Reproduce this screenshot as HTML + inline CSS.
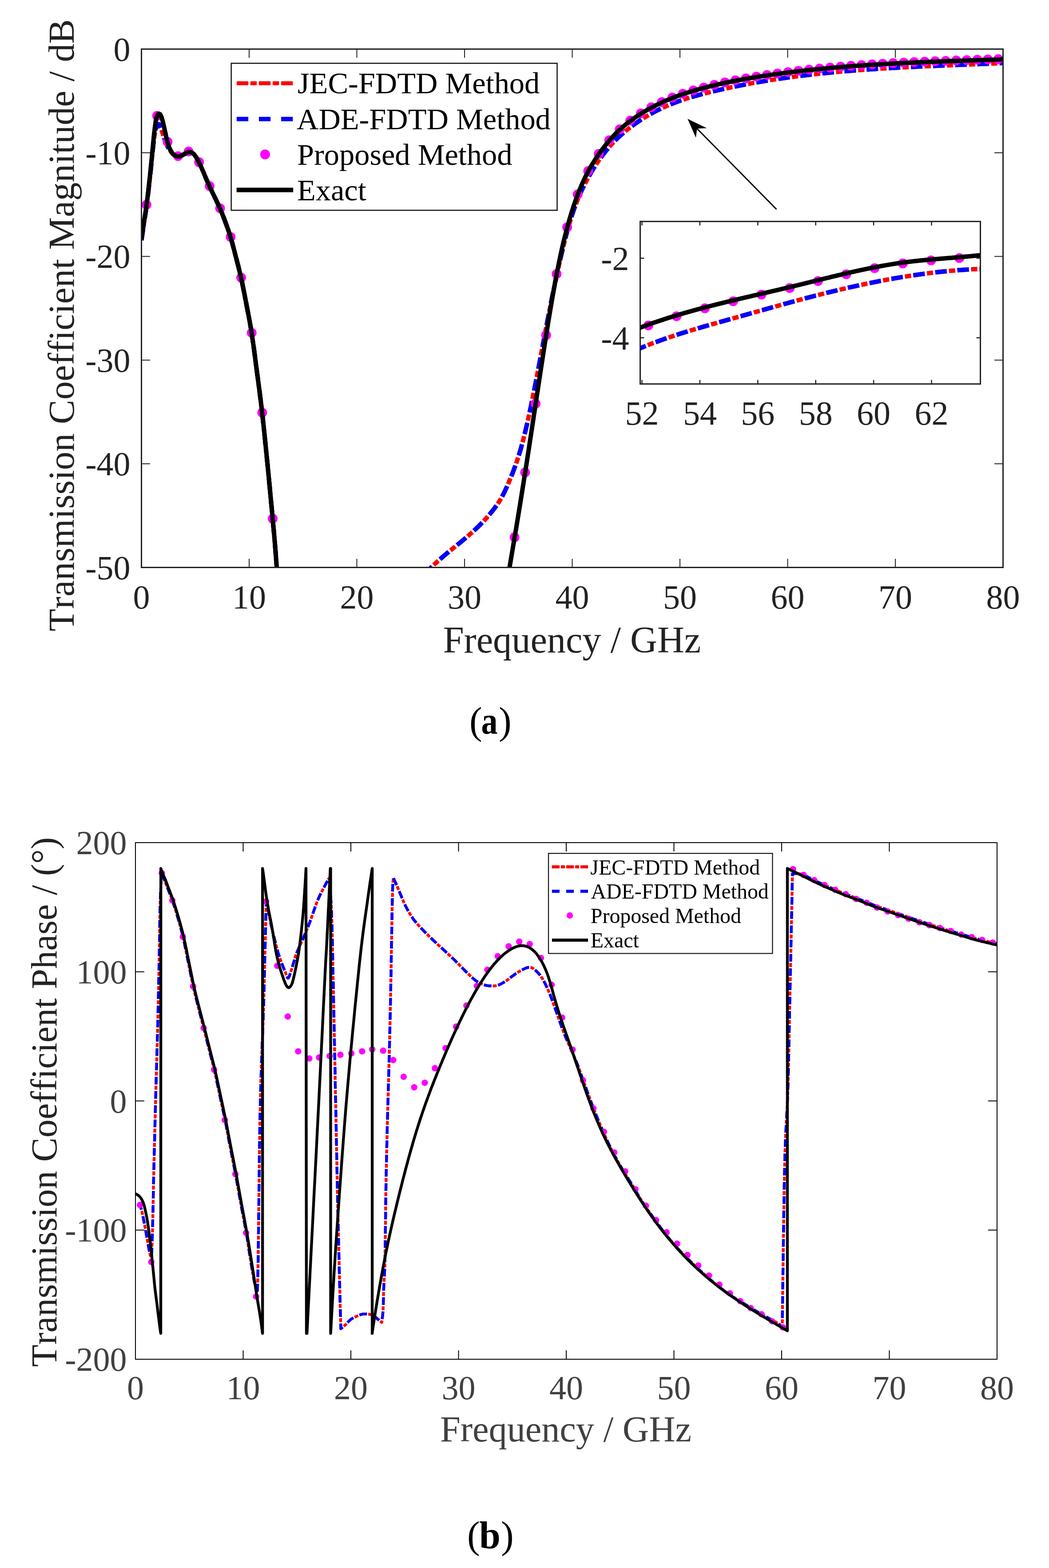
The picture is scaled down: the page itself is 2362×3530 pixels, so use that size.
<!DOCTYPE html>
<html><head><meta charset="utf-8"><title>Transmission coefficient figure</title>
<style>
html,body{margin:0;padding:0;background:#fff;}
svg{display:block;}
text{font-family:"Liberation Serif", "Times New Roman", serif;font-variant-ligatures:none;font-kerning:none;}
</style></head><body>
<svg xmlns="http://www.w3.org/2000/svg" width="2362" height="3530" viewBox="0 0 2362 3530">
<rect x="0" y="0" width="2362" height="3530" fill="#fff"/>
<defs>
<clipPath id="ca"><rect x="318.5" y="110.5" width="1940.0" height="1167.0"/></clipPath>
<clipPath id="ci"><rect x="1441.5" y="498.6" width="766.0" height="365.79999999999995"/></clipPath>
</defs>
<g clip-path="url(#ca)" fill="none" stroke-linejoin="round">
<path d="M318.5,541.0 L318.7,539.7 L318.9,538.2 L319.2,536.4 L319.5,534.4 L319.8,532.2 L320.2,529.9 L320.5,527.4 L320.9,524.9 L321.3,522.2 L321.7,519.6 L322.1,516.9 L322.5,514.2 L322.9,511.5 L323.3,508.9 L323.6,506.4 L324.0,504.0 L324.4,501.7 L324.7,499.3 L325.1,497.0 L325.4,494.7 L325.8,492.4 L326.1,490.0 L326.5,487.7 L326.9,485.4 L327.2,483.0 L327.6,480.7 L327.9,478.3 L328.3,475.9 L328.7,473.4 L329.0,471.0 L329.4,468.5 L329.7,466.0 L330.0,463.5 L330.4,460.9 L330.7,458.4 L331.0,455.8 L331.4,453.2 L331.7,450.6 L332.0,448.0 L332.4,445.3 L332.7,442.6 L333.0,439.9 L333.3,437.2 L333.7,434.4 L334.0,431.6 L334.3,428.8 L334.7,425.9 L335.0,423.0 L335.3,420.0 L335.7,417.0 L336.0,413.9 L336.4,410.8 L336.7,407.6 L337.1,404.4 L337.4,401.1 L337.8,397.9 L338.1,394.6 L338.5,391.3 L338.8,388.1 L339.2,384.8 L339.5,381.6 L339.8,378.3 L340.2,375.1 L340.5,372.0 L340.8,368.8 L341.2,365.6 L341.5,362.3 L341.8,359.0 L342.1,355.7 L342.5,352.4 L342.8,349.1 L343.1,345.9 L343.4,342.7 L343.8,339.5 L344.1,336.5 L344.4,333.5 L344.7,330.7 L345.0,328.0 L345.2,325.4 L345.5,323.0 L345.8,320.8 L346.0,318.6 L346.3,316.6 L346.5,314.8 L346.7,313.0 L346.9,311.3 L347.2,309.7 L347.4,308.2 L347.6,306.7 L347.8,305.4 L348.0,304.0 L348.2,302.8 L348.4,301.5 L348.6,300.3 L348.8,299.2 L349.0,298.0 L349.2,296.9 L349.4,295.8 L349.6,294.9 L349.8,293.9 L350.0,293.1 L350.1,292.3 L350.3,291.5 L350.5,290.8 L350.7,290.1 L350.9,289.5 L351.0,288.9 L351.2,288.3 L351.4,287.7 L351.6,287.1 L351.8,286.6 L352.0,286.0 L352.2,285.4 L352.4,284.9 L352.6,284.4 L352.9,283.9 L353.1,283.5 L353.3,283.0 L353.5,282.6 L353.8,282.2 L354.0,281.9 L354.2,281.5 L354.4,281.2 L354.6,280.9 L354.9,280.6 L355.1,280.4 L355.3,280.2 L355.5,280.0 L355.7,279.8 L355.9,279.7 L356.1,279.6 L356.3,279.5 L356.5,279.4 L356.6,279.4 L356.8,279.4 L357.0,279.4 L357.2,279.4 L357.4,279.5 L357.5,279.6 L357.7,279.7 L357.9,279.9 L358.1,280.1 L358.3,280.3 L358.5,280.5 L358.7,280.8 L358.9,281.1 L359.1,281.4 L359.3,281.8 L359.5,282.1 L359.7,282.6 L359.9,283.0 L360.2,283.5 L360.4,284.0 L360.6,284.5 L360.8,285.0 L361.0,285.6 L361.3,286.2 L361.5,286.8 L361.8,287.4 L362.0,288.0 L362.3,288.7 L362.5,289.3 L362.8,290.1 L363.0,290.8 L363.3,291.6 L363.6,292.4 L363.9,293.2 L364.2,294.0 L364.4,294.9 L364.7,295.7 L365.0,296.6 L365.3,297.5 L365.6,298.4 L365.9,299.2 L366.2,300.1 L366.5,301.0 L366.8,301.9 L367.1,302.8 L367.4,303.7 L367.7,304.7 L368.0,305.6 L368.3,306.6 L368.7,307.6 L369.0,308.6 L369.3,309.5 L369.6,310.5 L369.9,311.5 L370.2,312.4 L370.6,313.3 L370.9,314.3 L371.2,315.1 L371.5,316.0 L371.8,316.8 L372.1,317.7 L372.4,318.5 L372.7,319.3 L373.0,320.1 L373.4,320.9 L373.7,321.6 L374.0,322.4 L374.3,323.1 L374.6,323.9 L374.9,324.6 L375.2,325.3 L375.5,326.0 L375.9,326.7 L376.2,327.3 L376.5,328.0 L376.8,328.6 L377.1,329.3 L377.5,329.9 L377.8,330.4 L378.1,331.0 L378.4,331.5 L378.7,332.1 L379.1,332.6 L379.4,333.1 L379.7,333.6 L380.1,334.2 L380.4,334.7 L380.8,335.3 L381.2,335.8 L381.6,336.4 L382.0,337.0 L382.4,337.6 L382.9,338.3 L383.3,339.0 L383.8,339.6 L384.2,340.4 L384.7,341.1 L385.2,341.8 L385.7,342.5 L386.2,343.2 L386.7,343.9 L387.2,344.6 L387.7,345.2 L388.3,345.9 L388.8,346.4 L389.4,347.0 L390.0,347.5 L390.6,348.0 L391.2,348.4 L391.8,348.9 L392.5,349.3 L393.2,349.8 L393.8,350.2 L394.5,350.6 L395.2,350.9 L395.9,351.2 L396.6,351.5 L397.3,351.8 L398.0,352.0 L398.7,352.2 L399.4,352.3 L400.1,352.4 L400.8,352.5 L401.5,352.5 L402.2,352.4 L402.9,352.3 L403.5,352.2 L404.2,352.0 L404.9,351.8 L405.6,351.5 L406.3,351.2 L407.0,350.9 L407.7,350.6 L408.4,350.2 L409.1,349.9 L409.8,349.5 L410.5,349.2 L411.3,348.8 L412.0,348.5 L412.8,348.1 L413.5,347.7 L414.3,347.3 L415.1,346.8 L415.9,346.3 L416.7,345.8 L417.5,345.3 L418.4,344.8 L419.2,344.3 L420.0,343.9 L420.8,343.4 L421.6,343.0 L422.3,342.7 L423.1,342.4 L423.8,342.1 L424.5,342.0 L425.2,341.9 L425.8,341.9 L426.5,341.9 L427.1,342.0 L427.8,342.1 L428.4,342.2 L429.0,342.4 L429.6,342.6 L430.2,342.8 L430.8,343.1 L431.3,343.4 L431.9,343.7 L432.4,344.0 L433.0,344.3 L433.5,344.7 L434.0,345.0 L434.5,345.4 L435.0,345.7 L435.5,346.1 L435.9,346.5 L436.4,347.0 L436.8,347.4 L437.2,347.9 L437.7,348.4 L438.1,348.9 L438.5,349.5 L438.9,350.0 L439.3,350.6 L439.7,351.2 L440.1,351.8 L440.6,352.4 L441.0,353.0 L441.4,353.7 L441.9,354.3 L442.3,355.0 L442.8,355.8 L443.2,356.5 L443.6,357.2 L444.1,358.0 L444.5,358.8 L444.9,359.6 L445.4,360.4 L445.8,361.3 L446.2,362.1 L446.7,362.9 L447.1,363.8 L447.6,364.6 L448.0,365.5 L448.4,366.4 L448.9,367.2 L449.3,368.1 L449.7,369.0 L450.2,369.9 L450.6,370.8 L451.0,371.7 L451.4,372.6 L451.9,373.5 L452.3,374.5 L452.7,375.4 L453.2,376.4 L453.6,377.4 L454.1,378.4 L454.5,379.4 L455.0,380.5 L455.5,381.6 L455.9,382.7 L456.4,383.8 L456.9,384.9 L457.4,386.1 L457.9,387.2 L458.4,388.4 L458.9,389.6 L459.4,390.8 L459.9,392.1 L460.4,393.3 L460.9,394.5 L461.4,395.8 L461.9,397.0 L462.5,398.3 L463.0,399.5 L463.5,400.8 L464.1,402.0 L464.6,403.3 L465.2,404.6 L465.7,405.9 L466.3,407.2 L466.9,408.5 L467.4,409.8 L468.0,411.1 L468.6,412.4 L469.2,413.8 L469.8,415.1 L470.4,416.4 L471.0,417.8 L471.6,419.1 L472.2,420.5 L472.8,421.9 L473.5,423.2 L474.1,424.6 L474.8,425.9 L475.4,427.3 L476.1,428.7 L476.7,430.1 L477.4,431.4 L478.1,432.8 L478.8,434.2 L479.5,435.7 L480.2,437.1 L480.9,438.5 L481.6,440.0 L482.3,441.5 L483.0,443.0 L483.7,444.5 L484.5,446.1 L485.2,447.6 L486.0,449.2 L486.8,450.8 L487.5,452.4 L488.3,454.1 L489.1,455.7 L489.9,457.4 L490.7,459.0 L491.4,460.7 L492.2,462.3 L493.0,464.0 L493.7,465.7 L494.5,467.3 L495.2,469.0 L495.9,470.6 L496.6,472.3 L497.3,473.9 L498.0,475.5 L498.6,477.0 L499.3,478.6 L499.9,480.2 L500.6,481.8 L501.2,483.5 L501.9,485.1 L502.5,486.8 L503.2,488.5 L503.9,490.3 L504.6,492.2 L505.3,494.0 L506.0,496.0 L506.7,498.0 L507.5,500.1 L508.3,502.2 L509.1,504.3 L509.9,506.5 L510.7,508.7 L511.5,510.9 L512.3,513.2 L513.1,515.5 L514.0,517.9 L514.8,520.3 L515.6,522.7 L516.4,525.1 L517.2,527.6 L518.0,530.2 L518.8,532.7 L519.6,535.3 L520.4,537.9 L521.1,540.6 L521.9,543.3 L522.7,546.1 L523.4,548.9 L524.2,551.8 L524.9,554.6 L525.7,557.5 L526.5,560.4 L527.2,563.3 L528.0,566.2 L528.7,569.2 L529.5,572.1 L530.2,575.1 L531.0,578.0 L531.8,580.9 L532.5,583.8 L533.3,586.7 L534.0,589.6 L534.8,592.6 L535.6,595.5 L536.3,598.4 L537.1,601.4 L537.8,604.3 L538.6,607.4 L539.3,610.4 L540.1,613.5 L540.8,616.7 L541.6,619.9 L542.3,623.2 L543.1,626.5 L543.8,629.9 L544.6,633.4 L545.3,636.9 L546.1,640.5 L546.8,644.1 L547.6,647.8 L548.3,651.5 L549.1,655.3 L549.8,659.0 L550.6,662.9 L551.3,666.7 L552.0,670.5 L552.8,674.4 L553.5,678.3 L554.3,682.1 L555.0,686.0 L555.7,689.9 L556.5,693.7 L557.2,697.5 L557.9,701.3 L558.7,705.1 L559.4,709.0 L560.2,712.8 L560.9,716.7 L561.6,720.6 L562.4,724.6 L563.1,728.7 L563.8,732.8 L564.5,737.0 L565.3,741.3 L566.0,745.8 L566.7,750.3 L567.4,754.9 L568.1,759.7 L568.8,764.6 L569.5,769.5 L570.3,774.5 L571.0,779.6 L571.7,784.8 L572.4,790.0 L573.1,795.3 L573.8,800.6 L574.5,806.0 L575.2,811.4 L575.9,816.8 L576.6,822.2 L577.3,827.6 L578.0,833.0 L578.7,838.4 L579.4,843.8 L580.2,849.1 L580.9,854.5 L581.6,859.9 L582.3,865.3 L583.0,870.7 L583.8,876.2 L584.5,881.8 L585.2,887.4 L585.9,893.1 L586.7,898.9 L587.4,904.8 L588.1,910.8 L588.9,917.0 L589.6,923.3 L590.3,929.7 L591.1,936.3 L591.8,942.9 L592.5,949.7 L593.3,956.6 L594.0,963.5 L594.8,970.5 L595.5,977.7 L596.2,984.9 L597.0,992.1 L597.7,999.5 L598.5,1006.9 L599.2,1014.3 L600.0,1021.8 L600.7,1029.4 L601.5,1037.0 L602.3,1044.8 L603.1,1052.9 L603.9,1061.3 L604.7,1069.9 L605.6,1078.7 L606.4,1087.5 L607.3,1096.4 L608.1,1105.2 L608.9,1113.9 L609.7,1122.5 L610.5,1130.9 L611.3,1138.9 L612.0,1146.6 L612.7,1153.9 L613.3,1160.8 L613.9,1167.1 L614.4,1172.9 L614.9,1178.2 L615.4,1183.1 L615.8,1187.6 L616.2,1191.8 L616.5,1195.7 L616.9,1199.4 L617.2,1202.9 L617.5,1206.3 L617.8,1209.6 L618.1,1212.8 L618.3,1216.1 L618.6,1219.3 L618.9,1222.7 L619.2,1226.3 L619.5,1230.0 L619.8,1233.9 L620.1,1237.9 L620.5,1242.0 L620.8,1246.1 L621.1,1250.3 L621.4,1254.5 L621.7,1258.6 L622.0,1262.7 L622.3,1266.7 L622.6,1270.6 L622.9,1274.3 L623.1,1277.9 L623.4,1281.3 L623.6,1284.4 L623.8,1287.4 L624.0,1290.0 L624.2,1292.4 L624.3,1294.6 L624.5,1296.5 L624.6,1298.3 L624.7,1299.9 L624.8,1301.3 L624.9,1302.6 L625.0,1303.8 L625.1,1304.8 L625.2,1305.7 L625.2,1306.6 L625.3,1307.3 L625.4,1308.1 L625.4,1308.7 L625.5,1309.4 L625.5,1310.0" stroke="#ff0000" stroke-width="10" stroke-dasharray="26 5 14 5"/>
<path d="M955.0,1294.1 L956.5,1292.4 L958.0,1290.8 L959.5,1289.1 L961.0,1287.5 L962.5,1286.0 L964.0,1284.4 L965.5,1282.8 L967.0,1281.3 L968.5,1279.8 L970.0,1278.3 L971.5,1276.8 L973.0,1275.3 L974.5,1273.9 L976.0,1272.4 L977.5,1271.0 L979.0,1269.6 L980.5,1268.2 L982.1,1266.8 L983.6,1265.4 L985.1,1264.1 L986.6,1262.7 L988.1,1261.4 L989.6,1260.0 L991.1,1258.7 L992.6,1257.4 L994.1,1256.1 L995.6,1254.8 L997.1,1253.5 L998.6,1252.2 L1000.1,1250.9 L1001.6,1249.7 L1003.1,1248.4 L1004.6,1247.1 L1006.1,1245.9 L1007.6,1244.6 L1009.1,1243.4 L1010.6,1242.2 L1012.1,1240.9 L1013.6,1239.7 L1015.1,1238.5 L1016.6,1237.3 L1018.1,1236.0 L1019.6,1234.8 L1021.1,1233.6 L1022.6,1232.4 L1024.1,1231.2 L1025.6,1229.9 L1027.1,1228.7 L1028.6,1227.5 L1030.1,1226.3 L1031.6,1225.1 L1033.1,1223.9 L1034.7,1222.6 L1036.2,1221.4 L1037.7,1220.2 L1039.2,1218.9 L1040.7,1217.7 L1042.2,1216.4 L1043.7,1215.2 L1045.2,1213.9 L1046.7,1212.7 L1048.2,1211.4 L1049.7,1210.1 L1051.2,1208.9 L1052.7,1207.6 L1054.2,1206.3 L1055.7,1205.0 L1057.2,1203.7 L1058.7,1202.3 L1060.2,1201.0 L1061.7,1199.7 L1063.2,1198.3 L1064.7,1197.0 L1066.2,1195.6 L1067.7,1194.2 L1069.2,1192.8 L1070.7,1191.4 L1072.2,1190.0 L1073.7,1188.5 L1075.2,1187.1 L1076.7,1185.6 L1078.2,1184.1 L1079.7,1182.6 L1081.2,1181.1 L1082.7,1179.6 L1084.2,1178.1 L1085.7,1176.5 L1087.3,1174.9 L1088.8,1173.3 L1090.3,1171.7 L1091.8,1170.1 L1093.3,1168.4 L1094.8,1166.8 L1096.3,1165.1 L1097.8,1163.4 L1099.3,1161.6 L1100.8,1159.9 L1102.3,1158.1 L1103.8,1156.3 L1105.3,1154.5 L1106.8,1152.6 L1108.3,1150.8 L1109.8,1148.9 L1111.3,1147.0 L1112.8,1145.0 L1114.3,1143.1 L1115.8,1141.1 L1117.3,1139.0 L1118.8,1136.9 L1120.3,1134.7 L1121.8,1132.5 L1123.3,1130.2 L1124.8,1127.8 L1126.3,1125.4 L1127.8,1122.9 L1129.3,1120.2 L1130.8,1117.5 L1132.3,1114.7 L1133.8,1111.8 L1135.3,1108.8 L1136.8,1105.6 L1138.3,1102.4 L1139.9,1099.0 L1141.4,1095.6 L1142.9,1092.2 L1144.4,1088.6 L1145.9,1085.1 L1147.4,1081.5 L1148.9,1077.9 L1150.4,1074.3 L1151.9,1070.6 L1153.4,1066.8 L1154.9,1063.0 L1156.4,1059.1 L1157.9,1055.1 L1159.4,1051.1 L1160.9,1046.9 L1162.4,1042.7 L1163.9,1038.3 L1165.4,1033.8 L1166.9,1029.2 L1168.4,1024.5 L1169.9,1019.6 L1171.4,1014.6 L1172.9,1009.4 L1174.4,1004.0 L1175.9,998.5 L1177.4,992.9 L1178.9,987.1 L1180.4,981.1 L1181.9,975.0 L1183.4,968.7 L1184.9,962.4 L1186.4,955.9 L1187.9,949.2 L1189.4,942.5 L1190.9,935.7 L1192.5,928.7 L1194.0,921.6 L1195.5,914.5 L1197.0,907.3 L1198.5,899.9 L1200.0,892.5 L1201.5,885.1 L1203.0,877.5 L1204.5,869.9 L1206.0,862.3 L1207.5,854.6 L1209.0,846.8 L1210.5,839.0 L1212.0,831.2 L1213.5,823.3 L1215.0,815.4 L1216.5,807.5 L1218.0,799.6 L1219.5,791.7 L1221.0,783.7 L1222.5,775.8 L1224.0,767.9 L1225.5,760.0 L1227.0,752.1 L1228.5,744.2 L1230.0,736.4 L1231.5,728.5 L1233.0,720.8 L1234.5,713.0 L1236.0,705.4 L1237.5,697.7 L1239.0,690.1 L1240.5,682.6 L1242.0,675.1 L1243.5,667.6 L1245.1,660.3 L1246.6,653.0 L1248.1,645.7 L1249.6,638.5 L1251.1,631.4 L1252.6,624.3 L1254.1,617.4 L1255.6,610.4 L1257.1,603.6 L1258.6,596.9 L1260.1,590.2 L1261.6,583.6 L1263.1,577.1 L1264.6,570.7 L1266.1,564.4 L1267.6,558.2 L1269.1,552.1 L1270.6,546.0 L1272.1,540.1 L1273.6,534.3 L1275.1,528.6 L1276.6,523.0 L1278.1,517.5 L1279.6,512.1 L1281.1,506.9 L1282.6,501.7 L1284.1,496.7 L1285.6,491.8 L1287.1,487.0 L1288.6,482.4 L1290.1,477.9 L1291.6,473.5 L1293.1,469.2 L1294.6,465.0 L1296.1,461.0 L1297.7,457.1 L1299.2,453.2 L1300.7,449.5 L1302.2,445.8 L1303.7,442.3 L1305.2,438.8 L1306.7,435.4 L1308.2,432.1 L1309.7,428.8 L1311.2,425.6 L1312.7,422.5 L1314.2,419.5 L1315.7,416.5 L1317.2,413.5 L1318.7,410.6 L1320.2,407.7 L1321.7,404.9 L1323.2,402.1 L1324.7,399.3 L1326.2,396.6 L1327.7,394.0 L1329.2,391.4 L1330.7,388.8 L1332.2,386.2 L1333.7,383.7 L1335.2,381.2 L1336.7,378.8 L1338.2,376.4 L1339.7,374.0 L1341.2,371.7 L1342.7,369.4 L1344.2,367.1 L1345.7,364.9 L1347.2,362.7 L1348.7,360.5 L1350.3,358.4 L1351.8,356.3 L1353.3,354.2 L1354.8,352.1 L1356.3,350.1 L1357.8,348.1 L1359.3,346.2 L1360.8,344.2 L1362.3,342.3 L1363.8,340.4 L1365.3,338.6 L1366.8,336.8 L1368.3,335.0 L1369.8,333.2 L1371.3,331.4 L1372.8,329.7 L1374.3,328.0 L1375.8,326.3 L1377.3,324.7 L1378.8,323.1 L1380.3,321.5 L1381.8,319.9 L1383.3,318.3 L1384.8,316.8 L1386.3,315.3 L1387.8,313.8 L1389.3,312.3 L1390.8,310.8 L1392.3,309.4 L1393.8,308.0 L1395.3,306.6 L1396.8,305.2 L1398.3,303.9 L1399.8,302.5 L1401.3,301.2 L1402.9,299.9 L1404.4,298.6 L1405.9,297.3 L1407.4,296.1 L1408.9,294.8 L1410.4,293.6 L1411.9,292.4 L1413.4,291.2 L1414.9,290.0 L1416.4,288.8 L1417.9,287.6 L1419.4,286.5 L1420.9,285.3 L1422.4,284.2 L1423.9,283.1 L1425.4,282.0 L1426.9,280.9 L1428.4,279.8 L1429.9,278.7 L1431.4,277.7 L1432.9,276.6 L1434.4,275.6 L1435.9,274.5 L1437.4,273.5 L1438.9,272.5 L1440.4,271.5 L1441.9,270.5 L1443.4,269.5 L1444.9,268.6 L1446.4,267.6 L1447.9,266.6 L1449.4,265.7 L1450.9,264.8 L1452.4,263.9 L1453.9,262.9 L1455.5,262.0 L1457.0,261.1 L1458.5,260.3 L1460.0,259.4 L1461.5,258.5 L1463.0,257.6 L1464.5,256.8 L1466.0,256.0 L1467.5,255.1 L1469.0,254.3 L1470.5,253.5 L1472.0,252.7 L1473.5,251.9 L1475.0,251.1 L1476.5,250.3 L1478.0,249.5 L1479.5,248.8 L1481.0,248.0 L1482.5,247.3 L1484.0,246.5 L1485.5,245.8 L1487.0,245.1 L1488.5,244.3 L1490.0,243.6 L1491.5,242.9 L1493.0,242.2 L1494.5,241.5 L1496.0,240.9 L1497.5,240.2 L1499.0,239.5 L1500.5,238.9 L1502.0,238.2 L1503.5,237.6 L1505.0,236.9 L1506.5,236.3 L1508.1,235.7 L1509.6,235.1 L1511.1,234.4 L1512.6,233.8 L1514.1,233.2 L1515.6,232.6 L1517.1,232.1 L1518.6,231.5 L1520.1,230.9 L1521.6,230.3 L1523.1,229.8 L1524.6,229.2 L1526.1,228.7 L1527.6,228.1 L1529.1,227.6 L1530.6,227.0 L1532.1,226.5 L1533.6,226.0 L1535.1,225.5 L1536.6,224.9 L1538.1,224.4 L1539.6,223.9 L1541.1,223.4 L1542.6,222.9 L1544.1,222.5 L1545.6,222.0 L1547.1,221.5 L1548.6,221.0 L1550.1,220.5 L1551.6,220.1 L1553.1,219.6 L1554.6,219.2 L1556.1,218.7 L1557.6,218.3 L1559.1,217.8 L1560.7,217.4 L1562.2,216.9 L1563.7,216.5 L1565.2,216.1 L1566.7,215.7 L1568.2,215.2 L1569.7,214.8 L1571.2,214.4 L1572.7,214.0 L1574.2,213.6 L1575.7,213.2 L1577.2,212.8 L1578.7,212.4 L1580.2,212.0 L1581.7,211.6 L1583.2,211.2 L1584.7,210.8 L1586.2,210.4 L1587.7,210.0 L1589.2,209.7 L1590.7,209.3 L1592.2,208.9 L1593.7,208.5 L1595.2,208.2 L1596.7,207.8 L1598.2,207.4 L1599.7,207.1 L1601.2,206.7 L1602.7,206.3 L1604.2,206.0 L1605.7,205.6 L1607.2,205.3 L1608.7,204.9 L1610.2,204.6 L1611.7,204.2 L1613.3,203.9 L1614.8,203.5 L1616.3,203.2 L1617.8,202.8 L1619.3,202.5 L1620.8,202.1 L1622.3,201.8 L1623.8,201.5 L1625.3,201.1 L1626.8,200.8 L1628.3,200.4 L1629.8,200.1 L1631.3,199.8 L1632.8,199.5 L1634.3,199.1 L1635.8,198.8 L1637.3,198.5 L1638.8,198.1 L1640.3,197.8 L1641.8,197.5 L1643.3,197.2 L1644.8,196.9 L1646.3,196.5 L1647.8,196.2 L1649.3,195.9 L1650.8,195.6 L1652.3,195.3 L1653.8,195.0 L1655.3,194.7 L1656.8,194.4 L1658.3,194.1 L1659.8,193.8 L1661.3,193.5 L1662.8,193.2 L1664.3,192.9 L1665.9,192.6 L1667.4,192.3 L1668.9,192.0 L1670.4,191.7 L1671.9,191.4 L1673.4,191.1 L1674.9,190.8 L1676.4,190.5 L1677.9,190.2 L1679.4,189.9 L1680.9,189.7 L1682.4,189.4 L1683.9,189.1 L1685.4,188.8 L1686.9,188.5 L1688.4,188.3 L1689.9,188.0 L1691.4,187.7 L1692.9,187.4 L1694.4,187.2 L1695.9,186.9 L1697.4,186.6 L1698.9,186.4 L1700.4,186.1 L1701.9,185.8 L1703.4,185.6 L1704.9,185.3 L1706.4,185.0 L1707.9,184.8 L1709.4,184.5 L1710.9,184.3 L1712.4,184.0 L1713.9,183.7 L1715.4,183.5 L1716.9,183.2 L1718.5,183.0 L1720.0,182.7 L1721.5,182.5 L1723.0,182.2 L1724.5,182.0 L1726.0,181.7 L1727.5,181.5 L1729.0,181.3 L1730.5,181.0 L1732.0,180.8 L1733.5,180.5 L1735.0,180.3 L1736.5,180.1 L1738.0,179.8 L1739.5,179.6 L1741.0,179.4 L1742.5,179.1 L1744.0,178.9 L1745.5,178.7 L1747.0,178.4 L1748.5,178.2 L1750.0,178.0 L1751.5,177.8 L1753.0,177.5 L1754.5,177.3 L1756.0,177.1 L1757.5,176.9 L1759.0,176.7 L1760.5,176.4 L1762.0,176.2 L1763.5,176.0 L1765.0,175.8 L1766.5,175.6 L1768.0,175.4 L1769.5,175.2 L1771.1,174.9 L1772.6,174.7 L1774.1,174.5 L1775.6,174.3 L1777.1,174.1 L1778.6,173.9 L1780.1,173.7 L1781.6,173.5 L1783.1,173.3 L1784.6,173.1 L1786.1,172.9 L1787.6,172.7 L1789.1,172.5 L1790.6,172.3 L1792.1,172.1 L1793.6,171.9 L1795.1,171.7 L1796.6,171.5 L1798.1,171.3 L1799.6,171.2 L1801.1,171.0 L1802.6,170.8 L1804.1,170.6 L1805.6,170.4 L1807.1,170.2 L1808.6,170.0 L1810.1,169.9 L1811.6,169.7 L1813.1,169.5 L1814.6,169.3 L1816.1,169.1 L1817.6,169.0 L1819.1,168.8 L1820.6,168.6 L1822.1,168.4 L1823.7,168.3 L1825.2,168.1 L1826.7,167.9 L1828.2,167.7 L1829.7,167.6 L1831.2,167.4 L1832.7,167.2 L1834.2,167.1 L1835.7,166.9 L1837.2,166.7 L1838.7,166.6 L1840.2,166.4 L1841.7,166.3 L1843.2,166.1 L1844.7,165.9 L1846.2,165.8 L1847.7,165.6 L1849.2,165.5 L1850.7,165.3 L1852.2,165.1 L1853.7,165.0 L1855.2,164.8 L1856.7,164.7 L1858.2,164.5 L1859.7,164.4 L1861.2,164.2 L1862.7,164.1 L1864.2,163.9 L1865.7,163.8 L1867.2,163.6 L1868.7,163.5 L1870.2,163.3 L1871.7,163.2 L1873.2,163.1 L1874.7,162.9 L1876.3,162.8 L1877.8,162.6 L1879.3,162.5 L1880.8,162.3 L1882.3,162.2 L1883.8,162.1 L1885.3,161.9 L1886.8,161.8 L1888.3,161.7 L1889.8,161.5 L1891.3,161.4 L1892.8,161.3 L1894.3,161.1 L1895.8,161.0 L1897.3,160.9 L1898.8,160.7 L1900.3,160.6 L1901.8,160.5 L1903.3,160.3 L1904.8,160.2 L1906.3,160.1 L1907.8,160.0 L1909.3,159.8 L1910.8,159.7 L1912.3,159.6 L1913.8,159.5 L1915.3,159.3 L1916.8,159.2 L1918.3,159.1 L1919.8,159.0 L1921.3,158.9 L1922.8,158.7 L1924.3,158.6 L1925.8,158.5 L1927.3,158.4 L1928.9,158.3 L1930.4,158.2 L1931.9,158.0 L1933.4,157.9 L1934.9,157.8 L1936.4,157.7 L1937.9,157.6 L1939.4,157.5 L1940.9,157.4 L1942.4,157.3 L1943.9,157.2 L1945.4,157.0 L1946.9,156.9 L1948.4,156.8 L1949.9,156.7 L1951.4,156.6 L1952.9,156.5 L1954.4,156.4 L1955.9,156.3 L1957.4,156.2 L1958.9,156.1 L1960.4,156.0 L1961.9,155.9 L1963.4,155.8 L1964.9,155.7 L1966.4,155.6 L1967.9,155.5 L1969.4,155.4 L1970.9,155.3 L1972.4,155.2 L1973.9,155.1 L1975.4,155.0 L1976.9,154.9 L1978.4,154.8 L1979.9,154.7 L1981.5,154.6 L1983.0,154.5 L1984.5,154.4 L1986.0,154.3 L1987.5,154.2 L1989.0,154.1 L1990.5,154.1 L1992.0,154.0 L1993.5,153.9 L1995.0,153.8 L1996.5,153.7 L1998.0,153.6 L1999.5,153.5 L2001.0,153.4 L2002.5,153.3 L2004.0,153.3 L2005.5,153.2 L2007.0,153.1 L2008.5,153.0 L2010.0,152.9 L2011.5,152.8 L2013.0,152.7 L2014.5,152.7 L2016.0,152.6 L2017.5,152.5 L2019.0,152.4 L2020.5,152.3 L2022.0,152.2 L2023.5,152.2 L2025.0,152.1 L2026.5,152.0 L2028.0,151.9 L2029.5,151.8 L2031.0,151.8 L2032.5,151.7 L2034.1,151.6 L2035.6,151.5 L2037.1,151.5 L2038.6,151.4 L2040.1,151.3 L2041.6,151.2 L2043.1,151.1 L2044.6,151.1 L2046.1,151.0 L2047.6,150.9 L2049.1,150.8 L2050.6,150.8 L2052.1,150.7 L2053.6,150.6 L2055.1,150.5 L2056.6,150.5 L2058.1,150.4 L2059.6,150.3 L2061.1,150.3 L2062.6,150.2 L2064.1,150.1 L2065.6,150.0 L2067.1,150.0 L2068.6,149.9 L2070.1,149.8 L2071.6,149.8 L2073.1,149.7 L2074.6,149.6 L2076.1,149.6 L2077.6,149.5 L2079.1,149.4 L2080.6,149.3 L2082.1,149.3 L2083.6,149.2 L2085.1,149.1 L2086.7,149.1 L2088.2,149.0 L2089.7,148.9 L2091.2,148.9 L2092.7,148.8 L2094.2,148.7 L2095.7,148.7 L2097.2,148.6 L2098.7,148.5 L2100.2,148.5 L2101.7,148.4 L2103.2,148.4 L2104.7,148.3 L2106.2,148.2 L2107.7,148.2 L2109.2,148.1 L2110.7,148.0 L2112.2,148.0 L2113.7,147.9 L2115.2,147.8 L2116.7,147.8 L2118.2,147.7 L2119.7,147.7 L2121.2,147.6 L2122.7,147.5 L2124.2,147.5 L2125.7,147.4 L2127.2,147.3 L2128.7,147.3 L2130.2,147.2 L2131.7,147.2 L2133.2,147.1 L2134.7,147.0 L2136.2,147.0 L2137.7,146.9 L2139.3,146.9 L2140.8,146.8 L2142.3,146.7 L2143.8,146.7 L2145.3,146.6 L2146.8,146.5 L2148.3,146.5 L2149.8,146.4 L2151.3,146.4 L2152.8,146.3 L2154.3,146.2 L2155.8,146.2 L2157.3,146.1 L2158.8,146.1 L2160.3,146.0 L2161.8,145.9 L2163.3,145.9 L2164.8,145.8 L2166.3,145.8 L2167.8,145.7 L2169.3,145.6 L2170.8,145.6 L2172.3,145.5 L2173.8,145.5 L2175.3,145.4 L2176.8,145.3 L2178.3,145.3 L2179.8,145.2 L2181.3,145.2 L2182.8,145.1 L2184.3,145.0 L2185.8,145.0 L2187.3,144.9 L2188.8,144.9 L2190.3,144.8 L2191.9,144.7 L2193.4,144.7 L2194.9,144.6 L2196.4,144.6 L2197.9,144.5 L2199.4,144.4 L2200.9,144.4 L2202.4,144.3 L2203.9,144.3 L2205.4,144.2 L2206.9,144.1 L2208.4,144.1 L2209.9,144.0 L2211.4,144.0 L2212.9,143.9 L2214.4,143.8 L2215.9,143.8 L2217.4,143.7 L2218.9,143.7 L2220.4,143.6 L2221.9,143.5 L2223.4,143.5 L2224.9,143.4 L2226.4,143.3 L2227.9,143.3 L2229.4,143.2 L2230.9,143.2 L2232.4,143.1 L2233.9,143.0 L2235.4,143.0 L2236.9,142.9 L2238.4,142.8 L2239.9,142.8 L2241.4,142.7 L2242.9,142.7 L2244.5,142.6 L2246.0,142.5 L2247.5,142.5 L2249.0,142.4 L2250.5,142.3 L2252.0,142.3 L2253.5,142.2 L2255.0,142.1 L2256.5,142.1 L2258.0,142.0 L2259.5,141.9 L2261.0,141.9 L2262.5,141.8 L2264.0,141.7 L2265.5,141.7 L2267.0,141.6 L2268.5,141.5 L2270.0,141.5" stroke="#ff0000" stroke-width="10" stroke-dasharray="26 5 14 5"/>
<path d="M318.5,541.0 L318.7,539.7 L318.9,538.2 L319.2,536.4 L319.5,534.4 L319.8,532.2 L320.2,529.9 L320.5,527.4 L320.9,524.9 L321.3,522.2 L321.7,519.6 L322.1,516.9 L322.5,514.2 L322.9,511.5 L323.3,508.9 L323.6,506.4 L324.0,504.0 L324.4,501.7 L324.7,499.3 L325.1,497.0 L325.4,494.7 L325.8,492.4 L326.1,490.0 L326.5,487.7 L326.9,485.4 L327.2,483.0 L327.6,480.7 L327.9,478.3 L328.3,475.9 L328.7,473.4 L329.0,471.0 L329.4,468.5 L329.7,466.0 L330.0,463.5 L330.4,460.9 L330.7,458.4 L331.0,455.8 L331.4,453.2 L331.7,450.6 L332.0,448.0 L332.4,445.3 L332.7,442.6 L333.0,439.9 L333.3,437.2 L333.7,434.4 L334.0,431.6 L334.3,428.8 L334.7,425.9 L335.0,423.0 L335.3,420.0 L335.7,417.0 L336.0,413.9 L336.4,410.8 L336.7,407.6 L337.1,404.4 L337.4,401.1 L337.8,397.9 L338.1,394.6 L338.5,391.3 L338.8,388.1 L339.2,384.8 L339.5,381.6 L339.8,378.3 L340.2,375.1 L340.5,372.0 L340.8,368.8 L341.2,365.6 L341.5,362.3 L341.8,359.0 L342.1,355.7 L342.5,352.4 L342.8,349.1 L343.1,345.9 L343.4,342.7 L343.8,339.5 L344.1,336.5 L344.4,333.5 L344.7,330.7 L345.0,328.0 L345.2,325.4 L345.5,323.0 L345.8,320.8 L346.0,318.6 L346.3,316.6 L346.5,314.8 L346.7,313.0 L346.9,311.3 L347.2,309.7 L347.4,308.2 L347.6,306.7 L347.8,305.4 L348.0,304.0 L348.2,302.8 L348.4,301.5 L348.6,300.3 L348.8,299.2 L349.0,298.0 L349.2,296.9 L349.4,295.8 L349.6,294.9 L349.8,293.9 L350.0,293.1 L350.1,292.3 L350.3,291.5 L350.5,290.8 L350.7,290.1 L350.9,289.5 L351.0,288.9 L351.2,288.3 L351.4,287.7 L351.6,287.1 L351.8,286.6 L352.0,286.0 L352.2,285.4 L352.4,284.9 L352.6,284.4 L352.9,283.9 L353.1,283.5 L353.3,283.0 L353.5,282.6 L353.8,282.2 L354.0,281.9 L354.2,281.5 L354.4,281.2 L354.6,280.9 L354.9,280.6 L355.1,280.4 L355.3,280.2 L355.5,280.0 L355.7,279.8 L355.9,279.7 L356.1,279.6 L356.3,279.5 L356.5,279.4 L356.6,279.4 L356.8,279.4 L357.0,279.4 L357.2,279.4 L357.4,279.5 L357.5,279.6 L357.7,279.7 L357.9,279.9 L358.1,280.1 L358.3,280.3 L358.5,280.5 L358.7,280.8 L358.9,281.1 L359.1,281.4 L359.3,281.8 L359.5,282.1 L359.7,282.6 L359.9,283.0 L360.2,283.5 L360.4,284.0 L360.6,284.5 L360.8,285.0 L361.0,285.6 L361.3,286.2 L361.5,286.8 L361.8,287.4 L362.0,288.0 L362.3,288.7 L362.5,289.3 L362.8,290.1 L363.0,290.8 L363.3,291.6 L363.6,292.4 L363.9,293.2 L364.2,294.0 L364.4,294.9 L364.7,295.7 L365.0,296.6 L365.3,297.5 L365.6,298.4 L365.9,299.2 L366.2,300.1 L366.5,301.0 L366.8,301.9 L367.1,302.8 L367.4,303.7 L367.7,304.7 L368.0,305.6 L368.3,306.6 L368.7,307.6 L369.0,308.6 L369.3,309.5 L369.6,310.5 L369.9,311.5 L370.2,312.4 L370.6,313.3 L370.9,314.3 L371.2,315.1 L371.5,316.0 L371.8,316.8 L372.1,317.7 L372.4,318.5 L372.7,319.3 L373.0,320.1 L373.4,320.9 L373.7,321.6 L374.0,322.4 L374.3,323.1 L374.6,323.9 L374.9,324.6 L375.2,325.3 L375.5,326.0 L375.9,326.7 L376.2,327.3 L376.5,328.0 L376.8,328.6 L377.1,329.3 L377.5,329.9 L377.8,330.4 L378.1,331.0 L378.4,331.5 L378.7,332.1 L379.1,332.6 L379.4,333.1 L379.7,333.6 L380.1,334.2 L380.4,334.7 L380.8,335.3 L381.2,335.8 L381.6,336.4 L382.0,337.0 L382.4,337.6 L382.9,338.3 L383.3,339.0 L383.8,339.6 L384.2,340.4 L384.7,341.1 L385.2,341.8 L385.7,342.5 L386.2,343.2 L386.7,343.9 L387.2,344.6 L387.7,345.2 L388.3,345.9 L388.8,346.4 L389.4,347.0 L390.0,347.5 L390.6,348.0 L391.2,348.4 L391.8,348.9 L392.5,349.3 L393.2,349.8 L393.8,350.2 L394.5,350.6 L395.2,350.9 L395.9,351.2 L396.6,351.5 L397.3,351.8 L398.0,352.0 L398.7,352.2 L399.4,352.3 L400.1,352.4 L400.8,352.5 L401.5,352.5 L402.2,352.4 L402.9,352.3 L403.5,352.2 L404.2,352.0 L404.9,351.8 L405.6,351.5 L406.3,351.2 L407.0,350.9 L407.7,350.6 L408.4,350.2 L409.1,349.9 L409.8,349.5 L410.5,349.2 L411.3,348.8 L412.0,348.5 L412.8,348.1 L413.5,347.7 L414.3,347.3 L415.1,346.8 L415.9,346.3 L416.7,345.8 L417.5,345.3 L418.4,344.8 L419.2,344.3 L420.0,343.9 L420.8,343.4 L421.6,343.0 L422.3,342.7 L423.1,342.4 L423.8,342.1 L424.5,342.0 L425.2,341.9 L425.8,341.9 L426.5,341.9 L427.1,342.0 L427.8,342.1 L428.4,342.2 L429.0,342.4 L429.6,342.6 L430.2,342.8 L430.8,343.1 L431.3,343.4 L431.9,343.7 L432.4,344.0 L433.0,344.3 L433.5,344.7 L434.0,345.0 L434.5,345.4 L435.0,345.7 L435.5,346.1 L435.9,346.5 L436.4,347.0 L436.8,347.4 L437.2,347.9 L437.7,348.4 L438.1,348.9 L438.5,349.5 L438.9,350.0 L439.3,350.6 L439.7,351.2 L440.1,351.8 L440.6,352.4 L441.0,353.0 L441.4,353.7 L441.9,354.3 L442.3,355.0 L442.8,355.8 L443.2,356.5 L443.6,357.2 L444.1,358.0 L444.5,358.8 L444.9,359.6 L445.4,360.4 L445.8,361.3 L446.2,362.1 L446.7,362.9 L447.1,363.8 L447.6,364.6 L448.0,365.5 L448.4,366.4 L448.9,367.2 L449.3,368.1 L449.7,369.0 L450.2,369.9 L450.6,370.8 L451.0,371.7 L451.4,372.6 L451.9,373.5 L452.3,374.5 L452.7,375.4 L453.2,376.4 L453.6,377.4 L454.1,378.4 L454.5,379.4 L455.0,380.5 L455.5,381.6 L455.9,382.7 L456.4,383.8 L456.9,384.9 L457.4,386.1 L457.9,387.2 L458.4,388.4 L458.9,389.6 L459.4,390.8 L459.9,392.1 L460.4,393.3 L460.9,394.5 L461.4,395.8 L461.9,397.0 L462.5,398.3 L463.0,399.5 L463.5,400.8 L464.1,402.0 L464.6,403.3 L465.2,404.6 L465.7,405.9 L466.3,407.2 L466.9,408.5 L467.4,409.8 L468.0,411.1 L468.6,412.4 L469.2,413.8 L469.8,415.1 L470.4,416.4 L471.0,417.8 L471.6,419.1 L472.2,420.5 L472.8,421.9 L473.5,423.2 L474.1,424.6 L474.8,425.9 L475.4,427.3 L476.1,428.7 L476.7,430.1 L477.4,431.4 L478.1,432.8 L478.8,434.2 L479.5,435.7 L480.2,437.1 L480.9,438.5 L481.6,440.0 L482.3,441.5 L483.0,443.0 L483.7,444.5 L484.5,446.1 L485.2,447.6 L486.0,449.2 L486.8,450.8 L487.5,452.4 L488.3,454.1 L489.1,455.7 L489.9,457.4 L490.7,459.0 L491.4,460.7 L492.2,462.3 L493.0,464.0 L493.7,465.7 L494.5,467.3 L495.2,469.0 L495.9,470.6 L496.6,472.3 L497.3,473.9 L498.0,475.5 L498.6,477.0 L499.3,478.6 L499.9,480.2 L500.6,481.8 L501.2,483.5 L501.9,485.1 L502.5,486.8 L503.2,488.5 L503.9,490.3 L504.6,492.2 L505.3,494.0 L506.0,496.0 L506.7,498.0 L507.5,500.1 L508.3,502.2 L509.1,504.3 L509.9,506.5 L510.7,508.7 L511.5,510.9 L512.3,513.2 L513.1,515.5 L514.0,517.9 L514.8,520.3 L515.6,522.7 L516.4,525.1 L517.2,527.6 L518.0,530.2 L518.8,532.7 L519.6,535.3 L520.4,537.9 L521.1,540.6 L521.9,543.3 L522.7,546.1 L523.4,548.9 L524.2,551.8 L524.9,554.6 L525.7,557.5 L526.5,560.4 L527.2,563.3 L528.0,566.2 L528.7,569.2 L529.5,572.1 L530.2,575.1 L531.0,578.0 L531.8,580.9 L532.5,583.8 L533.3,586.7 L534.0,589.6 L534.8,592.6 L535.6,595.5 L536.3,598.4 L537.1,601.4 L537.8,604.3 L538.6,607.4 L539.3,610.4 L540.1,613.5 L540.8,616.7 L541.6,619.9 L542.3,623.2 L543.1,626.5 L543.8,629.9 L544.6,633.4 L545.3,636.9 L546.1,640.5 L546.8,644.1 L547.6,647.8 L548.3,651.5 L549.1,655.3 L549.8,659.0 L550.6,662.9 L551.3,666.7 L552.0,670.5 L552.8,674.4 L553.5,678.3 L554.3,682.1 L555.0,686.0 L555.7,689.9 L556.5,693.7 L557.2,697.5 L557.9,701.3 L558.7,705.1 L559.4,709.0 L560.2,712.8 L560.9,716.7 L561.6,720.6 L562.4,724.6 L563.1,728.7 L563.8,732.8 L564.5,737.0 L565.3,741.3 L566.0,745.8 L566.7,750.3 L567.4,754.9 L568.1,759.7 L568.8,764.6 L569.5,769.5 L570.3,774.5 L571.0,779.6 L571.7,784.8 L572.4,790.0 L573.1,795.3 L573.8,800.6 L574.5,806.0 L575.2,811.4 L575.9,816.8 L576.6,822.2 L577.3,827.6 L578.0,833.0 L578.7,838.4 L579.4,843.8 L580.2,849.1 L580.9,854.5 L581.6,859.9 L582.3,865.3 L583.0,870.7 L583.8,876.2 L584.5,881.8 L585.2,887.4 L585.9,893.1 L586.7,898.9 L587.4,904.8 L588.1,910.8 L588.9,917.0 L589.6,923.3 L590.3,929.7 L591.1,936.3 L591.8,942.9 L592.5,949.7 L593.3,956.6 L594.0,963.5 L594.8,970.5 L595.5,977.7 L596.2,984.9 L597.0,992.1 L597.7,999.5 L598.5,1006.9 L599.2,1014.3 L600.0,1021.8 L600.7,1029.4 L601.5,1037.0 L602.3,1044.8 L603.1,1052.9 L603.9,1061.3 L604.7,1069.9 L605.6,1078.7 L606.4,1087.5 L607.3,1096.4 L608.1,1105.2 L608.9,1113.9 L609.7,1122.5 L610.5,1130.9 L611.3,1138.9 L612.0,1146.6 L612.7,1153.9 L613.3,1160.8 L613.9,1167.1 L614.4,1172.9 L614.9,1178.2 L615.4,1183.1 L615.8,1187.6 L616.2,1191.8 L616.5,1195.7 L616.9,1199.4 L617.2,1202.9 L617.5,1206.3 L617.8,1209.6 L618.1,1212.8 L618.3,1216.1 L618.6,1219.3 L618.9,1222.7 L619.2,1226.3 L619.5,1230.0 L619.8,1233.9 L620.1,1237.9 L620.5,1242.0 L620.8,1246.1 L621.1,1250.3 L621.4,1254.5 L621.7,1258.6 L622.0,1262.7 L622.3,1266.7 L622.6,1270.6 L622.9,1274.3 L623.1,1277.9 L623.4,1281.3 L623.6,1284.4 L623.8,1287.4 L624.0,1290.0 L624.2,1292.4 L624.3,1294.6 L624.5,1296.5 L624.6,1298.3 L624.7,1299.9 L624.8,1301.3 L624.9,1302.6 L625.0,1303.8 L625.1,1304.8 L625.2,1305.7 L625.2,1306.6 L625.3,1307.3 L625.4,1308.1 L625.4,1308.7 L625.5,1309.4 L625.5,1310.0" stroke="#0000ff" stroke-width="10" stroke-dasharray="26 24"/>
<path d="M955.0,1294.1 L956.5,1292.4 L958.0,1290.8 L959.5,1289.1 L961.0,1287.5 L962.5,1286.0 L964.0,1284.4 L965.5,1282.8 L967.0,1281.3 L968.5,1279.8 L970.0,1278.3 L971.5,1276.8 L973.0,1275.3 L974.5,1273.9 L976.0,1272.4 L977.5,1271.0 L979.0,1269.6 L980.5,1268.2 L982.1,1266.8 L983.6,1265.4 L985.1,1264.1 L986.6,1262.7 L988.1,1261.4 L989.6,1260.0 L991.1,1258.7 L992.6,1257.4 L994.1,1256.1 L995.6,1254.8 L997.1,1253.5 L998.6,1252.2 L1000.1,1250.9 L1001.6,1249.7 L1003.1,1248.4 L1004.6,1247.1 L1006.1,1245.9 L1007.6,1244.6 L1009.1,1243.4 L1010.6,1242.2 L1012.1,1240.9 L1013.6,1239.7 L1015.1,1238.5 L1016.6,1237.3 L1018.1,1236.0 L1019.6,1234.8 L1021.1,1233.6 L1022.6,1232.4 L1024.1,1231.2 L1025.6,1229.9 L1027.1,1228.7 L1028.6,1227.5 L1030.1,1226.3 L1031.6,1225.1 L1033.1,1223.9 L1034.7,1222.6 L1036.2,1221.4 L1037.7,1220.2 L1039.2,1218.9 L1040.7,1217.7 L1042.2,1216.4 L1043.7,1215.2 L1045.2,1213.9 L1046.7,1212.7 L1048.2,1211.4 L1049.7,1210.1 L1051.2,1208.9 L1052.7,1207.6 L1054.2,1206.3 L1055.7,1205.0 L1057.2,1203.7 L1058.7,1202.3 L1060.2,1201.0 L1061.7,1199.7 L1063.2,1198.3 L1064.7,1197.0 L1066.2,1195.6 L1067.7,1194.2 L1069.2,1192.8 L1070.7,1191.4 L1072.2,1190.0 L1073.7,1188.5 L1075.2,1187.1 L1076.7,1185.6 L1078.2,1184.1 L1079.7,1182.6 L1081.2,1181.1 L1082.7,1179.6 L1084.2,1178.1 L1085.7,1176.5 L1087.3,1174.9 L1088.8,1173.3 L1090.3,1171.7 L1091.8,1170.1 L1093.3,1168.4 L1094.8,1166.8 L1096.3,1165.1 L1097.8,1163.4 L1099.3,1161.6 L1100.8,1159.9 L1102.3,1158.1 L1103.8,1156.3 L1105.3,1154.5 L1106.8,1152.6 L1108.3,1150.8 L1109.8,1148.9 L1111.3,1147.0 L1112.8,1145.0 L1114.3,1143.1 L1115.8,1141.1 L1117.3,1139.0 L1118.8,1136.9 L1120.3,1134.7 L1121.8,1132.5 L1123.3,1130.2 L1124.8,1127.8 L1126.3,1125.4 L1127.8,1122.9 L1129.3,1120.2 L1130.8,1117.5 L1132.3,1114.7 L1133.8,1111.8 L1135.3,1108.8 L1136.8,1105.6 L1138.3,1102.4 L1139.9,1099.0 L1141.4,1095.6 L1142.9,1092.2 L1144.4,1088.6 L1145.9,1085.1 L1147.4,1081.5 L1148.9,1077.9 L1150.4,1074.3 L1151.9,1070.6 L1153.4,1066.8 L1154.9,1063.0 L1156.4,1059.1 L1157.9,1055.1 L1159.4,1051.1 L1160.9,1046.9 L1162.4,1042.7 L1163.9,1038.3 L1165.4,1033.8 L1166.9,1029.2 L1168.4,1024.5 L1169.9,1019.6 L1171.4,1014.6 L1172.9,1009.4 L1174.4,1004.0 L1175.9,998.5 L1177.4,992.9 L1178.9,987.1 L1180.4,981.1 L1181.9,975.0 L1183.4,968.7 L1184.9,962.4 L1186.4,955.9 L1187.9,949.2 L1189.4,942.5 L1190.9,935.7 L1192.5,928.7 L1194.0,921.6 L1195.5,914.5 L1197.0,907.3 L1198.5,899.9 L1200.0,892.5 L1201.5,885.1 L1203.0,877.5 L1204.5,869.9 L1206.0,862.3 L1207.5,854.6 L1209.0,846.8 L1210.5,839.0 L1212.0,831.2 L1213.5,823.3 L1215.0,815.4 L1216.5,807.5 L1218.0,799.6 L1219.5,791.7 L1221.0,783.7 L1222.5,775.8 L1224.0,767.9 L1225.5,760.0 L1227.0,752.1 L1228.5,744.2 L1230.0,736.4 L1231.5,728.5 L1233.0,720.8 L1234.5,713.0 L1236.0,705.4 L1237.5,697.7 L1239.0,690.1 L1240.5,682.6 L1242.0,675.1 L1243.5,667.6 L1245.1,660.3 L1246.6,653.0 L1248.1,645.7 L1249.6,638.5 L1251.1,631.4 L1252.6,624.3 L1254.1,617.4 L1255.6,610.4 L1257.1,603.6 L1258.6,596.9 L1260.1,590.2 L1261.6,583.6 L1263.1,577.1 L1264.6,570.7 L1266.1,564.4 L1267.6,558.2 L1269.1,552.1 L1270.6,546.0 L1272.1,540.1 L1273.6,534.3 L1275.1,528.6 L1276.6,523.0 L1278.1,517.5 L1279.6,512.1 L1281.1,506.9 L1282.6,501.7 L1284.1,496.7 L1285.6,491.8 L1287.1,487.0 L1288.6,482.4 L1290.1,477.9 L1291.6,473.5 L1293.1,469.2 L1294.6,465.0 L1296.1,461.0 L1297.7,457.1 L1299.2,453.2 L1300.7,449.5 L1302.2,445.8 L1303.7,442.3 L1305.2,438.8 L1306.7,435.4 L1308.2,432.1 L1309.7,428.8 L1311.2,425.6 L1312.7,422.5 L1314.2,419.5 L1315.7,416.5 L1317.2,413.5 L1318.7,410.6 L1320.2,407.7 L1321.7,404.9 L1323.2,402.1 L1324.7,399.3 L1326.2,396.6 L1327.7,394.0 L1329.2,391.4 L1330.7,388.8 L1332.2,386.2 L1333.7,383.7 L1335.2,381.2 L1336.7,378.8 L1338.2,376.4 L1339.7,374.0 L1341.2,371.7 L1342.7,369.4 L1344.2,367.1 L1345.7,364.9 L1347.2,362.7 L1348.7,360.5 L1350.3,358.4 L1351.8,356.3 L1353.3,354.2 L1354.8,352.1 L1356.3,350.1 L1357.8,348.1 L1359.3,346.2 L1360.8,344.2 L1362.3,342.3 L1363.8,340.4 L1365.3,338.6 L1366.8,336.8 L1368.3,335.0 L1369.8,333.2 L1371.3,331.4 L1372.8,329.7 L1374.3,328.0 L1375.8,326.3 L1377.3,324.7 L1378.8,323.1 L1380.3,321.5 L1381.8,319.9 L1383.3,318.3 L1384.8,316.8 L1386.3,315.3 L1387.8,313.8 L1389.3,312.3 L1390.8,310.8 L1392.3,309.4 L1393.8,308.0 L1395.3,306.6 L1396.8,305.2 L1398.3,303.9 L1399.8,302.5 L1401.3,301.2 L1402.9,299.9 L1404.4,298.6 L1405.9,297.3 L1407.4,296.1 L1408.9,294.8 L1410.4,293.6 L1411.9,292.4 L1413.4,291.2 L1414.9,290.0 L1416.4,288.8 L1417.9,287.6 L1419.4,286.5 L1420.9,285.3 L1422.4,284.2 L1423.9,283.1 L1425.4,282.0 L1426.9,280.9 L1428.4,279.8 L1429.9,278.7 L1431.4,277.7 L1432.9,276.6 L1434.4,275.6 L1435.9,274.5 L1437.4,273.5 L1438.9,272.5 L1440.4,271.5 L1441.9,270.5 L1443.4,269.5 L1444.9,268.6 L1446.4,267.6 L1447.9,266.6 L1449.4,265.7 L1450.9,264.8 L1452.4,263.9 L1453.9,262.9 L1455.5,262.0 L1457.0,261.1 L1458.5,260.3 L1460.0,259.4 L1461.5,258.5 L1463.0,257.6 L1464.5,256.8 L1466.0,256.0 L1467.5,255.1 L1469.0,254.3 L1470.5,253.5 L1472.0,252.7 L1473.5,251.9 L1475.0,251.1 L1476.5,250.3 L1478.0,249.5 L1479.5,248.8 L1481.0,248.0 L1482.5,247.3 L1484.0,246.5 L1485.5,245.8 L1487.0,245.1 L1488.5,244.3 L1490.0,243.6 L1491.5,242.9 L1493.0,242.2 L1494.5,241.5 L1496.0,240.9 L1497.5,240.2 L1499.0,239.5 L1500.5,238.9 L1502.0,238.2 L1503.5,237.6 L1505.0,236.9 L1506.5,236.3 L1508.1,235.7 L1509.6,235.1 L1511.1,234.4 L1512.6,233.8 L1514.1,233.2 L1515.6,232.6 L1517.1,232.1 L1518.6,231.5 L1520.1,230.9 L1521.6,230.3 L1523.1,229.8 L1524.6,229.2 L1526.1,228.7 L1527.6,228.1 L1529.1,227.6 L1530.6,227.0 L1532.1,226.5 L1533.6,226.0 L1535.1,225.5 L1536.6,224.9 L1538.1,224.4 L1539.6,223.9 L1541.1,223.4 L1542.6,222.9 L1544.1,222.5 L1545.6,222.0 L1547.1,221.5 L1548.6,221.0 L1550.1,220.5 L1551.6,220.1 L1553.1,219.6 L1554.6,219.2 L1556.1,218.7 L1557.6,218.3 L1559.1,217.8 L1560.7,217.4 L1562.2,216.9 L1563.7,216.5 L1565.2,216.1 L1566.7,215.7 L1568.2,215.2 L1569.7,214.8 L1571.2,214.4 L1572.7,214.0 L1574.2,213.6 L1575.7,213.2 L1577.2,212.8 L1578.7,212.4 L1580.2,212.0 L1581.7,211.6 L1583.2,211.2 L1584.7,210.8 L1586.2,210.4 L1587.7,210.0 L1589.2,209.7 L1590.7,209.3 L1592.2,208.9 L1593.7,208.5 L1595.2,208.2 L1596.7,207.8 L1598.2,207.4 L1599.7,207.1 L1601.2,206.7 L1602.7,206.3 L1604.2,206.0 L1605.7,205.6 L1607.2,205.3 L1608.7,204.9 L1610.2,204.6 L1611.7,204.2 L1613.3,203.9 L1614.8,203.5 L1616.3,203.2 L1617.8,202.8 L1619.3,202.5 L1620.8,202.1 L1622.3,201.8 L1623.8,201.5 L1625.3,201.1 L1626.8,200.8 L1628.3,200.4 L1629.8,200.1 L1631.3,199.8 L1632.8,199.5 L1634.3,199.1 L1635.8,198.8 L1637.3,198.5 L1638.8,198.1 L1640.3,197.8 L1641.8,197.5 L1643.3,197.2 L1644.8,196.9 L1646.3,196.5 L1647.8,196.2 L1649.3,195.9 L1650.8,195.6 L1652.3,195.3 L1653.8,195.0 L1655.3,194.7 L1656.8,194.4 L1658.3,194.1 L1659.8,193.8 L1661.3,193.5 L1662.8,193.2 L1664.3,192.9 L1665.9,192.6 L1667.4,192.3 L1668.9,192.0 L1670.4,191.7 L1671.9,191.4 L1673.4,191.1 L1674.9,190.8 L1676.4,190.5 L1677.9,190.2 L1679.4,189.9 L1680.9,189.7 L1682.4,189.4 L1683.9,189.1 L1685.4,188.8 L1686.9,188.5 L1688.4,188.3 L1689.9,188.0 L1691.4,187.7 L1692.9,187.4 L1694.4,187.2 L1695.9,186.9 L1697.4,186.6 L1698.9,186.4 L1700.4,186.1 L1701.9,185.8 L1703.4,185.6 L1704.9,185.3 L1706.4,185.0 L1707.9,184.8 L1709.4,184.5 L1710.9,184.3 L1712.4,184.0 L1713.9,183.7 L1715.4,183.5 L1716.9,183.2 L1718.5,183.0 L1720.0,182.7 L1721.5,182.5 L1723.0,182.2 L1724.5,182.0 L1726.0,181.7 L1727.5,181.5 L1729.0,181.3 L1730.5,181.0 L1732.0,180.8 L1733.5,180.5 L1735.0,180.3 L1736.5,180.1 L1738.0,179.8 L1739.5,179.6 L1741.0,179.4 L1742.5,179.1 L1744.0,178.9 L1745.5,178.7 L1747.0,178.4 L1748.5,178.2 L1750.0,178.0 L1751.5,177.8 L1753.0,177.5 L1754.5,177.3 L1756.0,177.1 L1757.5,176.9 L1759.0,176.7 L1760.5,176.4 L1762.0,176.2 L1763.5,176.0 L1765.0,175.8 L1766.5,175.6 L1768.0,175.4 L1769.5,175.2 L1771.1,174.9 L1772.6,174.7 L1774.1,174.5 L1775.6,174.3 L1777.1,174.1 L1778.6,173.9 L1780.1,173.7 L1781.6,173.5 L1783.1,173.3 L1784.6,173.1 L1786.1,172.9 L1787.6,172.7 L1789.1,172.5 L1790.6,172.3 L1792.1,172.1 L1793.6,171.9 L1795.1,171.7 L1796.6,171.5 L1798.1,171.3 L1799.6,171.2 L1801.1,171.0 L1802.6,170.8 L1804.1,170.6 L1805.6,170.4 L1807.1,170.2 L1808.6,170.0 L1810.1,169.9 L1811.6,169.7 L1813.1,169.5 L1814.6,169.3 L1816.1,169.1 L1817.6,169.0 L1819.1,168.8 L1820.6,168.6 L1822.1,168.4 L1823.7,168.3 L1825.2,168.1 L1826.7,167.9 L1828.2,167.7 L1829.7,167.6 L1831.2,167.4 L1832.7,167.2 L1834.2,167.1 L1835.7,166.9 L1837.2,166.7 L1838.7,166.6 L1840.2,166.4 L1841.7,166.3 L1843.2,166.1 L1844.7,165.9 L1846.2,165.8 L1847.7,165.6 L1849.2,165.5 L1850.7,165.3 L1852.2,165.1 L1853.7,165.0 L1855.2,164.8 L1856.7,164.7 L1858.2,164.5 L1859.7,164.4 L1861.2,164.2 L1862.7,164.1 L1864.2,163.9 L1865.7,163.8 L1867.2,163.6 L1868.7,163.5 L1870.2,163.3 L1871.7,163.2 L1873.2,163.1 L1874.7,162.9 L1876.3,162.8 L1877.8,162.6 L1879.3,162.5 L1880.8,162.3 L1882.3,162.2 L1883.8,162.1 L1885.3,161.9 L1886.8,161.8 L1888.3,161.7 L1889.8,161.5 L1891.3,161.4 L1892.8,161.3 L1894.3,161.1 L1895.8,161.0 L1897.3,160.9 L1898.8,160.7 L1900.3,160.6 L1901.8,160.5 L1903.3,160.3 L1904.8,160.2 L1906.3,160.1 L1907.8,160.0 L1909.3,159.8 L1910.8,159.7 L1912.3,159.6 L1913.8,159.5 L1915.3,159.3 L1916.8,159.2 L1918.3,159.1 L1919.8,159.0 L1921.3,158.9 L1922.8,158.7 L1924.3,158.6 L1925.8,158.5 L1927.3,158.4 L1928.9,158.3 L1930.4,158.2 L1931.9,158.0 L1933.4,157.9 L1934.9,157.8 L1936.4,157.7 L1937.9,157.6 L1939.4,157.5 L1940.9,157.4 L1942.4,157.3 L1943.9,157.2 L1945.4,157.0 L1946.9,156.9 L1948.4,156.8 L1949.9,156.7 L1951.4,156.6 L1952.9,156.5 L1954.4,156.4 L1955.9,156.3 L1957.4,156.2 L1958.9,156.1 L1960.4,156.0 L1961.9,155.9 L1963.4,155.8 L1964.9,155.7 L1966.4,155.6 L1967.9,155.5 L1969.4,155.4 L1970.9,155.3 L1972.4,155.2 L1973.9,155.1 L1975.4,155.0 L1976.9,154.9 L1978.4,154.8 L1979.9,154.7 L1981.5,154.6 L1983.0,154.5 L1984.5,154.4 L1986.0,154.3 L1987.5,154.2 L1989.0,154.1 L1990.5,154.1 L1992.0,154.0 L1993.5,153.9 L1995.0,153.8 L1996.5,153.7 L1998.0,153.6 L1999.5,153.5 L2001.0,153.4 L2002.5,153.3 L2004.0,153.3 L2005.5,153.2 L2007.0,153.1 L2008.5,153.0 L2010.0,152.9 L2011.5,152.8 L2013.0,152.7 L2014.5,152.7 L2016.0,152.6 L2017.5,152.5 L2019.0,152.4 L2020.5,152.3 L2022.0,152.2 L2023.5,152.2 L2025.0,152.1 L2026.5,152.0 L2028.0,151.9 L2029.5,151.8 L2031.0,151.8 L2032.5,151.7 L2034.1,151.6 L2035.6,151.5 L2037.1,151.5 L2038.6,151.4 L2040.1,151.3 L2041.6,151.2 L2043.1,151.1 L2044.6,151.1 L2046.1,151.0 L2047.6,150.9 L2049.1,150.8 L2050.6,150.8 L2052.1,150.7 L2053.6,150.6 L2055.1,150.5 L2056.6,150.5 L2058.1,150.4 L2059.6,150.3 L2061.1,150.3 L2062.6,150.2 L2064.1,150.1 L2065.6,150.0 L2067.1,150.0 L2068.6,149.9 L2070.1,149.8 L2071.6,149.8 L2073.1,149.7 L2074.6,149.6 L2076.1,149.6 L2077.6,149.5 L2079.1,149.4 L2080.6,149.3 L2082.1,149.3 L2083.6,149.2 L2085.1,149.1 L2086.7,149.1 L2088.2,149.0 L2089.7,148.9 L2091.2,148.9 L2092.7,148.8 L2094.2,148.7 L2095.7,148.7 L2097.2,148.6 L2098.7,148.5 L2100.2,148.5 L2101.7,148.4 L2103.2,148.4 L2104.7,148.3 L2106.2,148.2 L2107.7,148.2 L2109.2,148.1 L2110.7,148.0 L2112.2,148.0 L2113.7,147.9 L2115.2,147.8 L2116.7,147.8 L2118.2,147.7 L2119.7,147.7 L2121.2,147.6 L2122.7,147.5 L2124.2,147.5 L2125.7,147.4 L2127.2,147.3 L2128.7,147.3 L2130.2,147.2 L2131.7,147.2 L2133.2,147.1 L2134.7,147.0 L2136.2,147.0 L2137.7,146.9 L2139.3,146.9 L2140.8,146.8 L2142.3,146.7 L2143.8,146.7 L2145.3,146.6 L2146.8,146.5 L2148.3,146.5 L2149.8,146.4 L2151.3,146.4 L2152.8,146.3 L2154.3,146.2 L2155.8,146.2 L2157.3,146.1 L2158.8,146.1 L2160.3,146.0 L2161.8,145.9 L2163.3,145.9 L2164.8,145.8 L2166.3,145.8 L2167.8,145.7 L2169.3,145.6 L2170.8,145.6 L2172.3,145.5 L2173.8,145.5 L2175.3,145.4 L2176.8,145.3 L2178.3,145.3 L2179.8,145.2 L2181.3,145.2 L2182.8,145.1 L2184.3,145.0 L2185.8,145.0 L2187.3,144.9 L2188.8,144.9 L2190.3,144.8 L2191.9,144.7 L2193.4,144.7 L2194.9,144.6 L2196.4,144.6 L2197.9,144.5 L2199.4,144.4 L2200.9,144.4 L2202.4,144.3 L2203.9,144.3 L2205.4,144.2 L2206.9,144.1 L2208.4,144.1 L2209.9,144.0 L2211.4,144.0 L2212.9,143.9 L2214.4,143.8 L2215.9,143.8 L2217.4,143.7 L2218.9,143.7 L2220.4,143.6 L2221.9,143.5 L2223.4,143.5 L2224.9,143.4 L2226.4,143.3 L2227.9,143.3 L2229.4,143.2 L2230.9,143.2 L2232.4,143.1 L2233.9,143.0 L2235.4,143.0 L2236.9,142.9 L2238.4,142.8 L2239.9,142.8 L2241.4,142.7 L2242.9,142.7 L2244.5,142.6 L2246.0,142.5 L2247.5,142.5 L2249.0,142.4 L2250.5,142.3 L2252.0,142.3 L2253.5,142.2 L2255.0,142.1 L2256.5,142.1 L2258.0,142.0 L2259.5,141.9 L2261.0,141.9 L2262.5,141.8 L2264.0,141.7 L2265.5,141.7 L2267.0,141.6 L2268.5,141.5 L2270.0,141.5" stroke="#0000ff" stroke-width="10" stroke-dasharray="26 24"/>
<circle cx="329.9" cy="461.0" r="11" fill="#ff00ff"/>
<circle cx="353.6" cy="260.7" r="11" fill="#ff00ff"/>
<circle cx="377.3" cy="319.3" r="11" fill="#ff00ff"/>
<circle cx="400.9" cy="351.5" r="11" fill="#ff00ff"/>
<circle cx="424.6" cy="341.0" r="11" fill="#ff00ff"/>
<circle cx="448.3" cy="365.1" r="11" fill="#ff00ff"/>
<circle cx="472.0" cy="419.0" r="11" fill="#ff00ff"/>
<circle cx="495.6" cy="469.0" r="11" fill="#ff00ff"/>
<circle cx="519.3" cy="533.4" r="11" fill="#ff00ff"/>
<circle cx="543.0" cy="625.1" r="11" fill="#ff00ff"/>
<circle cx="566.7" cy="749.2" r="11" fill="#ff00ff"/>
<circle cx="590.4" cy="928.9" r="11" fill="#ff00ff"/>
<circle cx="614.0" cy="1167.6" r="11" fill="#ff00ff"/>
<circle cx="1158.6" cy="1209.6" r="11" fill="#ff00ff"/>
<circle cx="1182.3" cy="1063.5" r="11" fill="#ff00ff"/>
<circle cx="1206.0" cy="908.6" r="11" fill="#ff00ff"/>
<circle cx="1229.7" cy="754.4" r="11" fill="#ff00ff"/>
<circle cx="1253.3" cy="616.7" r="11" fill="#ff00ff"/>
<circle cx="1277.0" cy="511.6" r="11" fill="#ff00ff"/>
<circle cx="1300.7" cy="437.6" r="11" fill="#ff00ff"/>
<circle cx="1324.4" cy="385.0" r="11" fill="#ff00ff"/>
<circle cx="1348.1" cy="346.5" r="11" fill="#ff00ff"/>
<circle cx="1371.7" cy="315.8" r="11" fill="#ff00ff"/>
<circle cx="1395.4" cy="291.1" r="11" fill="#ff00ff"/>
<circle cx="1419.1" cy="271.3" r="11" fill="#ff00ff"/>
<circle cx="1442.8" cy="255.2" r="11" fill="#ff00ff"/>
<circle cx="1466.5" cy="241.5" r="11" fill="#ff00ff"/>
<circle cx="1490.1" cy="229.8" r="11" fill="#ff00ff"/>
<circle cx="1513.8" cy="219.7" r="11" fill="#ff00ff"/>
<circle cx="1537.5" cy="211.0" r="11" fill="#ff00ff"/>
<circle cx="1561.2" cy="203.5" r="11" fill="#ff00ff"/>
<circle cx="1584.8" cy="196.9" r="11" fill="#ff00ff"/>
<circle cx="1608.5" cy="190.9" r="11" fill="#ff00ff"/>
<circle cx="1632.2" cy="185.6" r="11" fill="#ff00ff"/>
<circle cx="1655.9" cy="180.8" r="11" fill="#ff00ff"/>
<circle cx="1679.6" cy="176.4" r="11" fill="#ff00ff"/>
<circle cx="1703.2" cy="172.4" r="11" fill="#ff00ff"/>
<circle cx="1726.9" cy="168.8" r="11" fill="#ff00ff"/>
<circle cx="1750.6" cy="165.4" r="11" fill="#ff00ff"/>
<circle cx="1774.3" cy="162.3" r="11" fill="#ff00ff"/>
<circle cx="1797.9" cy="159.4" r="11" fill="#ff00ff"/>
<circle cx="1821.6" cy="156.8" r="11" fill="#ff00ff"/>
<circle cx="1845.3" cy="154.3" r="11" fill="#ff00ff"/>
<circle cx="1869.0" cy="152.1" r="11" fill="#ff00ff"/>
<circle cx="1892.7" cy="150.0" r="11" fill="#ff00ff"/>
<circle cx="1916.3" cy="148.1" r="11" fill="#ff00ff"/>
<circle cx="1940.0" cy="146.4" r="11" fill="#ff00ff"/>
<circle cx="1963.7" cy="144.8" r="11" fill="#ff00ff"/>
<circle cx="1987.4" cy="143.4" r="11" fill="#ff00ff"/>
<circle cx="2011.0" cy="142.1" r="11" fill="#ff00ff"/>
<circle cx="2034.7" cy="140.9" r="11" fill="#ff00ff"/>
<circle cx="2058.4" cy="139.8" r="11" fill="#ff00ff"/>
<circle cx="2082.1" cy="138.8" r="11" fill="#ff00ff"/>
<circle cx="2105.8" cy="137.8" r="11" fill="#ff00ff"/>
<circle cx="2129.4" cy="137.0" r="11" fill="#ff00ff"/>
<circle cx="2153.1" cy="136.1" r="11" fill="#ff00ff"/>
<circle cx="2176.8" cy="135.3" r="11" fill="#ff00ff"/>
<circle cx="2200.5" cy="134.5" r="11" fill="#ff00ff"/>
<circle cx="2224.2" cy="133.8" r="11" fill="#ff00ff"/>
<circle cx="2247.8" cy="133.0" r="11" fill="#ff00ff"/>
<path d="M318.5,539.0 L318.7,537.7 L318.9,536.1 L319.2,534.3 L319.5,532.3 L319.8,530.1 L320.2,527.7 L320.5,525.2 L320.9,522.6 L321.3,520.0 L321.7,517.2 L322.1,514.5 L322.5,511.8 L322.9,509.1 L323.3,506.5 L323.6,503.9 L324.0,501.5 L324.4,499.1 L324.7,496.8 L325.1,494.5 L325.4,492.2 L325.8,489.8 L326.1,487.5 L326.5,485.2 L326.9,482.9 L327.2,480.5 L327.6,478.2 L327.9,475.8 L328.3,473.4 L328.7,471.0 L329.0,468.5 L329.4,466.0 L329.7,463.5 L330.0,460.9 L330.4,458.4 L330.7,455.8 L331.0,453.2 L331.4,450.6 L331.7,448.0 L332.0,445.3 L332.4,442.6 L332.7,439.9 L333.0,437.2 L333.3,434.4 L333.7,431.6 L334.0,428.8 L334.3,425.9 L334.7,423.0 L335.0,420.0 L335.3,417.0 L335.7,413.9 L336.0,410.8 L336.4,407.6 L336.7,404.4 L337.1,401.1 L337.4,397.8 L337.8,394.5 L338.1,391.2 L338.5,387.9 L338.8,384.5 L339.2,381.2 L339.5,377.9 L339.8,374.6 L340.2,371.3 L340.5,368.0 L340.8,364.7 L341.2,361.4 L341.5,358.0 L341.8,354.5 L342.1,351.0 L342.5,347.6 L342.8,344.1 L343.1,340.7 L343.4,337.3 L343.8,334.0 L344.1,330.7 L344.4,327.5 L344.7,324.5 L345.0,321.5 L345.2,318.7 L345.5,316.0 L345.8,313.5 L346.0,311.0 L346.3,308.7 L346.5,306.4 L346.7,304.3 L347.0,302.2 L347.2,300.2 L347.4,298.3 L347.6,296.4 L347.8,294.6 L348.0,292.9 L348.2,291.2 L348.4,289.6 L348.6,288.0 L348.8,286.5 L349.0,285.0 L349.2,283.6 L349.4,282.2 L349.5,280.9 L349.7,279.7 L349.9,278.5 L350.0,277.4 L350.2,276.4 L350.3,275.4 L350.5,274.5 L350.6,273.5 L350.8,272.7 L350.9,271.8 L351.1,271.0 L351.3,270.1 L351.4,269.3 L351.6,268.5 L351.8,267.7 L352.0,266.9 L352.2,266.2 L352.4,265.5 L352.5,264.8 L352.7,264.1 L352.9,263.5 L353.2,262.9 L353.4,262.3 L353.6,261.8 L353.8,261.2 L354.0,260.7 L354.2,260.3 L354.4,259.8 L354.6,259.4 L354.8,259.0 L355.0,258.6 L355.2,258.3 L355.4,258.0 L355.6,257.7 L355.8,257.5 L356.1,257.2 L356.3,257.0 L356.5,256.9 L356.7,256.7 L356.9,256.6 L357.1,256.5 L357.3,256.4 L357.5,256.3 L357.8,256.3 L358.0,256.3 L358.2,256.3 L358.4,256.3 L358.6,256.4 L358.9,256.4 L359.1,256.5 L359.3,256.6 L359.5,256.7 L359.7,256.8 L360.0,257.0 L360.2,257.2 L360.4,257.4 L360.6,257.7 L360.9,258.0 L361.1,258.3 L361.3,258.7 L361.6,259.1 L361.8,259.5 L362.0,260.0 L362.3,260.5 L362.5,261.0 L362.7,261.6 L363.0,262.2 L363.2,262.8 L363.5,263.4 L363.7,264.1 L364.0,264.9 L364.2,265.6 L364.5,266.4 L364.7,267.3 L365.0,268.1 L365.2,269.1 L365.5,270.0 L365.8,271.0 L366.1,272.0 L366.4,273.1 L366.7,274.3 L367.0,275.5 L367.3,276.7 L367.6,278.0 L367.9,279.3 L368.2,280.6 L368.5,282.0 L368.8,283.4 L369.2,284.8 L369.5,286.2 L369.8,287.6 L370.1,289.1 L370.5,290.5 L370.8,292.0 L371.1,293.5 L371.5,295.0 L371.8,296.6 L372.2,298.3 L372.5,299.9 L372.9,301.6 L373.3,303.3 L373.6,305.0 L374.0,306.7 L374.3,308.4 L374.7,310.0 L375.1,311.7 L375.4,313.2 L375.8,314.7 L376.1,316.1 L376.5,317.5 L376.8,318.8 L377.2,320.0 L377.5,321.2 L377.8,322.3 L378.1,323.4 L378.5,324.5 L378.8,325.5 L379.1,326.5 L379.4,327.5 L379.8,328.5 L380.1,329.4 L380.5,330.3 L380.8,331.3 L381.2,332.2 L381.6,333.1 L382.0,334.0 L382.4,334.9 L382.9,335.8 L383.3,336.8 L383.8,337.7 L384.2,338.6 L384.7,339.5 L385.2,340.3 L385.7,341.2 L386.2,342.0 L386.7,342.8 L387.2,343.6 L387.7,344.4 L388.3,345.1 L388.8,345.8 L389.4,346.4 L390.0,347.0 L390.6,347.6 L391.2,348.1 L391.8,348.6 L392.5,349.1 L393.2,349.6 L393.8,350.0 L394.5,350.4 L395.2,350.8 L395.9,351.2 L396.6,351.5 L397.3,351.7 L398.0,352.0 L398.7,352.2 L399.4,352.3 L400.1,352.4 L400.8,352.5 L401.5,352.5 L402.2,352.5 L402.9,352.4 L403.5,352.2 L404.2,352.0 L404.9,351.8 L405.6,351.5 L406.3,351.2 L407.0,350.9 L407.7,350.6 L408.4,350.3 L409.1,349.9 L409.8,349.5 L410.5,349.2 L411.3,348.8 L412.0,348.5 L412.8,348.1 L413.5,347.7 L414.3,347.3 L415.1,346.8 L415.9,346.3 L416.7,345.8 L417.5,345.3 L418.4,344.8 L419.2,344.3 L420.0,343.9 L420.8,343.4 L421.6,343.0 L422.3,342.7 L423.1,342.4 L423.8,342.1 L424.5,342.0 L425.2,341.9 L425.8,341.9 L426.5,341.9 L427.1,342.0 L427.8,342.1 L428.4,342.2 L429.0,342.4 L429.6,342.6 L430.2,342.8 L430.8,343.1 L431.3,343.4 L431.9,343.7 L432.4,344.0 L433.0,344.3 L433.5,344.7 L434.0,345.0 L434.5,345.4 L435.0,345.7 L435.5,346.1 L435.9,346.5 L436.4,347.0 L436.8,347.4 L437.2,347.9 L437.7,348.4 L438.1,348.9 L438.5,349.5 L438.9,350.0 L439.3,350.6 L439.7,351.2 L440.1,351.8 L440.6,352.4 L441.0,353.0 L441.4,353.7 L441.9,354.3 L442.3,355.0 L442.8,355.8 L443.2,356.5 L443.6,357.2 L444.1,358.0 L444.5,358.8 L444.9,359.6 L445.4,360.4 L445.8,361.3 L446.2,362.1 L446.7,362.9 L447.1,363.8 L447.6,364.6 L448.0,365.5 L448.4,366.4 L448.9,367.2 L449.3,368.1 L449.7,369.0 L450.2,369.9 L450.6,370.8 L451.0,371.7 L451.4,372.6 L451.9,373.5 L452.3,374.5 L452.7,375.4 L453.2,376.4 L453.6,377.4 L454.1,378.4 L454.5,379.4 L455.0,380.5 L455.5,381.6 L455.9,382.7 L456.4,383.8 L456.9,384.9 L457.4,386.1 L457.9,387.2 L458.4,388.4 L458.9,389.6 L459.4,390.8 L459.9,392.1 L460.4,393.3 L460.9,394.5 L461.4,395.8 L461.9,397.0 L462.5,398.3 L463.0,399.5 L463.5,400.8 L464.1,402.0 L464.6,403.3 L465.2,404.6 L465.7,405.9 L466.3,407.2 L466.9,408.5 L467.4,409.8 L468.0,411.1 L468.6,412.4 L469.2,413.8 L469.8,415.1 L470.4,416.4 L471.0,417.8 L471.6,419.1 L472.2,420.5 L472.8,421.9 L473.5,423.2 L474.1,424.6 L474.8,425.9 L475.4,427.3 L476.1,428.7 L476.7,430.1 L477.4,431.4 L478.1,432.8 L478.8,434.2 L479.5,435.7 L480.2,437.1 L480.9,438.5 L481.6,440.0 L482.3,441.5 L483.0,443.0 L483.7,444.5 L484.5,446.1 L485.2,447.6 L486.0,449.2 L486.8,450.8 L487.5,452.4 L488.3,454.1 L489.1,455.7 L489.9,457.4 L490.7,459.0 L491.4,460.7 L492.2,462.3 L493.0,464.0 L493.7,465.7 L494.5,467.3 L495.2,469.0 L495.9,470.6 L496.6,472.3 L497.3,473.9 L498.0,475.5 L498.6,477.0 L499.3,478.6 L499.9,480.2 L500.6,481.8 L501.2,483.5 L501.9,485.1 L502.5,486.8 L503.2,488.5 L503.9,490.3 L504.6,492.2 L505.3,494.0 L506.0,496.0 L506.7,498.0 L507.5,500.1 L508.3,502.2 L509.1,504.3 L509.9,506.5 L510.7,508.7 L511.5,510.9 L512.3,513.2 L513.1,515.5 L514.0,517.9 L514.8,520.3 L515.6,522.7 L516.4,525.1 L517.2,527.6 L518.0,530.2 L518.8,532.7 L519.6,535.3 L520.4,537.9 L521.1,540.6 L521.9,543.3 L522.7,546.1 L523.4,548.9 L524.2,551.8 L524.9,554.6 L525.7,557.5 L526.5,560.4 L527.2,563.3 L528.0,566.2 L528.7,569.2 L529.5,572.1 L530.2,575.1 L531.0,578.0 L531.8,580.9 L532.5,583.8 L533.3,586.7 L534.0,589.6 L534.8,592.6 L535.6,595.5 L536.3,598.4 L537.1,601.4 L537.8,604.3 L538.6,607.4 L539.3,610.4 L540.1,613.5 L540.8,616.7 L541.6,619.9 L542.3,623.2 L543.1,626.5 L543.8,629.9 L544.6,633.4 L545.3,636.9 L546.1,640.5 L546.8,644.1 L547.6,647.8 L548.3,651.5 L549.1,655.3 L549.8,659.0 L550.6,662.9 L551.3,666.7 L552.0,670.5 L552.8,674.4 L553.5,678.3 L554.3,682.1 L555.0,686.0 L555.7,689.9 L556.5,693.7 L557.2,697.5 L557.9,701.3 L558.7,705.1 L559.4,709.0 L560.2,712.8 L560.9,716.7 L561.6,720.6 L562.4,724.6 L563.1,728.7 L563.8,732.8 L564.5,737.0 L565.3,741.3 L566.0,745.8 L566.7,750.3 L567.4,754.9 L568.1,759.7 L568.8,764.6 L569.5,769.5 L570.3,774.5 L571.0,779.6 L571.7,784.8 L572.4,790.0 L573.1,795.3 L573.8,800.6 L574.5,806.0 L575.2,811.4 L575.9,816.8 L576.6,822.2 L577.3,827.6 L578.0,833.0 L578.7,838.4 L579.4,843.8 L580.2,849.1 L580.9,854.5 L581.6,859.9 L582.3,865.3 L583.0,870.7 L583.8,876.2 L584.5,881.8 L585.2,887.4 L585.9,893.1 L586.7,898.9 L587.4,904.8 L588.1,910.8 L588.9,917.0 L589.6,923.3 L590.3,929.7 L591.1,936.3 L591.8,942.9 L592.5,949.7 L593.3,956.6 L594.0,963.5 L594.8,970.5 L595.5,977.7 L596.2,984.9 L597.0,992.1 L597.7,999.5 L598.5,1006.9 L599.2,1014.3 L600.0,1021.8 L600.7,1029.4 L601.5,1037.0 L602.3,1044.8 L603.1,1052.9 L603.9,1061.3 L604.7,1069.9 L605.6,1078.7 L606.4,1087.5 L607.3,1096.4 L608.1,1105.2 L608.9,1113.9 L609.7,1122.5 L610.5,1130.9 L611.3,1138.9 L612.0,1146.6 L612.7,1153.9 L613.3,1160.8 L613.9,1167.1 L614.4,1172.9 L614.9,1178.2 L615.4,1183.1 L615.8,1187.6 L616.2,1191.8 L616.5,1195.7 L616.9,1199.4 L617.2,1202.9 L617.5,1206.3 L617.8,1209.6 L618.1,1212.8 L618.3,1216.1 L618.6,1219.3 L618.9,1222.7 L619.2,1226.3 L619.5,1230.0 L619.8,1233.9 L620.1,1237.9 L620.5,1242.0 L620.8,1246.1 L621.1,1250.3 L621.4,1254.5 L621.7,1258.6 L622.0,1262.7 L622.3,1266.7 L622.6,1270.6 L622.9,1274.3 L623.1,1277.9 L623.4,1281.3 L623.6,1284.4 L623.8,1287.4 L624.0,1290.0 L624.2,1292.4 L624.3,1294.6 L624.5,1296.5 L624.6,1298.3 L624.7,1299.9 L624.8,1301.3 L624.9,1302.6 L625.0,1303.8 L625.1,1304.8 L625.2,1305.7 L625.2,1306.6 L625.3,1307.3 L625.4,1308.1 L625.4,1308.7 L625.5,1309.4 L625.5,1310.0" stroke="#000" stroke-width="10"/>
<path d="M1143.5,1300.0 L1145.0,1291.1 L1146.5,1282.3 L1148.0,1273.4 L1149.5,1264.6 L1151.0,1255.7 L1152.5,1246.9 L1154.0,1238.0 L1155.5,1229.1 L1157.0,1220.2 L1158.5,1211.3 L1160.0,1202.3 L1161.5,1193.4 L1163.0,1184.4 L1164.5,1175.3 L1166.0,1166.2 L1167.5,1157.1 L1169.0,1147.9 L1170.5,1138.7 L1172.0,1129.4 L1173.5,1120.0 L1175.0,1110.6 L1176.5,1101.2 L1178.0,1091.7 L1179.5,1082.2 L1181.0,1072.6 L1182.6,1063.0 L1184.1,1053.4 L1185.6,1043.7 L1187.1,1034.0 L1188.6,1024.2 L1190.1,1014.4 L1191.6,1004.6 L1193.1,994.8 L1194.6,985.0 L1196.1,975.1 L1197.6,965.2 L1199.1,955.3 L1200.6,945.4 L1202.1,935.5 L1203.6,925.6 L1205.1,915.6 L1206.6,905.7 L1208.1,895.7 L1209.6,885.8 L1211.1,875.9 L1212.6,865.9 L1214.1,856.0 L1215.6,846.2 L1217.1,836.3 L1218.6,826.5 L1220.1,816.7 L1221.6,806.9 L1223.1,797.2 L1224.6,787.6 L1226.1,777.9 L1227.6,768.4 L1229.1,758.9 L1230.6,749.5 L1232.1,740.1 L1233.6,730.8 L1235.1,721.6 L1236.6,712.5 L1238.1,703.4 L1239.6,694.5 L1241.1,685.6 L1242.6,676.9 L1244.1,668.2 L1245.6,659.7 L1247.1,651.2 L1248.6,642.9 L1250.1,634.7 L1251.6,626.7 L1253.1,618.7 L1254.6,610.9 L1256.2,603.3 L1257.7,595.8 L1259.2,588.4 L1260.7,581.2 L1262.2,574.1 L1263.7,567.2 L1265.2,560.5 L1266.7,553.9 L1268.2,547.5 L1269.7,541.3 L1271.2,535.2 L1272.7,529.2 L1274.2,523.4 L1275.7,517.7 L1277.2,512.1 L1278.7,506.6 L1280.2,501.3 L1281.7,496.0 L1283.2,490.9 L1284.7,485.9 L1286.2,481.0 L1287.7,476.1 L1289.2,471.4 L1290.7,466.8 L1292.2,462.3 L1293.7,457.9 L1295.2,453.6 L1296.7,449.4 L1298.2,445.2 L1299.7,441.2 L1301.2,437.3 L1302.7,433.4 L1304.2,429.6 L1305.7,425.9 L1307.2,422.3 L1308.7,418.7 L1310.2,415.3 L1311.7,411.9 L1313.2,408.6 L1314.7,405.3 L1316.2,402.1 L1317.7,399.0 L1319.2,396.0 L1320.7,393.0 L1322.2,390.1 L1323.7,387.2 L1325.2,384.4 L1326.7,381.7 L1328.2,379.0 L1329.7,376.3 L1331.2,373.7 L1332.8,371.2 L1334.3,368.7 L1335.8,366.2 L1337.3,363.8 L1338.8,361.4 L1340.3,359.1 L1341.8,356.8 L1343.3,354.6 L1344.8,352.3 L1346.3,350.1 L1347.8,348.0 L1349.3,345.8 L1350.8,343.7 L1352.3,341.6 L1353.8,339.5 L1355.3,337.5 L1356.8,335.5 L1358.3,333.5 L1359.8,331.6 L1361.3,329.6 L1362.8,327.7 L1364.3,325.8 L1365.8,324.0 L1367.3,322.1 L1368.8,320.3 L1370.3,318.5 L1371.8,316.8 L1373.3,315.0 L1374.8,313.3 L1376.3,311.6 L1377.8,310.0 L1379.3,308.3 L1380.8,306.7 L1382.3,305.1 L1383.8,303.5 L1385.3,302.0 L1386.8,300.4 L1388.3,298.9 L1389.8,297.4 L1391.3,296.0 L1392.8,294.5 L1394.3,293.1 L1395.8,291.7 L1397.3,290.3 L1398.8,288.9 L1400.3,287.6 L1401.8,286.3 L1403.3,285.0 L1404.8,283.7 L1406.3,282.4 L1407.9,281.1 L1409.4,279.9 L1410.9,278.7 L1412.4,277.5 L1413.9,276.3 L1415.4,275.1 L1416.9,274.0 L1418.4,272.9 L1419.9,271.7 L1421.4,270.6 L1422.9,269.5 L1424.4,268.5 L1425.9,267.4 L1427.4,266.4 L1428.9,265.3 L1430.4,264.3 L1431.9,263.3 L1433.4,262.3 L1434.9,261.3 L1436.4,260.3 L1437.9,259.3 L1439.4,258.4 L1440.9,257.4 L1442.4,256.5 L1443.9,255.5 L1445.4,254.6 L1446.9,253.7 L1448.4,252.8 L1449.9,251.9 L1451.4,251.0 L1452.9,250.1 L1454.4,249.2 L1455.9,248.4 L1457.4,247.5 L1458.9,246.7 L1460.4,245.8 L1461.9,245.0 L1463.4,244.2 L1464.9,243.4 L1466.4,242.6 L1467.9,241.8 L1469.4,241.0 L1470.9,240.2 L1472.4,239.4 L1473.9,238.6 L1475.4,237.9 L1476.9,237.1 L1478.4,236.4 L1479.9,235.6 L1481.5,234.9 L1483.0,234.2 L1484.5,233.4 L1486.0,232.7 L1487.5,232.0 L1489.0,231.3 L1490.5,230.6 L1492.0,229.9 L1493.5,229.3 L1495.0,228.6 L1496.5,227.9 L1498.0,227.3 L1499.5,226.6 L1501.0,226.0 L1502.5,225.3 L1504.0,224.7 L1505.5,224.1 L1507.0,223.4 L1508.5,222.8 L1510.0,222.2 L1511.5,221.6 L1513.0,221.0 L1514.5,220.4 L1516.0,219.8 L1517.5,219.2 L1519.0,218.7 L1520.5,218.1 L1522.0,217.5 L1523.5,217.0 L1525.0,216.4 L1526.5,215.9 L1528.0,215.3 L1529.5,214.8 L1531.0,214.2 L1532.5,213.7 L1534.0,213.2 L1535.5,212.7 L1537.0,212.2 L1538.5,211.6 L1540.0,211.1 L1541.5,210.6 L1543.0,210.1 L1544.5,209.7 L1546.0,209.2 L1547.5,208.7 L1549.0,208.2 L1550.5,207.7 L1552.0,207.3 L1553.5,206.8 L1555.0,206.3 L1556.5,205.9 L1558.1,205.4 L1559.6,205.0 L1561.1,204.5 L1562.6,204.1 L1564.1,203.6 L1565.6,203.2 L1567.1,202.8 L1568.6,202.3 L1570.1,201.9 L1571.6,201.5 L1573.1,201.1 L1574.6,200.6 L1576.1,200.2 L1577.6,199.8 L1579.1,199.4 L1580.6,199.0 L1582.1,198.6 L1583.6,198.2 L1585.1,197.8 L1586.6,197.4 L1588.1,197.0 L1589.6,196.6 L1591.1,196.2 L1592.6,195.9 L1594.1,195.5 L1595.6,195.1 L1597.1,194.7 L1598.6,194.3 L1600.1,194.0 L1601.6,193.6 L1603.1,193.2 L1604.6,192.9 L1606.1,192.5 L1607.6,192.2 L1609.1,191.8 L1610.6,191.4 L1612.1,191.1 L1613.6,190.7 L1615.1,190.4 L1616.6,190.1 L1618.1,189.7 L1619.6,189.4 L1621.1,189.0 L1622.6,188.7 L1624.1,188.4 L1625.6,188.0 L1627.1,187.7 L1628.6,187.4 L1630.1,187.0 L1631.7,186.7 L1633.2,186.4 L1634.7,186.1 L1636.2,185.8 L1637.7,185.4 L1639.2,185.1 L1640.7,184.8 L1642.2,184.5 L1643.7,184.2 L1645.2,183.9 L1646.7,183.6 L1648.2,183.3 L1649.7,183.0 L1651.2,182.7 L1652.7,182.4 L1654.2,182.1 L1655.7,181.8 L1657.2,181.5 L1658.7,181.2 L1660.2,181.0 L1661.7,180.7 L1663.2,180.4 L1664.7,180.1 L1666.2,179.8 L1667.7,179.6 L1669.2,179.3 L1670.7,179.0 L1672.2,178.7 L1673.7,178.5 L1675.2,178.2 L1676.7,177.9 L1678.2,177.7 L1679.7,177.4 L1681.2,177.1 L1682.7,176.9 L1684.2,176.6 L1685.7,176.3 L1687.2,176.1 L1688.7,175.8 L1690.2,175.6 L1691.7,175.3 L1693.2,175.1 L1694.7,174.8 L1696.2,174.6 L1697.7,174.3 L1699.2,174.1 L1700.7,173.9 L1702.2,173.6 L1703.7,173.4 L1705.2,173.1 L1706.8,172.9 L1708.3,172.7 L1709.8,172.4 L1711.3,172.2 L1712.8,171.9 L1714.3,171.7 L1715.8,171.5 L1717.3,171.3 L1718.8,171.0 L1720.3,170.8 L1721.8,170.6 L1723.3,170.3 L1724.8,170.1 L1726.3,169.9 L1727.8,169.7 L1729.3,169.5 L1730.8,169.2 L1732.3,169.0 L1733.8,168.8 L1735.3,168.6 L1736.8,168.4 L1738.3,168.2 L1739.8,167.9 L1741.3,167.7 L1742.8,167.5 L1744.3,167.3 L1745.8,167.1 L1747.3,166.9 L1748.8,166.7 L1750.3,166.5 L1751.8,166.3 L1753.3,166.1 L1754.8,165.9 L1756.3,165.7 L1757.8,165.5 L1759.3,165.3 L1760.8,165.1 L1762.3,164.9 L1763.8,164.7 L1765.3,164.5 L1766.8,164.3 L1768.3,164.1 L1769.8,163.9 L1771.3,163.7 L1772.8,163.5 L1774.3,163.3 L1775.8,163.1 L1777.3,162.9 L1778.8,162.7 L1780.3,162.6 L1781.8,162.4 L1783.4,162.2 L1784.9,162.0 L1786.4,161.8 L1787.9,161.6 L1789.4,161.5 L1790.9,161.3 L1792.4,161.1 L1793.9,160.9 L1795.4,160.7 L1796.9,160.6 L1798.4,160.4 L1799.9,160.2 L1801.4,160.0 L1802.9,159.9 L1804.4,159.7 L1805.9,159.5 L1807.4,159.4 L1808.9,159.2 L1810.4,159.0 L1811.9,158.8 L1813.4,158.7 L1814.9,158.5 L1816.4,158.3 L1817.9,158.2 L1819.4,158.0 L1820.9,157.9 L1822.4,157.7 L1823.9,157.5 L1825.4,157.4 L1826.9,157.2 L1828.4,157.1 L1829.9,156.9 L1831.4,156.7 L1832.9,156.6 L1834.4,156.4 L1835.9,156.3 L1837.4,156.1 L1838.9,156.0 L1840.4,155.8 L1841.9,155.7 L1843.4,155.5 L1844.9,155.4 L1846.4,155.2 L1847.9,155.1 L1849.4,154.9 L1850.9,154.8 L1852.4,154.6 L1853.9,154.5 L1855.4,154.3 L1857.0,154.2 L1858.5,154.1 L1860.0,153.9 L1861.5,153.8 L1863.0,153.6 L1864.5,153.5 L1866.0,153.4 L1867.5,153.2 L1869.0,153.1 L1870.5,153.0 L1872.0,152.8 L1873.5,152.7 L1875.0,152.5 L1876.5,152.4 L1878.0,152.3 L1879.5,152.2 L1881.0,152.0 L1882.5,151.9 L1884.0,151.8 L1885.5,151.6 L1887.0,151.5 L1888.5,151.4 L1890.0,151.3 L1891.5,151.1 L1893.0,151.0 L1894.5,150.9 L1896.0,150.8 L1897.5,150.6 L1899.0,150.5 L1900.5,150.4 L1902.0,150.3 L1903.5,150.1 L1905.0,150.0 L1906.5,149.9 L1908.0,149.8 L1909.5,149.7 L1911.0,149.6 L1912.5,149.4 L1914.0,149.3 L1915.5,149.2 L1917.0,149.1 L1918.5,149.0 L1920.0,148.9 L1921.5,148.8 L1923.0,148.6 L1924.5,148.5 L1926.0,148.4 L1927.5,148.3 L1929.0,148.2 L1930.5,148.1 L1932.0,148.0 L1933.6,147.9 L1935.1,147.8 L1936.6,147.7 L1938.1,147.6 L1939.6,147.5 L1941.1,147.3 L1942.6,147.2 L1944.1,147.1 L1945.6,147.0 L1947.1,146.9 L1948.6,146.8 L1950.1,146.7 L1951.6,146.6 L1953.1,146.5 L1954.6,146.4 L1956.1,146.3 L1957.6,146.2 L1959.1,146.1 L1960.6,146.0 L1962.1,146.0 L1963.6,145.9 L1965.1,145.8 L1966.6,145.7 L1968.1,145.6 L1969.6,145.5 L1971.1,145.4 L1972.6,145.3 L1974.1,145.2 L1975.6,145.1 L1977.1,145.0 L1978.6,144.9 L1980.1,144.8 L1981.6,144.7 L1983.1,144.7 L1984.6,144.6 L1986.1,144.5 L1987.6,144.4 L1989.1,144.3 L1990.6,144.2 L1992.1,144.1 L1993.6,144.1 L1995.1,144.0 L1996.6,143.9 L1998.1,143.8 L1999.6,143.7 L2001.1,143.6 L2002.6,143.6 L2004.1,143.5 L2005.6,143.4 L2007.2,143.3 L2008.7,143.2 L2010.2,143.1 L2011.7,143.1 L2013.2,143.0 L2014.7,142.9 L2016.2,142.8 L2017.7,142.8 L2019.2,142.7 L2020.7,142.6 L2022.2,142.5 L2023.7,142.4 L2025.2,142.4 L2026.7,142.3 L2028.2,142.2 L2029.7,142.1 L2031.2,142.1 L2032.7,142.0 L2034.2,141.9 L2035.7,141.8 L2037.2,141.8 L2038.7,141.7 L2040.2,141.6 L2041.7,141.6 L2043.2,141.5 L2044.7,141.4 L2046.2,141.3 L2047.7,141.3 L2049.2,141.2 L2050.7,141.1 L2052.2,141.1 L2053.7,141.0 L2055.2,140.9 L2056.7,140.9 L2058.2,140.8 L2059.7,140.7 L2061.2,140.7 L2062.7,140.6 L2064.2,140.5 L2065.7,140.5 L2067.2,140.4 L2068.7,140.3 L2070.2,140.3 L2071.7,140.2 L2073.2,140.1 L2074.7,140.1 L2076.2,140.0 L2077.7,140.0 L2079.2,139.9 L2080.7,139.8 L2082.2,139.8 L2083.8,139.7 L2085.3,139.6 L2086.8,139.6 L2088.3,139.5 L2089.8,139.5 L2091.3,139.4 L2092.8,139.3 L2094.3,139.3 L2095.8,139.2 L2097.3,139.2 L2098.8,139.1 L2100.3,139.0 L2101.8,139.0 L2103.3,138.9 L2104.8,138.9 L2106.3,138.8 L2107.8,138.8 L2109.3,138.7 L2110.8,138.6 L2112.3,138.6 L2113.8,138.5 L2115.3,138.5 L2116.8,138.4 L2118.3,138.4 L2119.8,138.3 L2121.3,138.2 L2122.8,138.2 L2124.3,138.1 L2125.8,138.1 L2127.3,138.0 L2128.8,138.0 L2130.3,137.9 L2131.8,137.9 L2133.3,137.8 L2134.8,137.8 L2136.3,137.7 L2137.8,137.6 L2139.3,137.6 L2140.8,137.5 L2142.3,137.5 L2143.8,137.4 L2145.3,137.4 L2146.8,137.3 L2148.3,137.3 L2149.8,137.2 L2151.3,137.2 L2152.8,137.1 L2154.3,137.1 L2155.8,137.0 L2157.3,137.0 L2158.9,136.9 L2160.4,136.9 L2161.9,136.8 L2163.4,136.8 L2164.9,136.7 L2166.4,136.7 L2167.9,136.6 L2169.4,136.6 L2170.9,136.5 L2172.4,136.5 L2173.9,136.4 L2175.4,136.4 L2176.9,136.3 L2178.4,136.3 L2179.9,136.2 L2181.4,136.2 L2182.9,136.1 L2184.4,136.1 L2185.9,136.0 L2187.4,136.0 L2188.9,135.9 L2190.4,135.9 L2191.9,135.8 L2193.4,135.8 L2194.9,135.7 L2196.4,135.7 L2197.9,135.6 L2199.4,135.6 L2200.9,135.5 L2202.4,135.5 L2203.9,135.4 L2205.4,135.4 L2206.9,135.3 L2208.4,135.3 L2209.9,135.2 L2211.4,135.2 L2212.9,135.1 L2214.4,135.1 L2215.9,135.0 L2217.4,135.0 L2218.9,134.9 L2220.4,134.9 L2221.9,134.8 L2223.4,134.8 L2224.9,134.8 L2226.4,134.7 L2227.9,134.7 L2229.4,134.6 L2230.9,134.6 L2232.4,134.5 L2234.0,134.5 L2235.5,134.4 L2237.0,134.4 L2238.5,134.3 L2240.0,134.3 L2241.5,134.2 L2243.0,134.2 L2244.5,134.1 L2246.0,134.1 L2247.5,134.0 L2249.0,134.0 L2250.5,133.9 L2252.0,133.9 L2253.5,133.8 L2255.0,133.8 L2256.5,133.7 L2258.0,133.7 L2259.5,133.6 L2261.0,133.6 L2262.5,133.5 L2264.0,133.5 L2265.5,133.4 L2267.0,133.4 L2268.5,133.3 L2270.0,133.3" stroke="#000" stroke-width="10"/>
</g>
<rect x="318.5" y="110.5" width="1940.0" height="1167.0" fill="none" stroke="#222" stroke-width="3"/>
<g stroke="#222" stroke-width="2"><line x1="318.5" y1="1277.5" x2="318.5" y2="1258.1"/><line x1="318.5" y1="110.5" x2="318.5" y2="129.9"/><line x1="561.0" y1="1277.5" x2="561.0" y2="1258.1"/><line x1="561.0" y1="110.5" x2="561.0" y2="129.9"/><line x1="803.5" y1="1277.5" x2="803.5" y2="1258.1"/><line x1="803.5" y1="110.5" x2="803.5" y2="129.9"/><line x1="1046.0" y1="1277.5" x2="1046.0" y2="1258.1"/><line x1="1046.0" y1="110.5" x2="1046.0" y2="129.9"/><line x1="1288.5" y1="1277.5" x2="1288.5" y2="1258.1"/><line x1="1288.5" y1="110.5" x2="1288.5" y2="129.9"/><line x1="1531.0" y1="1277.5" x2="1531.0" y2="1258.1"/><line x1="1531.0" y1="110.5" x2="1531.0" y2="129.9"/><line x1="1773.5" y1="1277.5" x2="1773.5" y2="1258.1"/><line x1="1773.5" y1="110.5" x2="1773.5" y2="129.9"/><line x1="2016.0" y1="1277.5" x2="2016.0" y2="1258.1"/><line x1="2016.0" y1="110.5" x2="2016.0" y2="129.9"/><line x1="2258.5" y1="1277.5" x2="2258.5" y2="1258.1"/><line x1="2258.5" y1="110.5" x2="2258.5" y2="129.9"/><line x1="318.5" y1="110.5" x2="337.9" y2="110.5"/><line x1="2258.5" y1="110.5" x2="2239.1" y2="110.5"/><line x1="318.5" y1="343.9" x2="337.9" y2="343.9"/><line x1="2258.5" y1="343.9" x2="2239.1" y2="343.9"/><line x1="318.5" y1="577.3" x2="337.9" y2="577.3"/><line x1="2258.5" y1="577.3" x2="2239.1" y2="577.3"/><line x1="318.5" y1="810.7" x2="337.9" y2="810.7"/><line x1="2258.5" y1="810.7" x2="2239.1" y2="810.7"/><line x1="318.5" y1="1044.1" x2="337.9" y2="1044.1"/><line x1="2258.5" y1="1044.1" x2="2239.1" y2="1044.1"/><line x1="318.5" y1="1277.5" x2="337.9" y2="1277.5"/><line x1="2258.5" y1="1277.5" x2="2239.1" y2="1277.5"/></g>
<g fill="#222" font-size="76"><text x="318.5" y="1370" text-anchor="middle">0</text><text x="561.0" y="1370" text-anchor="middle">10</text><text x="803.5" y="1370" text-anchor="middle">20</text><text x="1046.0" y="1370" text-anchor="middle">30</text><text x="1288.5" y="1370" text-anchor="middle">40</text><text x="1531.0" y="1370" text-anchor="middle">50</text><text x="1773.5" y="1370" text-anchor="middle">60</text><text x="2016.0" y="1370" text-anchor="middle">70</text><text x="2258.5" y="1370" text-anchor="middle">80</text><text x="293.5" y="136.5" text-anchor="end">0</text><text x="293.5" y="369.9" text-anchor="end">-10</text><text x="293.5" y="603.3" text-anchor="end">-20</text><text x="293.5" y="836.7" text-anchor="end">-30</text><text x="293.5" y="1070.1" text-anchor="end">-40</text><text x="293.5" y="1303.5" text-anchor="end">-50</text></g>
<text x="1288" y="1469" font-size="84.3" fill="#222" text-anchor="middle">Frequency / GHz</text>
<text transform="translate(166,732.2) rotate(-90)" x="0" y="0" font-size="82.7" fill="#222" text-anchor="middle">Transmission Coefficient Magnitude / dB</text>
<rect x="520.7" y="142.5" width="733.8" height="330.9" fill="#fff" stroke="#222" stroke-width="2.7"/>
<line x1="532.9" y1="187.5" x2="660" y2="187.5" stroke="#ff0000" stroke-width="9" stroke-dasharray="26.2 4.8 14.1 5"/>
<line x1="532.9" y1="268" x2="660" y2="268" stroke="#0000ff" stroke-width="10" stroke-dasharray="26.2 23.9"/>
<circle cx="596.9" cy="347.7" r="11.1" fill="#ff00ff"/>
<line x1="532.7" y1="427.7" x2="660.2" y2="427.7" stroke="#000" stroke-width="10.2"/>
<g font-size="68.4" fill="#000"><text x="670" y="209.8">JEC-FDTD Method</text><text x="668" y="290.7">ADE-FDTD Method</text><text x="669" y="370.8">Proposed Method</text><text x="669" y="450.7">Exact</text></g>
<rect x="1441.5" y="498.6" width="766.0" height="365.79999999999995" fill="#fff" stroke="none"/>
<g clip-path="url(#ci)" fill="none" stroke-linejoin="round">
<path d="M1430.0,788.9 L1431.5,788.3 L1433.0,787.6 L1434.5,787.0 L1436.0,786.3 L1437.5,785.7 L1439.0,785.1 L1440.5,784.4 L1442.0,783.8 L1443.5,783.2 L1445.0,782.5 L1446.6,781.9 L1448.1,781.3 L1449.6,780.7 L1451.1,780.1 L1452.6,779.5 L1454.1,778.9 L1455.6,778.3 L1457.1,777.7 L1458.6,777.1 L1460.1,776.5 L1461.6,775.9 L1463.1,775.3 L1464.6,774.7 L1466.1,774.1 L1467.6,773.6 L1469.1,773.0 L1470.6,772.4 L1472.1,771.9 L1473.6,771.3 L1475.1,770.7 L1476.6,770.2 L1478.2,769.6 L1479.7,769.0 L1481.2,768.5 L1482.7,767.9 L1484.2,767.4 L1485.7,766.9 L1487.2,766.3 L1488.7,765.8 L1490.2,765.2 L1491.7,764.7 L1493.2,764.2 L1494.7,763.6 L1496.2,763.1 L1497.7,762.6 L1499.2,762.1 L1500.7,761.5 L1502.2,761.0 L1503.7,760.5 L1505.2,760.0 L1506.7,759.5 L1508.2,759.0 L1509.8,758.5 L1511.3,758.0 L1512.8,757.5 L1514.3,757.0 L1515.8,756.5 L1517.3,756.0 L1518.8,755.5 L1520.3,755.0 L1521.8,754.5 L1523.3,754.0 L1524.8,753.5 L1526.3,753.0 L1527.8,752.5 L1529.3,752.0 L1530.8,751.6 L1532.3,751.1 L1533.8,750.6 L1535.3,750.1 L1536.8,749.7 L1538.3,749.2 L1539.8,748.7 L1541.4,748.2 L1542.9,747.8 L1544.4,747.3 L1545.9,746.8 L1547.4,746.4 L1548.9,745.9 L1550.4,745.5 L1551.9,745.0 L1553.4,744.5 L1554.9,744.1 L1556.4,743.6 L1557.9,743.2 L1559.4,742.7 L1560.9,742.3 L1562.4,741.8 L1563.9,741.4 L1565.4,740.9 L1566.9,740.5 L1568.4,740.0 L1569.9,739.6 L1571.4,739.1 L1573.0,738.7 L1574.5,738.2 L1576.0,737.8 L1577.5,737.4 L1579.0,736.9 L1580.5,736.5 L1582.0,736.1 L1583.5,735.6 L1585.0,735.2 L1586.5,734.8 L1588.0,734.3 L1589.5,733.9 L1591.0,733.5 L1592.5,733.0 L1594.0,732.6 L1595.5,732.2 L1597.0,731.7 L1598.5,731.3 L1600.0,730.9 L1601.5,730.5 L1603.0,730.0 L1604.6,729.6 L1606.1,729.2 L1607.6,728.7 L1609.1,728.3 L1610.6,727.9 L1612.1,727.5 L1613.6,727.1 L1615.1,726.6 L1616.6,726.2 L1618.1,725.8 L1619.6,725.4 L1621.1,724.9 L1622.6,724.5 L1624.1,724.1 L1625.6,723.7 L1627.1,723.3 L1628.6,722.8 L1630.1,722.4 L1631.6,722.0 L1633.1,721.6 L1634.6,721.2 L1636.2,720.7 L1637.7,720.3 L1639.2,719.9 L1640.7,719.5 L1642.2,719.1 L1643.7,718.6 L1645.2,718.2 L1646.7,717.8 L1648.2,717.4 L1649.7,717.0 L1651.2,716.5 L1652.7,716.1 L1654.2,715.7 L1655.7,715.3 L1657.2,714.9 L1658.7,714.4 L1660.2,714.0 L1661.7,713.6 L1663.2,713.2 L1664.7,712.7 L1666.2,712.3 L1667.8,711.9 L1669.3,711.5 L1670.8,711.1 L1672.3,710.6 L1673.8,710.2 L1675.3,709.8 L1676.8,709.4 L1678.3,708.9 L1679.8,708.5 L1681.3,708.1 L1682.8,707.7 L1684.3,707.2 L1685.8,706.8 L1687.3,706.4 L1688.8,706.0 L1690.3,705.5 L1691.8,705.1 L1693.3,704.7 L1694.8,704.3 L1696.3,703.9 L1697.8,703.4 L1699.4,703.0 L1700.9,702.6 L1702.4,702.2 L1703.9,701.7 L1705.4,701.3 L1706.9,700.9 L1708.4,700.5 L1709.9,700.0 L1711.4,699.6 L1712.9,699.2 L1714.4,698.8 L1715.9,698.4 L1717.4,697.9 L1718.9,697.5 L1720.4,697.1 L1721.9,696.7 L1723.4,696.2 L1724.9,695.8 L1726.4,695.4 L1727.9,695.0 L1729.4,694.6 L1731.0,694.1 L1732.5,693.7 L1734.0,693.3 L1735.5,692.9 L1737.0,692.5 L1738.5,692.0 L1740.0,691.6 L1741.5,691.2 L1743.0,690.8 L1744.5,690.4 L1746.0,689.9 L1747.5,689.5 L1749.0,689.1 L1750.5,688.7 L1752.0,688.3 L1753.5,687.9 L1755.0,687.4 L1756.5,687.0 L1758.0,686.6 L1759.5,686.2 L1761.0,685.8 L1762.6,685.4 L1764.1,684.9 L1765.6,684.5 L1767.1,684.1 L1768.6,683.7 L1770.1,683.3 L1771.6,682.9 L1773.1,682.5 L1774.6,682.1 L1776.1,681.6 L1777.6,681.2 L1779.1,680.8 L1780.6,680.4 L1782.1,680.0 L1783.6,679.6 L1785.1,679.2 L1786.6,678.8 L1788.1,678.4 L1789.6,678.0 L1791.1,677.6 L1792.6,677.2 L1794.2,676.7 L1795.7,676.3 L1797.2,675.9 L1798.7,675.5 L1800.2,675.1 L1801.7,674.7 L1803.2,674.3 L1804.7,673.9 L1806.2,673.5 L1807.7,673.1 L1809.2,672.7 L1810.7,672.3 L1812.2,671.9 L1813.7,671.5 L1815.2,671.1 L1816.7,670.7 L1818.2,670.3 L1819.7,669.9 L1821.2,669.6 L1822.7,669.2 L1824.2,668.8 L1825.8,668.4 L1827.3,668.0 L1828.8,667.6 L1830.3,667.2 L1831.8,666.8 L1833.3,666.4 L1834.8,666.0 L1836.3,665.6 L1837.8,665.3 L1839.3,664.9 L1840.8,664.5 L1842.3,664.1 L1843.8,663.7 L1845.3,663.3 L1846.8,663.0 L1848.3,662.6 L1849.8,662.2 L1851.3,661.8 L1852.8,661.4 L1854.3,661.1 L1855.8,660.7 L1857.4,660.3 L1858.9,659.9 L1860.4,659.6 L1861.9,659.2 L1863.4,658.8 L1864.9,658.4 L1866.4,658.1 L1867.9,657.7 L1869.4,657.3 L1870.9,657.0 L1872.4,656.6 L1873.9,656.2 L1875.4,655.9 L1876.9,655.5 L1878.4,655.1 L1879.9,654.8 L1881.4,654.4 L1882.9,654.1 L1884.4,653.7 L1885.9,653.3 L1887.4,653.0 L1889.0,652.6 L1890.5,652.3 L1892.0,651.9 L1893.5,651.6 L1895.0,651.2 L1896.5,650.9 L1898.0,650.5 L1899.5,650.2 L1901.0,649.8 L1902.5,649.5 L1904.0,649.1 L1905.5,648.8 L1907.0,648.4 L1908.5,648.1 L1910.0,647.7 L1911.5,647.4 L1913.0,647.0 L1914.5,646.7 L1916.0,646.4 L1917.5,646.0 L1919.0,645.7 L1920.6,645.4 L1922.1,645.0 L1923.6,644.7 L1925.1,644.3 L1926.6,644.0 L1928.1,643.7 L1929.6,643.4 L1931.1,643.0 L1932.6,642.7 L1934.1,642.4 L1935.6,642.0 L1937.1,641.7 L1938.6,641.4 L1940.1,641.1 L1941.6,640.8 L1943.1,640.4 L1944.6,640.1 L1946.1,639.8 L1947.6,639.5 L1949.1,639.2 L1950.6,638.8 L1952.2,638.5 L1953.7,638.2 L1955.2,637.9 L1956.7,637.6 L1958.2,637.3 L1959.7,637.0 L1961.2,636.7 L1962.7,636.4 L1964.2,636.1 L1965.7,635.8 L1967.2,635.5 L1968.7,635.2 L1970.2,634.9 L1971.7,634.6 L1973.2,634.3 L1974.7,634.0 L1976.2,633.7 L1977.7,633.4 L1979.2,633.1 L1980.7,632.8 L1982.2,632.5 L1983.8,632.2 L1985.3,631.9 L1986.8,631.6 L1988.3,631.4 L1989.8,631.1 L1991.3,630.8 L1992.8,630.5 L1994.3,630.2 L1995.8,629.9 L1997.3,629.7 L1998.8,629.4 L2000.3,629.1 L2001.8,628.8 L2003.3,628.6 L2004.8,628.3 L2006.3,628.0 L2007.8,627.8 L2009.3,627.5 L2010.8,627.2 L2012.3,627.0 L2013.8,626.7 L2015.4,626.4 L2016.9,626.2 L2018.4,625.9 L2019.9,625.7 L2021.4,625.4 L2022.9,625.1 L2024.4,624.9 L2025.9,624.6 L2027.4,624.4 L2028.9,624.1 L2030.4,623.9 L2031.9,623.6 L2033.4,623.4 L2034.9,623.2 L2036.4,622.9 L2037.9,622.7 L2039.4,622.4 L2040.9,622.2 L2042.4,622.0 L2043.9,621.7 L2045.4,621.5 L2047.0,621.2 L2048.5,621.0 L2050.0,620.8 L2051.5,620.6 L2053.0,620.3 L2054.5,620.1 L2056.0,619.9 L2057.5,619.7 L2059.0,619.4 L2060.5,619.2 L2062.0,619.0 L2063.5,618.8 L2065.0,618.6 L2066.5,618.3 L2068.0,618.1 L2069.5,617.9 L2071.0,617.7 L2072.5,617.5 L2074.0,617.3 L2075.5,617.1 L2077.0,616.9 L2078.6,616.7 L2080.1,616.5 L2081.6,616.3 L2083.1,616.1 L2084.6,615.9 L2086.1,615.7 L2087.6,615.5 L2089.1,615.3 L2090.6,615.1 L2092.1,614.9 L2093.6,614.7 L2095.1,614.6 L2096.6,614.4 L2098.1,614.2 L2099.6,614.0 L2101.1,613.8 L2102.6,613.7 L2104.1,613.5 L2105.6,613.3 L2107.1,613.1 L2108.6,613.0 L2110.2,612.8 L2111.7,612.6 L2113.2,612.5 L2114.7,612.3 L2116.2,612.1 L2117.7,612.0 L2119.2,611.8 L2120.7,611.6 L2122.2,611.5 L2123.7,611.3 L2125.2,611.2 L2126.7,611.0 L2128.2,610.9 L2129.7,610.7 L2131.2,610.6 L2132.7,610.4 L2134.2,610.3 L2135.7,610.2 L2137.2,610.0 L2138.7,609.9 L2140.2,609.7 L2141.8,609.6 L2143.3,609.5 L2144.8,609.3 L2146.3,609.2 L2147.8,609.1 L2149.3,609.0 L2150.8,608.8 L2152.3,608.7 L2153.8,608.6 L2155.3,608.5 L2156.8,608.3 L2158.3,608.2 L2159.8,608.1 L2161.3,608.0 L2162.8,607.9 L2164.3,607.8 L2165.8,607.7 L2167.3,607.6 L2168.8,607.5 L2170.3,607.4 L2171.8,607.3 L2173.4,607.2 L2174.9,607.1 L2176.4,607.0 L2177.9,606.9 L2179.4,606.8 L2180.9,606.7 L2182.4,606.6 L2183.9,606.5 L2185.4,606.5 L2186.9,606.4 L2188.4,606.3 L2189.9,606.2 L2191.4,606.1 L2192.9,606.1 L2194.4,606.0 L2195.9,605.9 L2197.4,605.9 L2198.9,605.8 L2200.4,605.7 L2201.9,605.7 L2203.4,605.6 L2205.0,605.5 L2206.5,605.5 L2208.0,605.4 L2209.5,605.4 L2211.0,605.3 L2212.5,605.3 L2214.0,605.2 L2215.5,605.2 L2217.0,605.1 L2218.5,605.1 L2220.0,605.1" stroke="#ff0000" stroke-width="10" stroke-dasharray="26 5 14 5"/>
<path d="M1430.0,788.9 L1431.5,788.3 L1433.0,787.6 L1434.5,787.0 L1436.0,786.3 L1437.5,785.7 L1439.0,785.1 L1440.5,784.4 L1442.0,783.8 L1443.5,783.2 L1445.0,782.5 L1446.6,781.9 L1448.1,781.3 L1449.6,780.7 L1451.1,780.1 L1452.6,779.5 L1454.1,778.9 L1455.6,778.3 L1457.1,777.7 L1458.6,777.1 L1460.1,776.5 L1461.6,775.9 L1463.1,775.3 L1464.6,774.7 L1466.1,774.1 L1467.6,773.6 L1469.1,773.0 L1470.6,772.4 L1472.1,771.9 L1473.6,771.3 L1475.1,770.7 L1476.6,770.2 L1478.2,769.6 L1479.7,769.0 L1481.2,768.5 L1482.7,767.9 L1484.2,767.4 L1485.7,766.9 L1487.2,766.3 L1488.7,765.8 L1490.2,765.2 L1491.7,764.7 L1493.2,764.2 L1494.7,763.6 L1496.2,763.1 L1497.7,762.6 L1499.2,762.1 L1500.7,761.5 L1502.2,761.0 L1503.7,760.5 L1505.2,760.0 L1506.7,759.5 L1508.2,759.0 L1509.8,758.5 L1511.3,758.0 L1512.8,757.5 L1514.3,757.0 L1515.8,756.5 L1517.3,756.0 L1518.8,755.5 L1520.3,755.0 L1521.8,754.5 L1523.3,754.0 L1524.8,753.5 L1526.3,753.0 L1527.8,752.5 L1529.3,752.0 L1530.8,751.6 L1532.3,751.1 L1533.8,750.6 L1535.3,750.1 L1536.8,749.7 L1538.3,749.2 L1539.8,748.7 L1541.4,748.2 L1542.9,747.8 L1544.4,747.3 L1545.9,746.8 L1547.4,746.4 L1548.9,745.9 L1550.4,745.5 L1551.9,745.0 L1553.4,744.5 L1554.9,744.1 L1556.4,743.6 L1557.9,743.2 L1559.4,742.7 L1560.9,742.3 L1562.4,741.8 L1563.9,741.4 L1565.4,740.9 L1566.9,740.5 L1568.4,740.0 L1569.9,739.6 L1571.4,739.1 L1573.0,738.7 L1574.5,738.2 L1576.0,737.8 L1577.5,737.4 L1579.0,736.9 L1580.5,736.5 L1582.0,736.1 L1583.5,735.6 L1585.0,735.2 L1586.5,734.8 L1588.0,734.3 L1589.5,733.9 L1591.0,733.5 L1592.5,733.0 L1594.0,732.6 L1595.5,732.2 L1597.0,731.7 L1598.5,731.3 L1600.0,730.9 L1601.5,730.5 L1603.0,730.0 L1604.6,729.6 L1606.1,729.2 L1607.6,728.7 L1609.1,728.3 L1610.6,727.9 L1612.1,727.5 L1613.6,727.1 L1615.1,726.6 L1616.6,726.2 L1618.1,725.8 L1619.6,725.4 L1621.1,724.9 L1622.6,724.5 L1624.1,724.1 L1625.6,723.7 L1627.1,723.3 L1628.6,722.8 L1630.1,722.4 L1631.6,722.0 L1633.1,721.6 L1634.6,721.2 L1636.2,720.7 L1637.7,720.3 L1639.2,719.9 L1640.7,719.5 L1642.2,719.1 L1643.7,718.6 L1645.2,718.2 L1646.7,717.8 L1648.2,717.4 L1649.7,717.0 L1651.2,716.5 L1652.7,716.1 L1654.2,715.7 L1655.7,715.3 L1657.2,714.9 L1658.7,714.4 L1660.2,714.0 L1661.7,713.6 L1663.2,713.2 L1664.7,712.7 L1666.2,712.3 L1667.8,711.9 L1669.3,711.5 L1670.8,711.1 L1672.3,710.6 L1673.8,710.2 L1675.3,709.8 L1676.8,709.4 L1678.3,708.9 L1679.8,708.5 L1681.3,708.1 L1682.8,707.7 L1684.3,707.2 L1685.8,706.8 L1687.3,706.4 L1688.8,706.0 L1690.3,705.5 L1691.8,705.1 L1693.3,704.7 L1694.8,704.3 L1696.3,703.9 L1697.8,703.4 L1699.4,703.0 L1700.9,702.6 L1702.4,702.2 L1703.9,701.7 L1705.4,701.3 L1706.9,700.9 L1708.4,700.5 L1709.9,700.0 L1711.4,699.6 L1712.9,699.2 L1714.4,698.8 L1715.9,698.4 L1717.4,697.9 L1718.9,697.5 L1720.4,697.1 L1721.9,696.7 L1723.4,696.2 L1724.9,695.8 L1726.4,695.4 L1727.9,695.0 L1729.4,694.6 L1731.0,694.1 L1732.5,693.7 L1734.0,693.3 L1735.5,692.9 L1737.0,692.5 L1738.5,692.0 L1740.0,691.6 L1741.5,691.2 L1743.0,690.8 L1744.5,690.4 L1746.0,689.9 L1747.5,689.5 L1749.0,689.1 L1750.5,688.7 L1752.0,688.3 L1753.5,687.9 L1755.0,687.4 L1756.5,687.0 L1758.0,686.6 L1759.5,686.2 L1761.0,685.8 L1762.6,685.4 L1764.1,684.9 L1765.6,684.5 L1767.1,684.1 L1768.6,683.7 L1770.1,683.3 L1771.6,682.9 L1773.1,682.5 L1774.6,682.1 L1776.1,681.6 L1777.6,681.2 L1779.1,680.8 L1780.6,680.4 L1782.1,680.0 L1783.6,679.6 L1785.1,679.2 L1786.6,678.8 L1788.1,678.4 L1789.6,678.0 L1791.1,677.6 L1792.6,677.2 L1794.2,676.7 L1795.7,676.3 L1797.2,675.9 L1798.7,675.5 L1800.2,675.1 L1801.7,674.7 L1803.2,674.3 L1804.7,673.9 L1806.2,673.5 L1807.7,673.1 L1809.2,672.7 L1810.7,672.3 L1812.2,671.9 L1813.7,671.5 L1815.2,671.1 L1816.7,670.7 L1818.2,670.3 L1819.7,669.9 L1821.2,669.6 L1822.7,669.2 L1824.2,668.8 L1825.8,668.4 L1827.3,668.0 L1828.8,667.6 L1830.3,667.2 L1831.8,666.8 L1833.3,666.4 L1834.8,666.0 L1836.3,665.6 L1837.8,665.3 L1839.3,664.9 L1840.8,664.5 L1842.3,664.1 L1843.8,663.7 L1845.3,663.3 L1846.8,663.0 L1848.3,662.6 L1849.8,662.2 L1851.3,661.8 L1852.8,661.4 L1854.3,661.1 L1855.8,660.7 L1857.4,660.3 L1858.9,659.9 L1860.4,659.6 L1861.9,659.2 L1863.4,658.8 L1864.9,658.4 L1866.4,658.1 L1867.9,657.7 L1869.4,657.3 L1870.9,657.0 L1872.4,656.6 L1873.9,656.2 L1875.4,655.9 L1876.9,655.5 L1878.4,655.1 L1879.9,654.8 L1881.4,654.4 L1882.9,654.1 L1884.4,653.7 L1885.9,653.3 L1887.4,653.0 L1889.0,652.6 L1890.5,652.3 L1892.0,651.9 L1893.5,651.6 L1895.0,651.2 L1896.5,650.9 L1898.0,650.5 L1899.5,650.2 L1901.0,649.8 L1902.5,649.5 L1904.0,649.1 L1905.5,648.8 L1907.0,648.4 L1908.5,648.1 L1910.0,647.7 L1911.5,647.4 L1913.0,647.0 L1914.5,646.7 L1916.0,646.4 L1917.5,646.0 L1919.0,645.7 L1920.6,645.4 L1922.1,645.0 L1923.6,644.7 L1925.1,644.3 L1926.6,644.0 L1928.1,643.7 L1929.6,643.4 L1931.1,643.0 L1932.6,642.7 L1934.1,642.4 L1935.6,642.0 L1937.1,641.7 L1938.6,641.4 L1940.1,641.1 L1941.6,640.8 L1943.1,640.4 L1944.6,640.1 L1946.1,639.8 L1947.6,639.5 L1949.1,639.2 L1950.6,638.8 L1952.2,638.5 L1953.7,638.2 L1955.2,637.9 L1956.7,637.6 L1958.2,637.3 L1959.7,637.0 L1961.2,636.7 L1962.7,636.4 L1964.2,636.1 L1965.7,635.8 L1967.2,635.5 L1968.7,635.2 L1970.2,634.9 L1971.7,634.6 L1973.2,634.3 L1974.7,634.0 L1976.2,633.7 L1977.7,633.4 L1979.2,633.1 L1980.7,632.8 L1982.2,632.5 L1983.8,632.2 L1985.3,631.9 L1986.8,631.6 L1988.3,631.4 L1989.8,631.1 L1991.3,630.8 L1992.8,630.5 L1994.3,630.2 L1995.8,629.9 L1997.3,629.7 L1998.8,629.4 L2000.3,629.1 L2001.8,628.8 L2003.3,628.6 L2004.8,628.3 L2006.3,628.0 L2007.8,627.8 L2009.3,627.5 L2010.8,627.2 L2012.3,627.0 L2013.8,626.7 L2015.4,626.4 L2016.9,626.2 L2018.4,625.9 L2019.9,625.7 L2021.4,625.4 L2022.9,625.1 L2024.4,624.9 L2025.9,624.6 L2027.4,624.4 L2028.9,624.1 L2030.4,623.9 L2031.9,623.6 L2033.4,623.4 L2034.9,623.2 L2036.4,622.9 L2037.9,622.7 L2039.4,622.4 L2040.9,622.2 L2042.4,622.0 L2043.9,621.7 L2045.4,621.5 L2047.0,621.2 L2048.5,621.0 L2050.0,620.8 L2051.5,620.6 L2053.0,620.3 L2054.5,620.1 L2056.0,619.9 L2057.5,619.7 L2059.0,619.4 L2060.5,619.2 L2062.0,619.0 L2063.5,618.8 L2065.0,618.6 L2066.5,618.3 L2068.0,618.1 L2069.5,617.9 L2071.0,617.7 L2072.5,617.5 L2074.0,617.3 L2075.5,617.1 L2077.0,616.9 L2078.6,616.7 L2080.1,616.5 L2081.6,616.3 L2083.1,616.1 L2084.6,615.9 L2086.1,615.7 L2087.6,615.5 L2089.1,615.3 L2090.6,615.1 L2092.1,614.9 L2093.6,614.7 L2095.1,614.6 L2096.6,614.4 L2098.1,614.2 L2099.6,614.0 L2101.1,613.8 L2102.6,613.7 L2104.1,613.5 L2105.6,613.3 L2107.1,613.1 L2108.6,613.0 L2110.2,612.8 L2111.7,612.6 L2113.2,612.5 L2114.7,612.3 L2116.2,612.1 L2117.7,612.0 L2119.2,611.8 L2120.7,611.6 L2122.2,611.5 L2123.7,611.3 L2125.2,611.2 L2126.7,611.0 L2128.2,610.9 L2129.7,610.7 L2131.2,610.6 L2132.7,610.4 L2134.2,610.3 L2135.7,610.2 L2137.2,610.0 L2138.7,609.9 L2140.2,609.7 L2141.8,609.6 L2143.3,609.5 L2144.8,609.3 L2146.3,609.2 L2147.8,609.1 L2149.3,609.0 L2150.8,608.8 L2152.3,608.7 L2153.8,608.6 L2155.3,608.5 L2156.8,608.3 L2158.3,608.2 L2159.8,608.1 L2161.3,608.0 L2162.8,607.9 L2164.3,607.8 L2165.8,607.7 L2167.3,607.6 L2168.8,607.5 L2170.3,607.4 L2171.8,607.3 L2173.4,607.2 L2174.9,607.1 L2176.4,607.0 L2177.9,606.9 L2179.4,606.8 L2180.9,606.7 L2182.4,606.6 L2183.9,606.5 L2185.4,606.5 L2186.9,606.4 L2188.4,606.3 L2189.9,606.2 L2191.4,606.1 L2192.9,606.1 L2194.4,606.0 L2195.9,605.9 L2197.4,605.9 L2198.9,605.8 L2200.4,605.7 L2201.9,605.7 L2203.4,605.6 L2205.0,605.5 L2206.5,605.5 L2208.0,605.4 L2209.5,605.4 L2211.0,605.3 L2212.5,605.3 L2214.0,605.2 L2215.5,605.2 L2217.0,605.1 L2218.5,605.1 L2220.0,605.1" stroke="#0000ff" stroke-width="10" stroke-dasharray="26 24"/>
<circle cx="1459.9" cy="732.8" r="11" fill="#ff00ff"/>
<circle cx="1523.5" cy="712.0" r="11" fill="#ff00ff"/>
<circle cx="1587.2" cy="694.1" r="11" fill="#ff00ff"/>
<circle cx="1650.8" cy="678.2" r="11" fill="#ff00ff"/>
<circle cx="1714.5" cy="663.3" r="11" fill="#ff00ff"/>
<circle cx="1778.2" cy="648.4" r="11" fill="#ff00ff"/>
<circle cx="1841.8" cy="632.8" r="11" fill="#ff00ff"/>
<circle cx="1905.5" cy="617.4" r="11" fill="#ff00ff"/>
<circle cx="1969.2" cy="603.8" r="11" fill="#ff00ff"/>
<circle cx="2032.8" cy="593.1" r="11" fill="#ff00ff"/>
<circle cx="2096.5" cy="586.2" r="11" fill="#ff00ff"/>
<circle cx="2160.1" cy="581.0" r="11" fill="#ff00ff"/>
<path d="M1430.0,742.0 L1431.5,741.4 L1433.0,740.8 L1434.5,740.2 L1436.0,739.6 L1437.5,739.1 L1439.0,738.5 L1440.5,737.9 L1442.0,737.4 L1443.5,736.8 L1445.0,736.2 L1446.6,735.7 L1448.1,735.1 L1449.6,734.6 L1451.1,734.0 L1452.6,733.5 L1454.1,732.9 L1455.6,732.4 L1457.1,731.8 L1458.6,731.3 L1460.1,730.8 L1461.6,730.2 L1463.1,729.7 L1464.6,729.2 L1466.1,728.6 L1467.6,728.1 L1469.1,727.6 L1470.6,727.1 L1472.1,726.5 L1473.6,726.0 L1475.1,725.5 L1476.6,725.0 L1478.2,724.5 L1479.7,724.0 L1481.2,723.5 L1482.7,723.0 L1484.2,722.5 L1485.7,722.0 L1487.2,721.5 L1488.7,721.0 L1490.2,720.5 L1491.7,720.0 L1493.2,719.5 L1494.7,719.0 L1496.2,718.5 L1497.7,718.0 L1499.2,717.5 L1500.7,717.0 L1502.2,716.6 L1503.7,716.1 L1505.2,715.6 L1506.7,715.1 L1508.2,714.7 L1509.8,714.2 L1511.3,713.7 L1512.8,713.3 L1514.3,712.8 L1515.8,712.3 L1517.3,711.9 L1518.8,711.4 L1520.3,710.9 L1521.8,710.5 L1523.3,710.0 L1524.8,709.6 L1526.3,709.1 L1527.8,708.7 L1529.3,708.2 L1530.8,707.8 L1532.3,707.3 L1533.8,706.9 L1535.3,706.5 L1536.8,706.0 L1538.3,705.6 L1539.8,705.1 L1541.4,704.7 L1542.9,704.3 L1544.4,703.8 L1545.9,703.4 L1547.4,703.0 L1548.9,702.5 L1550.4,702.1 L1551.9,701.7 L1553.4,701.3 L1554.9,700.8 L1556.4,700.4 L1557.9,700.0 L1559.4,699.6 L1560.9,699.2 L1562.4,698.7 L1563.9,698.3 L1565.4,697.9 L1566.9,697.5 L1568.4,697.1 L1569.9,696.7 L1571.4,696.3 L1573.0,695.9 L1574.5,695.5 L1576.0,695.1 L1577.5,694.7 L1579.0,694.3 L1580.5,693.9 L1582.0,693.5 L1583.5,693.1 L1585.0,692.7 L1586.5,692.3 L1588.0,691.9 L1589.5,691.5 L1591.0,691.1 L1592.5,690.7 L1594.0,690.3 L1595.5,689.9 L1597.0,689.5 L1598.5,689.1 L1600.0,688.8 L1601.5,688.4 L1603.0,688.0 L1604.6,687.6 L1606.1,687.2 L1607.6,686.8 L1609.1,686.5 L1610.6,686.1 L1612.1,685.7 L1613.6,685.3 L1615.1,684.9 L1616.6,684.6 L1618.1,684.2 L1619.6,683.8 L1621.1,683.4 L1622.6,683.1 L1624.1,682.7 L1625.6,682.3 L1627.1,682.0 L1628.6,681.6 L1630.1,681.2 L1631.6,680.8 L1633.1,680.5 L1634.6,680.1 L1636.2,679.7 L1637.7,679.4 L1639.2,679.0 L1640.7,678.7 L1642.2,678.3 L1643.7,677.9 L1645.2,677.6 L1646.7,677.2 L1648.2,676.8 L1649.7,676.5 L1651.2,676.1 L1652.7,675.8 L1654.2,675.4 L1655.7,675.0 L1657.2,674.7 L1658.7,674.3 L1660.2,674.0 L1661.7,673.6 L1663.2,673.3 L1664.7,672.9 L1666.2,672.5 L1667.8,672.2 L1669.3,671.8 L1670.8,671.5 L1672.3,671.1 L1673.8,670.8 L1675.3,670.4 L1676.8,670.1 L1678.3,669.7 L1679.8,669.4 L1681.3,669.0 L1682.8,668.7 L1684.3,668.3 L1685.8,668.0 L1687.3,667.6 L1688.8,667.3 L1690.3,666.9 L1691.8,666.6 L1693.3,666.2 L1694.8,665.9 L1696.3,665.5 L1697.8,665.2 L1699.4,664.8 L1700.9,664.5 L1702.4,664.1 L1703.9,663.8 L1705.4,663.4 L1706.9,663.1 L1708.4,662.7 L1709.9,662.4 L1711.4,662.0 L1712.9,661.7 L1714.4,661.3 L1715.9,661.0 L1717.4,660.6 L1718.9,660.3 L1720.4,659.9 L1721.9,659.6 L1723.4,659.2 L1724.9,658.9 L1726.4,658.5 L1727.9,658.2 L1729.4,657.8 L1731.0,657.5 L1732.5,657.1 L1734.0,656.8 L1735.5,656.4 L1737.0,656.1 L1738.5,655.7 L1740.0,655.4 L1741.5,655.0 L1743.0,654.7 L1744.5,654.3 L1746.0,654.0 L1747.5,653.6 L1749.0,653.3 L1750.5,652.9 L1752.0,652.6 L1753.5,652.2 L1755.0,651.9 L1756.5,651.5 L1758.0,651.2 L1759.5,650.8 L1761.0,650.4 L1762.6,650.1 L1764.1,649.7 L1765.6,649.4 L1767.1,649.0 L1768.6,648.7 L1770.1,648.3 L1771.6,647.9 L1773.1,647.6 L1774.6,647.2 L1776.1,646.9 L1777.6,646.5 L1779.1,646.1 L1780.6,645.8 L1782.1,645.4 L1783.6,645.1 L1785.1,644.7 L1786.6,644.3 L1788.1,644.0 L1789.6,643.6 L1791.1,643.2 L1792.6,642.9 L1794.2,642.5 L1795.7,642.1 L1797.2,641.8 L1798.7,641.4 L1800.2,641.0 L1801.7,640.7 L1803.2,640.3 L1804.7,639.9 L1806.2,639.6 L1807.7,639.2 L1809.2,638.8 L1810.7,638.4 L1812.2,638.1 L1813.7,637.7 L1815.2,637.3 L1816.7,637.0 L1818.2,636.6 L1819.7,636.2 L1821.2,635.9 L1822.7,635.5 L1824.2,635.1 L1825.8,634.7 L1827.3,634.4 L1828.8,634.0 L1830.3,633.6 L1831.8,633.3 L1833.3,632.9 L1834.8,632.5 L1836.3,632.1 L1837.8,631.8 L1839.3,631.4 L1840.8,631.0 L1842.3,630.7 L1843.8,630.3 L1845.3,629.9 L1846.8,629.5 L1848.3,629.2 L1849.8,628.8 L1851.3,628.4 L1852.8,628.1 L1854.3,627.7 L1855.8,627.3 L1857.4,627.0 L1858.9,626.6 L1860.4,626.2 L1861.9,625.9 L1863.4,625.5 L1864.9,625.1 L1866.4,624.8 L1867.9,624.4 L1869.4,624.0 L1870.9,623.7 L1872.4,623.3 L1873.9,622.9 L1875.4,622.6 L1876.9,622.2 L1878.4,621.8 L1879.9,621.5 L1881.4,621.1 L1882.9,620.8 L1884.4,620.4 L1885.9,620.0 L1887.4,619.7 L1889.0,619.3 L1890.5,619.0 L1892.0,618.6 L1893.5,618.3 L1895.0,617.9 L1896.5,617.5 L1898.0,617.2 L1899.5,616.8 L1901.0,616.5 L1902.5,616.1 L1904.0,615.8 L1905.5,615.4 L1907.0,615.1 L1908.5,614.7 L1910.0,614.4 L1911.5,614.1 L1913.0,613.7 L1914.5,613.4 L1916.0,613.0 L1917.5,612.7 L1919.0,612.4 L1920.6,612.0 L1922.1,611.7 L1923.6,611.3 L1925.1,611.0 L1926.6,610.7 L1928.1,610.3 L1929.6,610.0 L1931.1,609.7 L1932.6,609.3 L1934.1,609.0 L1935.6,608.7 L1937.1,608.4 L1938.6,608.0 L1940.1,607.7 L1941.6,607.4 L1943.1,607.1 L1944.6,606.8 L1946.1,606.4 L1947.6,606.1 L1949.1,605.8 L1950.6,605.5 L1952.2,605.2 L1953.7,604.9 L1955.2,604.6 L1956.7,604.3 L1958.2,604.0 L1959.7,603.7 L1961.2,603.3 L1962.7,603.0 L1964.2,602.7 L1965.7,602.5 L1967.2,602.2 L1968.7,601.9 L1970.2,601.6 L1971.7,601.3 L1973.2,601.0 L1974.7,600.7 L1976.2,600.4 L1977.7,600.1 L1979.2,599.9 L1980.7,599.6 L1982.2,599.3 L1983.8,599.0 L1985.3,598.7 L1986.8,598.5 L1988.3,598.2 L1989.8,597.9 L1991.3,597.7 L1992.8,597.4 L1994.3,597.1 L1995.8,596.9 L1997.3,596.6 L1998.8,596.4 L2000.3,596.1 L2001.8,595.8 L2003.3,595.6 L2004.8,595.3 L2006.3,595.1 L2007.8,594.9 L2009.3,594.6 L2010.8,594.4 L2012.3,594.1 L2013.8,593.9 L2015.4,593.7 L2016.9,593.4 L2018.4,593.2 L2019.9,593.0 L2021.4,592.8 L2022.9,592.5 L2024.4,592.3 L2025.9,592.1 L2027.4,591.9 L2028.9,591.7 L2030.4,591.5 L2031.9,591.3 L2033.4,591.0 L2034.9,590.8 L2036.4,590.6 L2037.9,590.4 L2039.4,590.3 L2040.9,590.1 L2042.4,589.9 L2043.9,589.7 L2045.4,589.5 L2047.0,589.3 L2048.5,589.1 L2050.0,588.9 L2051.5,588.8 L2053.0,588.6 L2054.5,588.4 L2056.0,588.2 L2057.5,588.1 L2059.0,587.9 L2060.5,587.7 L2062.0,587.6 L2063.5,587.4 L2065.0,587.3 L2066.5,587.1 L2068.0,586.9 L2069.5,586.8 L2071.0,586.6 L2072.5,586.5 L2074.0,586.3 L2075.5,586.2 L2077.0,586.0 L2078.6,585.9 L2080.1,585.7 L2081.6,585.6 L2083.1,585.4 L2084.6,585.3 L2086.1,585.2 L2087.6,585.0 L2089.1,584.9 L2090.6,584.7 L2092.1,584.6 L2093.6,584.5 L2095.1,584.3 L2096.6,584.2 L2098.1,584.1 L2099.6,583.9 L2101.1,583.8 L2102.6,583.7 L2104.1,583.6 L2105.6,583.4 L2107.1,583.3 L2108.6,583.2 L2110.2,583.0 L2111.7,582.9 L2113.2,582.8 L2114.7,582.7 L2116.2,582.5 L2117.7,582.4 L2119.2,582.3 L2120.7,582.2 L2122.2,582.1 L2123.7,581.9 L2125.2,581.8 L2126.7,581.7 L2128.2,581.6 L2129.7,581.4 L2131.2,581.3 L2132.7,581.2 L2134.2,581.1 L2135.7,581.0 L2137.2,580.8 L2138.7,580.7 L2140.2,580.6 L2141.8,580.5 L2143.3,580.4 L2144.8,580.2 L2146.3,580.1 L2147.8,580.0 L2149.3,579.9 L2150.8,579.7 L2152.3,579.6 L2153.8,579.5 L2155.3,579.4 L2156.8,579.2 L2158.3,579.1 L2159.8,579.0 L2161.3,578.9 L2162.8,578.7 L2164.3,578.6 L2165.8,578.5 L2167.3,578.3 L2168.8,578.2 L2170.3,578.1 L2171.8,578.0 L2173.4,577.8 L2174.9,577.7 L2176.4,577.5 L2177.9,577.4 L2179.4,577.3 L2180.9,577.1 L2182.4,577.0 L2183.9,576.9 L2185.4,576.7 L2186.9,576.6 L2188.4,576.4 L2189.9,576.3 L2191.4,576.1 L2192.9,576.0 L2194.4,575.8 L2195.9,575.7 L2197.4,575.5 L2198.9,575.4 L2200.4,575.2 L2201.9,575.1 L2203.4,574.9 L2205.0,574.7 L2206.5,574.6 L2208.0,574.4 L2209.5,574.2 L2211.0,574.1 L2212.5,573.9 L2214.0,573.7 L2215.5,573.5 L2217.0,573.4 L2218.5,573.2 L2220.0,573.0" stroke="#000" stroke-width="10"/>
</g>
<rect x="1441.5" y="498.6" width="766.0" height="365.79999999999995" fill="none" stroke="#222" stroke-width="3"/>
<g stroke="#222" stroke-width="2.5"><line x1="1445.5" y1="864.4" x2="1445.5" y2="855.4"/><line x1="1445.5" y1="498.6" x2="1445.5" y2="507.6"/><line x1="1575.9" y1="864.4" x2="1575.9" y2="855.4"/><line x1="1575.9" y1="498.6" x2="1575.9" y2="507.6"/><line x1="1706.3" y1="864.4" x2="1706.3" y2="855.4"/><line x1="1706.3" y1="498.6" x2="1706.3" y2="507.6"/><line x1="1836.7" y1="864.4" x2="1836.7" y2="855.4"/><line x1="1836.7" y1="498.6" x2="1836.7" y2="507.6"/><line x1="1967.1" y1="864.4" x2="1967.1" y2="855.4"/><line x1="1967.1" y1="498.6" x2="1967.1" y2="507.6"/><line x1="2097.5" y1="864.4" x2="2097.5" y2="855.4"/><line x1="2097.5" y1="498.6" x2="2097.5" y2="507.6"/><line x1="1441.5" y1="581.3" x2="1450.5" y2="581.3"/><line x1="2207.5" y1="581.3" x2="2198.5" y2="581.3"/><line x1="1441.5" y1="760.4" x2="1450.5" y2="760.4"/><line x1="2207.5" y1="760.4" x2="2198.5" y2="760.4"/></g>
<g fill="#222" font-size="76"><text x="1445.5" y="956" text-anchor="middle">52</text><text x="1575.9" y="956" text-anchor="middle">54</text><text x="1706.3" y="956" text-anchor="middle">56</text><text x="1836.7" y="956" text-anchor="middle">58</text><text x="1967.1" y="956" text-anchor="middle">60</text><text x="2097.5" y="956" text-anchor="middle">62</text><text x="1416.5" y="607.7" text-anchor="end">-2</text><text x="1416.5" y="786.8" text-anchor="end">-4</text></g>
<line x1="1748.5" y1="471.3" x2="1568" y2="288" stroke="#000" stroke-width="3"/>
<polygon points="1548.2,267.4 1591.5,288.5 1569.5,289.5 1566.9,310" fill="#000"/>
<g font-size="86" fill="#000"><text x="1057" y="1651.5">(</text><text x="1083.5" y="1651.5" font-weight="bold" textLength="37" lengthAdjust="spacingAndGlyphs">a</text><text x="1123" y="1651.5">)</text></g>
<clipPath id="cb"><rect x="305" y="1897" width="1940" height="1163"/></clipPath>
<g clip-path="url(#cb)" fill="none" stroke-linejoin="round" stroke-width="6.3">
<path d="M313.0,2707.0 L313.1,2707.2 L313.2,2707.5 L313.3,2707.8 L313.4,2708.2 L313.6,2708.6 L313.8,2709.0 L313.9,2709.5 L314.1,2710.0 L314.3,2710.6 L314.5,2711.2 L314.8,2711.9 L315.0,2712.6 L315.3,2713.4 L315.5,2714.2 L315.8,2715.0 L316.1,2715.9 L316.4,2716.9 L316.8,2717.9 L317.1,2718.9 L317.5,2720.0 L317.8,2721.2 L318.2,2722.5 L318.5,2723.8 L318.9,2725.2 L319.3,2726.7 L319.6,2728.3 L320.0,2730.0 L320.4,2731.7 L320.8,2733.6 L321.2,2735.5 L321.7,2737.4 L322.1,2739.4 L322.5,2741.3 L322.9,2743.3 L323.3,2745.3 L323.7,2747.3 L324.1,2749.3 L324.5,2751.4 L324.9,2753.5 L325.3,2755.6 L325.7,2757.7 L326.1,2759.9 L326.5,2762.1 L326.9,2764.2 L327.3,2766.3 L327.7,2768.4 L328.0,2770.5 L328.4,2772.5 L328.8,2774.5 L329.1,2776.4 L329.4,2778.2 L329.8,2780.1 L330.1,2781.9 L330.4,2783.7 L330.7,2785.5 L331.0,2787.3 L331.3,2789.1 L331.7,2791.0 L332.0,2792.8 L332.3,2794.6 L332.6,2796.5 L333.0,2798.4 L333.3,2800.3 L333.7,2802.3 L334.0,2804.3 L334.4,2806.2 L334.7,2808.2 L335.0,2810.0 L335.4,2811.8 L335.7,2813.6 L336.0,2815.2 L336.3,2816.7 L336.6,2818.1 L336.9,2819.5 L337.2,2820.8 L337.5,2822.1 L337.8,2823.3 L338.1,2824.4 L338.4,2825.4 L338.6,2826.4 L338.9,2827.3 L339.1,2828.0 L339.3,2828.7 L339.4,2829.3 L339.4,2829.3 L339.5,2828.8 L339.7,2828.3 L339.8,2827.9 L340.0,2827.5 L340.2,2826.9 L340.5,2826.2 L340.7,2825.3 L340.9,2824.1 L341.2,2822.5 L341.4,2820.5 L341.6,2818.0 L341.8,2815.0 L342.0,2811.5 L342.2,2807.5 L342.3,2803.1 L342.5,2798.4 L342.7,2793.3 L342.9,2787.9 L343.0,2782.1 L343.2,2776.1 L343.4,2769.9 L343.6,2763.4 L343.7,2756.8 L343.9,2750.0 L344.1,2742.9 L344.2,2735.4 L344.4,2727.5 L344.6,2719.3 L344.8,2710.8 L344.9,2702.2 L345.1,2693.4 L345.3,2684.6 L345.4,2675.8 L345.6,2667.1 L345.8,2658.4 L346.0,2650.0 L346.2,2641.7 L346.4,2633.3 L346.6,2625.0 L346.8,2616.7 L347.0,2608.3 L347.2,2600.0 L347.4,2591.7 L347.6,2583.3 L347.9,2575.0 L348.1,2566.7 L348.3,2558.3 L348.5,2550.0 L348.7,2541.7 L348.9,2533.3 L349.1,2525.0 L349.3,2516.7 L349.6,2508.3 L349.8,2500.0 L350.0,2491.7 L350.2,2483.3 L350.4,2475.0 L350.6,2466.7 L350.9,2458.3 L351.1,2450.0 L351.3,2441.7 L351.6,2433.3 L351.8,2425.0 L352.1,2416.7 L352.3,2408.3 L352.6,2400.0 L352.8,2391.7 L353.1,2383.3 L353.3,2375.0 L353.5,2366.7 L353.8,2358.3 L354.0,2350.0 L354.2,2341.7 L354.4,2333.3 L354.7,2325.0 L354.9,2316.7 L355.1,2308.3 L355.3,2300.0 L355.5,2291.7 L355.7,2283.3 L355.9,2275.0 L356.1,2266.7 L356.3,2258.3 L356.5,2250.0 L356.7,2241.7 L356.9,2233.3 L357.1,2225.0 L357.2,2216.7 L357.4,2208.3 L357.6,2200.0 L357.8,2191.7 L357.9,2183.3 L358.1,2175.0 L358.3,2166.7 L358.4,2158.3 L358.6,2150.0 L358.8,2141.5 L358.9,2132.9 L359.0,2124.1 L359.2,2115.2 L359.3,2106.3 L359.5,2097.5 L359.6,2088.8 L359.7,2080.4 L359.9,2072.2 L360.0,2064.4 L360.1,2056.9 L360.3,2050.0 L360.5,2043.5 L360.6,2037.3 L360.8,2031.4 L361.0,2025.8 L361.1,2020.4 L361.3,2015.4 L361.5,2010.6 L361.7,2006.0 L361.8,2001.7 L362.0,1997.6 L362.1,1993.7 L362.3,1990.0 L362.4,1986.6 L362.6,1983.4 L362.7,1980.5 L362.9,1977.9 L363.0,1975.4 L363.2,1973.2 L363.3,1971.3 L363.4,1969.5 L363.5,1967.9 L363.6,1966.4 L363.7,1965.1 L363.8,1964.0 L363.8,1964.0 L363.9,1964.3 L364.0,1964.6 L364.1,1965.0 L364.3,1965.4 L364.4,1965.8 L364.6,1966.3 L364.8,1966.8 L365.0,1967.4 L365.2,1968.0 L365.5,1968.6 L365.7,1969.3 L366.0,1970.0 L366.3,1970.7 L366.6,1971.5 L366.9,1972.3 L367.3,1973.1 L367.6,1974.0 L368.0,1974.9 L368.4,1975.8 L368.8,1976.8 L369.2,1977.8 L369.6,1978.8 L370.1,1979.9 L370.5,1981.0 L370.9,1982.1 L371.3,1983.2 L371.8,1984.3 L372.2,1985.4 L372.6,1986.6 L373.0,1987.8 L373.5,1989.0 L374.0,1990.4 L374.5,1991.8 L375.1,1993.4 L375.8,1995.1 L376.5,1997.0 L377.3,1999.0 L378.2,2001.2 L379.1,2003.5 L380.1,2006.0 L381.1,2008.5 L382.1,2011.1 L383.2,2013.8 L384.3,2016.6 L385.4,2019.4 L386.4,2022.3 L387.5,2025.1 L388.5,2028.0 L389.5,2030.9 L390.5,2033.9 L391.5,2036.9 L392.5,2039.9 L393.5,2043.0 L394.5,2046.2 L395.5,2049.4 L396.5,2052.6 L397.5,2055.9 L398.5,2059.2 L399.5,2062.6 L400.5,2066.0 L401.5,2069.4 L402.5,2072.9 L403.5,2076.3 L404.4,2079.9 L405.4,2083.4 L406.4,2087.0 L407.4,2090.7 L408.3,2094.4 L409.3,2098.2 L410.3,2102.0 L411.2,2106.0 L412.2,2110.0 L413.2,2114.1 L414.1,2118.4 L415.0,2122.7 L416.0,2127.1 L416.9,2131.6 L417.8,2136.2 L418.8,2140.7 L419.7,2145.4 L420.6,2150.0 L421.6,2154.7 L422.5,2159.3 L423.5,2164.0 L424.5,2168.7 L425.4,2173.5 L426.4,2178.4 L427.4,2183.3 L428.4,2188.2 L429.4,2193.2 L430.4,2198.1 L431.4,2202.9 L432.3,2207.7 L433.3,2212.5 L434.3,2217.0 L435.3,2221.5 L436.3,2225.8 L437.3,2230.0 L438.2,2234.1 L439.2,2238.1 L440.2,2242.1 L441.1,2246.0 L442.1,2249.8 L443.1,2253.6 L444.1,2257.5 L445.0,2261.3 L446.0,2265.1 L447.0,2269.0 L448.0,2272.9 L449.0,2276.8 L450.0,2280.6 L451.0,2284.4 L452.0,2288.3 L453.0,2292.1 L454.0,2295.9 L455.0,2299.7 L456.0,2303.5 L457.0,2307.4 L458.0,2311.2 L459.0,2315.0 L460.0,2318.8 L460.9,2322.6 L461.9,2326.5 L462.8,2330.3 L463.8,2334.1 L464.7,2337.9 L465.7,2341.7 L466.6,2345.5 L467.6,2349.4 L468.6,2353.2 L469.5,2357.1 L470.5,2361.0 L471.5,2364.9 L472.5,2368.8 L473.5,2372.7 L474.5,2376.6 L475.5,2380.5 L476.5,2384.4 L477.5,2388.4 L478.6,2392.4 L479.6,2396.5 L480.6,2400.6 L481.6,2404.7 L482.6,2409.0 L483.6,2413.3 L484.6,2417.7 L485.6,2422.2 L486.6,2426.7 L487.6,2431.3 L488.5,2435.9 L489.5,2440.5 L490.5,2445.2 L491.5,2449.9 L492.5,2454.6 L493.5,2459.3 L494.5,2464.0 L495.5,2468.7 L496.5,2473.5 L497.6,2478.2 L498.6,2483.0 L499.6,2487.8 L500.7,2492.6 L501.7,2497.5 L502.7,2502.3 L503.8,2507.2 L504.8,2512.1 L505.8,2517.1 L506.8,2522.0 L507.8,2527.0 L508.8,2532.0 L509.8,2537.0 L510.7,2542.1 L511.7,2547.2 L512.7,2552.3 L513.6,2557.4 L514.6,2562.6 L515.6,2567.7 L516.5,2572.8 L517.5,2577.9 L518.5,2583.0 L519.5,2588.1 L520.5,2593.1 L521.5,2598.1 L522.4,2603.1 L523.4,2608.1 L524.4,2613.1 L525.4,2618.2 L526.4,2623.2 L527.4,2628.3 L528.4,2633.5 L529.4,2638.7 L530.4,2644.0 L531.4,2649.4 L532.4,2654.8 L533.4,2660.4 L534.4,2666.0 L535.4,2671.6 L536.4,2677.2 L537.4,2682.9 L538.5,2688.6 L539.5,2694.2 L540.5,2699.9 L541.5,2705.5 L542.5,2711.0 L543.5,2716.5 L544.5,2721.9 L545.6,2727.4 L546.6,2732.8 L547.6,2738.2 L548.7,2743.6 L549.7,2748.9 L550.7,2754.3 L551.7,2759.7 L552.7,2765.1 L553.7,2770.6 L554.6,2776.0 L555.5,2781.5 L556.5,2787.2 L557.4,2793.0 L558.3,2798.9 L559.2,2804.7 L560.1,2810.6 L561.0,2816.3 L561.8,2821.9 L562.7,2827.3 L563.5,2832.5 L564.3,2837.4 L565.0,2842.0 L565.7,2846.3 L566.4,2850.4 L567.1,2854.4 L567.7,2858.1 L568.3,2861.7 L568.9,2865.1 L569.5,2868.4 L570.0,2871.4 L570.5,2874.3 L571.0,2877.0 L571.5,2879.6 L572.0,2882.0 L572.4,2884.2 L572.8,2886.1 L573.2,2887.9 L573.6,2889.4 L573.9,2890.8 L574.2,2892.0 L574.5,2893.1 L574.8,2894.1 L575.1,2895.1 L575.4,2896.1 L575.7,2897.0 L576.0,2898.0 L576.3,2899.0 L576.7,2899.9 L577.0,2900.8 L577.3,2901.6 L577.7,2902.3 L578.0,2903.0 L578.3,2903.6 L578.6,2904.2 L578.9,2904.8 L579.1,2905.2 L579.3,2905.6 L579.5,2906.0 L579.5,2906.0 L579.6,2903.5 L579.7,2900.8 L579.8,2897.7 L579.9,2894.2 L580.0,2890.4 L580.1,2886.1 L580.3,2881.4 L580.4,2876.2 L580.6,2870.5 L580.7,2864.3 L580.9,2857.4 L581.0,2850.0 L581.1,2841.9 L581.3,2833.2 L581.4,2823.9 L581.5,2814.0 L581.7,2803.6 L581.8,2792.8 L581.9,2781.5 L582.1,2769.8 L582.2,2757.8 L582.4,2745.4 L582.5,2732.8 L582.7,2720.0 L582.9,2706.6 L583.0,2692.4 L583.2,2677.4 L583.4,2662.0 L583.6,2646.2 L583.8,2630.2 L583.9,2614.2 L584.1,2598.4 L584.3,2582.9 L584.6,2567.9 L584.8,2553.5 L585.0,2540.0 L585.2,2527.3 L585.5,2515.1 L585.7,2503.4 L586.0,2492.1 L586.2,2481.2 L586.5,2470.5 L586.8,2459.9 L587.0,2449.4 L587.3,2439.0 L587.6,2428.4 L588.0,2417.7 L588.3,2406.7 L588.7,2395.6 L589.1,2384.4 L589.5,2373.3 L589.9,2362.1 L590.3,2351.0 L590.8,2339.8 L591.2,2328.7 L591.7,2317.5 L592.1,2306.4 L592.5,2295.2 L592.9,2284.1 L593.3,2273.0 L593.6,2261.8 L594.0,2250.4 L594.3,2238.9 L594.6,2227.4 L594.9,2215.9 L595.1,2204.4 L595.4,2193.0 L595.7,2181.9 L595.9,2170.9 L596.2,2160.2 L596.4,2149.9 L596.7,2140.0 L597.0,2130.2 L597.2,2120.4 L597.5,2110.6 L597.7,2101.0 L598.0,2091.6 L598.2,2082.5 L598.4,2073.8 L598.6,2065.7 L598.8,2058.1 L599.0,2051.2 L599.2,2045.2 L599.3,2040.0 L599.4,2035.8 L599.5,2032.6 L599.5,2030.3 L599.6,2028.7 L599.6,2027.8 L599.6,2027.2 L599.6,2027.1 L599.5,2027.1 L599.5,2027.3 L599.5,2027.4 L599.5,2027.4 L599.5,2027.0 L599.5,2027.0 L599.6,2027.2 L599.6,2027.3 L599.7,2027.3 L599.8,2027.3 L599.9,2027.4 L600.0,2027.5 L600.1,2027.9 L600.3,2028.4 L600.5,2029.3 L600.8,2030.4 L601.1,2032.0 L601.5,2034.0 L602.0,2036.5 L602.5,2039.4 L603.1,2042.7 L603.7,2046.3 L604.3,2050.1 L605.0,2054.3 L605.8,2058.6 L606.6,2063.0 L607.4,2067.5 L608.3,2072.1 L609.2,2076.7 L610.2,2081.2 L611.3,2085.9 L612.4,2090.9 L613.7,2096.1 L615.0,2101.6 L616.3,2107.1 L617.7,2112.6 L619.1,2118.1 L620.5,2123.4 L621.8,2128.5 L623.1,2133.3 L624.2,2137.7 L625.3,2141.6 L626.3,2145.1 L627.2,2148.2 L628.1,2151.0 L628.9,2153.5 L629.6,2155.8 L630.4,2158.0 L631.1,2159.9 L631.8,2161.8 L632.5,2163.6 L633.1,2165.4 L633.8,2167.2 L634.5,2169.0 L635.2,2170.8 L635.9,2172.6 L636.5,2174.2 L637.2,2175.8 L637.8,2177.3 L638.4,2178.8 L639.0,2180.2 L639.6,2181.6 L640.2,2182.9 L640.8,2184.3 L641.4,2185.6 L642.0,2187.0 L642.6,2188.5 L643.1,2190.0 L643.7,2191.7 L644.2,2193.3 L644.8,2195.0 L645.3,2196.6 L645.8,2198.0 L646.4,2199.3 L646.9,2200.4 L647.4,2201.3 L648.0,2201.8 L648.5,2202.0 L649.0,2201.8 L649.6,2201.3 L650.1,2200.4 L650.7,2199.3 L651.3,2198.0 L651.8,2196.6 L652.4,2195.0 L652.9,2193.3 L653.4,2191.7 L654.0,2190.0 L654.5,2188.5 L655.0,2187.0 L655.5,2185.6 L656.0,2184.2 L656.5,2182.7 L656.9,2181.3 L657.4,2179.8 L657.9,2178.2 L658.3,2176.7 L658.8,2175.2 L659.2,2173.6 L659.7,2172.1 L660.1,2170.5 L660.6,2169.0 L661.1,2167.5 L661.5,2165.9 L661.9,2164.4 L662.4,2162.9 L662.8,2161.3 L663.2,2159.8 L663.7,2158.2 L664.1,2156.6 L664.6,2155.0 L665.1,2153.4 L665.7,2151.7 L666.3,2150.0 L666.9,2148.4 L667.5,2146.8 L668.1,2145.3 L668.7,2143.8 L669.4,2142.3 L670.0,2140.7 L670.8,2139.1 L671.6,2137.3 L672.4,2135.3 L673.4,2133.1 L674.4,2130.7 L675.6,2128.0 L676.9,2125.0 L678.3,2121.7 L679.9,2118.2 L681.5,2114.6 L683.2,2110.7 L685.0,2106.7 L686.8,2102.6 L688.6,2098.4 L690.4,2094.1 L692.2,2089.8 L694.0,2085.5 L695.7,2081.2 L697.4,2076.8 L699.0,2072.3 L700.7,2067.6 L702.4,2062.8 L704.1,2058.0 L705.7,2053.1 L707.4,2048.2 L709.1,2043.5 L710.8,2038.8 L712.4,2034.3 L714.1,2029.9 L715.8,2025.8 L717.5,2021.8 L719.3,2017.9 L721.2,2013.9 L723.1,2010.1 L725.0,2006.4 L726.8,2002.8 L728.6,1999.3 L730.4,1996.1 L732.0,1993.1 L733.5,1990.3 L734.8,1987.8 L736.0,1985.6 L737.0,1983.7 L737.8,1982.2 L738.5,1981.0 L739.1,1980.1 L739.5,1979.3 L739.9,1978.8 L740.2,1978.4 L740.5,1978.1 L740.7,1977.8 L740.9,1977.6 L741.1,1977.3 L741.3,1977.0 L741.3,1977.0 L741.6,1980.8 L741.9,1985.1 L742.3,1989.9 L742.8,1995.3 L743.3,2001.3 L743.8,2007.9 L744.3,2015.2 L744.8,2023.2 L745.4,2032.0 L745.9,2041.6 L746.4,2052.0 L746.8,2063.3 L747.2,2075.7 L747.6,2089.3 L748.0,2103.9 L748.4,2119.4 L748.7,2135.7 L749.1,2152.6 L749.5,2170.0 L749.8,2187.7 L750.2,2205.7 L750.6,2223.8 L750.9,2241.8 L751.3,2259.6 L751.7,2277.5 L752.1,2295.8 L752.4,2314.4 L752.8,2333.4 L753.2,2352.5 L753.6,2371.8 L754.0,2391.2 L754.4,2410.7 L754.7,2430.2 L755.1,2449.6 L755.5,2468.9 L755.9,2488.0 L756.3,2507.2 L756.7,2526.6 L757.1,2546.2 L757.4,2565.8 L757.8,2585.4 L758.2,2605.0 L758.6,2624.4 L759.0,2643.6 L759.4,2662.4 L759.7,2680.9 L760.1,2698.9 L760.5,2716.3 L760.9,2733.4 L761.3,2750.4 L761.7,2767.3 L762.1,2783.9 L762.5,2800.2 L762.9,2816.1 L763.3,2831.5 L763.7,2846.4 L764.0,2860.7 L764.4,2874.2 L764.7,2887.0 L765.0,2898.9 L765.3,2910.0 L765.5,2920.6 L765.8,2930.5 L766.0,2939.8 L766.3,2948.4 L766.5,2956.5 L766.7,2963.9 L766.9,2970.6 L767.0,2976.7 L767.2,2982.2 L767.3,2987.0 L767.4,2991.2 L767.4,2991.2 L767.9,2990.8 L768.6,2990.2 L769.3,2989.6 L770.2,2988.9 L771.1,2988.2 L772.1,2987.4 L773.1,2986.5 L774.1,2985.7 L775.2,2984.8 L776.2,2983.9 L777.2,2983.0 L778.2,2982.1 L779.1,2981.2 L780.1,2980.3 L781.0,2979.3 L781.9,2978.3 L782.9,2977.2 L783.8,2976.2 L784.7,2975.2 L785.7,2974.2 L786.7,2973.2 L787.7,2972.2 L788.7,2971.3 L789.8,2970.5 L790.9,2969.7 L792.0,2969.0 L793.2,2968.3 L794.4,2967.6 L795.6,2966.9 L796.8,2966.3 L798.0,2965.7 L799.2,2965.1 L800.4,2964.6 L801.6,2964.0 L802.8,2963.5 L803.9,2963.0 L805.0,2962.5 L806.1,2962.0 L807.1,2961.6 L808.2,2961.1 L809.2,2960.7 L810.2,2960.3 L811.2,2959.9 L812.2,2959.6 L813.2,2959.2 L814.2,2959.0 L815.3,2958.7 L816.3,2958.5 L817.3,2958.3 L818.4,2958.2 L819.4,2958.1 L820.5,2958.1 L821.6,2958.1 L822.6,2958.1 L823.7,2958.1 L824.7,2958.1 L825.8,2958.2 L826.8,2958.3 L827.8,2958.4 L828.8,2958.5 L829.8,2958.6 L830.8,2958.7 L831.7,2958.8 L832.7,2959.0 L833.6,2959.1 L834.6,2959.3 L835.5,2959.5 L836.4,2959.7 L837.3,2959.9 L838.2,2960.2 L839.1,2960.6 L840.0,2961.0 L840.8,2961.5 L841.7,2962.0 L842.5,2962.6 L843.3,2963.2 L844.1,2963.8 L844.8,2964.5 L845.6,2965.2 L846.4,2966.0 L847.1,2966.7 L847.9,2967.4 L848.7,2968.1 L849.5,2968.8 L850.3,2969.5 L851.3,2970.3 L852.2,2971.0 L853.2,2971.8 L854.1,2972.6 L855.1,2973.4 L856.0,2974.2 L856.9,2974.9 L857.7,2975.6 L858.4,2976.2 L859.0,2976.7 L859.5,2977.1 L859.5,2977.1 L859.6,2975.9 L859.8,2974.4 L860.1,2972.8 L860.3,2970.9 L860.6,2968.9 L860.9,2966.7 L861.2,2964.3 L861.5,2961.7 L861.8,2959.0 L862.1,2956.2 L862.3,2953.1 L862.5,2950.0 L862.7,2946.6 L862.8,2943.0 L863.0,2939.1 L863.1,2935.0 L863.2,2930.8 L863.3,2926.4 L863.4,2922.0 L863.5,2917.5 L863.6,2913.0 L863.7,2908.6 L863.8,2904.2 L864.0,2900.0 L864.2,2895.9 L864.4,2892.0 L864.6,2888.2 L864.8,2884.4 L865.0,2880.7 L865.3,2876.9 L865.5,2873.0 L865.7,2868.9 L865.9,2864.6 L866.1,2860.1 L866.3,2855.2 L866.5,2850.0 L866.7,2844.4 L866.8,2838.3 L866.9,2831.9 L867.0,2825.2 L867.2,2818.3 L867.3,2811.2 L867.4,2804.1 L867.4,2797.0 L867.5,2790.0 L867.6,2783.1 L867.7,2776.4 L867.8,2770.0 L867.9,2763.9 L867.9,2758.1 L868.0,2752.5 L868.1,2747.0 L868.1,2741.6 L868.2,2736.2 L868.2,2730.8 L868.3,2725.2 L868.3,2719.4 L868.4,2713.3 L868.5,2706.9 L868.6,2700.0 L868.7,2692.7 L868.8,2685.1 L869.0,2677.1 L869.1,2668.9 L869.3,2660.5 L869.4,2651.9 L869.6,2643.2 L869.8,2634.4 L870.0,2625.7 L870.1,2617.0 L870.3,2608.4 L870.5,2600.0 L870.7,2591.7 L870.9,2583.3 L871.1,2575.0 L871.3,2566.7 L871.5,2558.3 L871.7,2550.0 L871.9,2541.7 L872.1,2533.3 L872.3,2525.0 L872.6,2516.7 L872.8,2508.3 L873.0,2500.0 L873.2,2491.7 L873.5,2483.3 L873.7,2475.0 L873.9,2466.7 L874.2,2458.3 L874.4,2450.0 L874.6,2441.7 L874.9,2433.3 L875.1,2425.0 L875.3,2416.7 L875.6,2408.3 L875.8,2400.0 L876.0,2391.7 L876.2,2383.3 L876.5,2375.0 L876.7,2366.7 L876.9,2358.3 L877.1,2350.0 L877.3,2341.7 L877.5,2333.3 L877.7,2325.0 L877.9,2316.7 L878.1,2308.3 L878.3,2300.0 L878.5,2291.7 L878.7,2283.3 L878.8,2275.0 L879.0,2266.7 L879.2,2258.3 L879.3,2250.0 L879.5,2241.7 L879.7,2233.3 L879.8,2225.0 L880.0,2216.7 L880.1,2208.3 L880.3,2200.0 L880.5,2191.6 L880.6,2183.0 L880.8,2174.3 L880.9,2165.6 L881.0,2156.8 L881.2,2148.1 L881.3,2139.5 L881.5,2131.1 L881.6,2122.9 L881.7,2114.9 L881.9,2107.3 L882.0,2100.0 L882.1,2093.0 L882.2,2086.2 L882.4,2079.6 L882.5,2073.3 L882.6,2067.1 L882.7,2061.1 L882.8,2055.4 L882.9,2049.9 L883.0,2044.5 L883.1,2039.5 L883.2,2034.6 L883.3,2030.0 L883.4,2025.6 L883.5,2021.6 L883.6,2017.7 L883.7,2014.1 L883.8,2010.8 L883.8,2007.6 L883.9,2004.7 L884.0,2001.9 L884.1,1999.2 L884.2,1996.7 L884.3,1994.3 L884.4,1992.0 L884.5,1989.8 L884.6,1987.9 L884.8,1986.1 L884.9,1984.4 L885.0,1983.0 L885.2,1981.6 L885.3,1980.4 L885.4,1979.3 L885.5,1978.4 L885.6,1977.5 L885.7,1976.7 L885.8,1976.0 L885.8,1976.0 L886.0,1976.4 L886.1,1976.9 L886.3,1977.4 L886.6,1978.0 L886.9,1978.7 L887.1,1979.4 L887.4,1980.2 L887.7,1980.9 L888.0,1981.7 L888.4,1982.5 L888.7,1983.3 L889.0,1984.0 L889.3,1984.7 L889.6,1985.3 L889.9,1986.0 L890.2,1986.6 L890.5,1987.2 L890.8,1987.9 L891.2,1988.6 L891.5,1989.3 L891.9,1990.1 L892.3,1991.0 L892.8,1992.1 L893.3,1993.2 L893.8,1994.5 L894.4,1995.8 L895.0,1997.2 L895.6,1998.8 L896.3,2000.4 L897.0,2002.0 L897.7,2003.7 L898.4,2005.5 L899.2,2007.3 L900.0,2009.2 L900.8,2011.1 L901.6,2013.0 L902.4,2015.0 L903.3,2017.0 L904.2,2019.1 L905.0,2021.3 L905.9,2023.5 L906.9,2025.8 L907.8,2028.1 L908.8,2030.4 L909.9,2032.7 L910.9,2035.0 L912.0,2037.3 L913.2,2039.6 L914.4,2041.9 L915.6,2044.3 L916.9,2046.7 L918.2,2049.1 L919.6,2051.5 L921.0,2053.9 L922.4,2056.3 L923.8,2058.7 L925.3,2061.1 L926.8,2063.4 L928.3,2065.6 L929.8,2067.8 L931.3,2069.9 L932.9,2072.0 L934.5,2074.0 L936.1,2075.9 L937.7,2077.8 L939.3,2079.7 L941.0,2081.6 L942.7,2083.5 L944.4,2085.3 L946.2,2087.2 L947.9,2089.1 L949.7,2091.0 L951.5,2092.9 L953.4,2094.9 L955.3,2096.8 L957.2,2098.8 L959.1,2100.7 L961.1,2102.7 L963.1,2104.6 L965.0,2106.6 L967.0,2108.5 L969.0,2110.4 L971.0,2112.3 L972.9,2114.2 L974.8,2116.1 L976.7,2117.9 L978.7,2119.7 L980.6,2121.5 L982.5,2123.2 L984.4,2125.0 L986.3,2126.8 L988.2,2128.5 L990.2,2130.3 L992.1,2132.1 L994.1,2133.9 L996.1,2135.8 L998.1,2137.7 L1000.2,2139.6 L1002.2,2141.4 L1004.3,2143.4 L1006.4,2145.3 L1008.5,2147.2 L1010.5,2149.1 L1012.6,2151.1 L1014.7,2153.0 L1016.8,2155.0 L1018.9,2157.0 L1021.0,2159.0 L1023.1,2161.0 L1025.2,2163.1 L1027.2,2165.2 L1029.3,2167.3 L1031.4,2169.4 L1033.5,2171.5 L1035.6,2173.6 L1037.6,2175.7 L1039.7,2177.8 L1041.8,2179.9 L1043.8,2181.9 L1045.8,2183.9 L1047.8,2185.9 L1049.8,2187.9 L1051.8,2189.9 L1053.9,2191.9 L1055.9,2193.9 L1057.9,2195.9 L1059.8,2197.8 L1061.8,2199.6 L1063.7,2201.4 L1065.5,2203.0 L1067.3,2204.6 L1069.1,2206.0 L1070.8,2207.3 L1072.4,2208.5 L1074.0,2209.5 L1075.6,2210.5 L1077.1,2211.4 L1078.6,2212.3 L1080.1,2213.0 L1081.5,2213.8 L1083.0,2214.4 L1084.4,2215.0 L1085.9,2215.6 L1087.3,2216.2 L1088.7,2216.7 L1090.2,2217.2 L1091.6,2217.6 L1093.0,2218.0 L1094.3,2218.3 L1095.7,2218.6 L1097.1,2218.8 L1098.4,2219.0 L1099.8,2219.2 L1101.2,2219.3 L1102.5,2219.4 L1103.9,2219.5 L1105.3,2219.6 L1106.6,2219.6 L1108.0,2219.7 L1109.4,2219.7 L1110.7,2219.7 L1112.1,2219.6 L1113.5,2219.5 L1114.8,2219.4 L1116.2,2219.2 L1117.6,2218.9 L1119.1,2218.6 L1120.5,2218.2 L1121.9,2217.7 L1123.3,2217.2 L1124.7,2216.7 L1126.1,2216.0 L1127.5,2215.4 L1129.0,2214.6 L1130.4,2213.8 L1132.0,2213.0 L1133.5,2212.0 L1135.2,2211.0 L1136.9,2210.0 L1138.7,2208.8 L1140.6,2207.5 L1142.7,2206.1 L1144.8,2204.5 L1147.0,2202.8 L1149.2,2201.0 L1151.5,2199.2 L1153.8,2197.4 L1156.2,2195.7 L1158.5,2193.9 L1160.8,2192.3 L1163.0,2190.8 L1165.2,2189.4 L1167.4,2188.1 L1169.6,2186.8 L1171.8,2185.5 L1174.0,2184.3 L1176.3,2183.1 L1178.5,2182.0 L1180.6,2181.0 L1182.7,2180.0 L1184.8,2179.2 L1186.7,2178.6 L1188.6,2178.1 L1190.3,2177.8 L1191.9,2177.7 L1193.4,2177.7 L1194.8,2177.9 L1196.1,2178.2 L1197.3,2178.7 L1198.5,2179.2 L1199.6,2179.9 L1200.7,2180.6 L1201.9,2181.5 L1203.0,2182.4 L1204.2,2183.3 L1205.4,2184.3 L1206.7,2185.3 L1207.9,2186.5 L1209.2,2187.6 L1210.4,2188.9 L1211.7,2190.3 L1213.0,2191.7 L1214.2,2193.2 L1215.5,2194.8 L1216.7,2196.4 L1218.0,2198.2 L1219.2,2200.1 L1220.5,2202.0 L1221.8,2204.0 L1223.0,2206.2 L1224.3,2208.4 L1225.5,2210.7 L1226.8,2213.1 L1228.0,2215.6 L1229.3,2218.2 L1230.6,2220.9 L1231.8,2223.6 L1233.1,2226.3 L1234.3,2229.2 L1235.6,2232.1 L1236.8,2235.1 L1238.1,2238.1 L1239.3,2241.1 L1240.4,2244.2 L1241.6,2247.4 L1242.8,2250.7 L1244.1,2254.0 L1245.3,2257.5 L1246.6,2261.0 L1247.9,2264.7 L1249.3,2268.5 L1250.7,2272.4 L1252.2,2276.5 L1253.7,2280.7 L1255.3,2285.1 L1256.8,2289.6 L1258.5,2294.2 L1260.1,2298.9 L1261.8,2303.7 L1263.5,2308.5 L1265.3,2313.3 L1267.1,2318.1 L1268.9,2322.9 L1270.8,2327.7 L1272.8,2332.5 L1274.8,2337.5 L1277.0,2342.5 L1279.2,2347.6 L1281.4,2352.7 L1283.7,2357.8 L1286.0,2362.8 L1288.2,2367.8 L1290.3,2372.6 L1292.3,2377.3 L1294.2,2381.8 L1296.0,2386.0 L1297.6,2389.9 L1299.0,2393.6 L1300.4,2397.0 L1301.6,2400.2 L1302.8,2403.3 L1303.9,2406.4 L1305.0,2409.4 L1306.1,2412.5 L1307.2,2415.7 L1308.4,2419.0 L1309.7,2422.6 L1311.1,2426.4 L1312.6,2430.5 L1314.2,2434.8 L1315.8,2439.3 L1317.4,2443.9 L1319.1,2448.6 L1320.8,2453.4 L1322.6,2458.3 L1324.3,2463.1 L1326.1,2467.9 L1327.8,2472.6 L1329.5,2477.2 L1331.2,2481.7 L1332.9,2486.1 L1334.5,2490.3 L1336.1,2494.5 L1337.7,2498.6 L1339.3,2502.8 L1340.9,2506.8 L1342.6,2510.9 L1344.2,2515.0 L1345.9,2519.2 L1347.7,2523.4 L1349.4,2527.6 L1351.3,2532.0 L1353.2,2536.5 L1355.2,2541.1 L1357.2,2545.7 L1359.3,2550.5 L1361.4,2555.2 L1363.6,2560.0 L1365.7,2564.8 L1367.9,2569.5 L1370.1,2574.1 L1372.2,2578.7 L1374.4,2583.1 L1376.5,2587.4 L1378.6,2591.5 L1380.7,2595.6 L1382.8,2599.6 L1384.9,2603.4 L1387.0,2607.2 L1389.1,2611.0 L1391.1,2614.7 L1393.2,2618.4 L1395.3,2622.0 L1397.4,2625.6 L1399.5,2629.1 L1401.6,2632.7 L1403.7,2636.3 L1405.9,2639.9 L1408.2,2643.5 L1410.4,2647.1 L1412.7,2650.7 L1414.9,2654.2 L1417.1,2657.6 L1419.3,2661.0 L1421.3,2664.2 L1423.3,2667.3 L1425.1,2670.2 L1426.8,2672.9 L1428.3,2675.4 L1429.6,2677.6 L1430.8,2679.7 L1431.9,2681.5 L1432.8,2683.3 L1433.8,2685.0 L1434.7,2686.6 L1435.6,2688.3 L1436.5,2689.9 L1437.6,2691.7 L1438.7,2693.6 L1440.0,2695.7 L1441.4,2697.9 L1442.9,2700.2 L1444.4,2702.6 L1446.1,2705.1 L1447.7,2707.6 L1449.4,2710.1 L1451.1,2712.7 L1452.8,2715.2 L1454.5,2717.7 L1456.3,2720.2 L1457.9,2722.7 L1459.6,2725.1 L1461.2,2727.4 L1462.8,2729.7 L1464.4,2732.0 L1466.0,2734.3 L1467.6,2736.5 L1469.2,2738.7 L1470.8,2741.0 L1472.4,2743.2 L1474.1,2745.5 L1475.8,2747.8 L1477.5,2750.2 L1479.3,2752.6 L1481.1,2755.1 L1483.0,2757.6 L1484.8,2760.2 L1486.7,2762.8 L1488.6,2765.4 L1490.6,2768.0 L1492.5,2770.7 L1494.5,2773.4 L1496.6,2776.1 L1498.6,2778.7 L1500.7,2781.4 L1502.8,2784.0 L1505.0,2786.6 L1507.2,2789.3 L1509.4,2792.0 L1511.7,2794.6 L1514.0,2797.3 L1516.3,2800.0 L1518.6,2802.7 L1521.0,2805.3 L1523.3,2807.9 L1525.7,2810.5 L1528.0,2813.0 L1530.3,2815.5 L1532.6,2817.9 L1534.9,2820.3 L1537.2,2822.7 L1539.5,2825.0 L1541.8,2827.3 L1544.0,2829.6 L1546.3,2831.8 L1548.6,2834.1 L1550.9,2836.3 L1553.2,2838.5 L1555.5,2840.7 L1557.8,2842.9 L1560.1,2845.1 L1562.4,2847.3 L1564.7,2849.5 L1567.0,2851.6 L1569.3,2853.8 L1571.5,2855.9 L1573.8,2858.1 L1576.1,2860.2 L1578.4,2862.3 L1580.7,2864.4 L1583.0,2866.4 L1585.3,2868.5 L1587.6,2870.5 L1589.8,2872.5 L1592.1,2874.5 L1594.3,2876.5 L1596.6,2878.4 L1598.8,2880.4 L1601.1,2882.3 L1603.3,2884.2 L1605.7,2886.2 L1608.0,2888.1 L1610.4,2890.0 L1612.8,2892.0 L1615.3,2894.0 L1617.8,2896.0 L1620.4,2898.0 L1623.0,2900.0 L1625.6,2902.0 L1628.3,2904.0 L1630.9,2906.0 L1633.6,2908.0 L1636.3,2910.0 L1638.9,2911.9 L1641.6,2913.8 L1644.2,2915.6 L1646.8,2917.4 L1649.3,2919.1 L1651.9,2920.7 L1654.4,2922.3 L1656.9,2923.8 L1659.4,2925.4 L1662.0,2927.0 L1664.6,2928.5 L1667.2,2930.1 L1669.9,2931.7 L1672.7,2933.4 L1675.6,2935.2 L1678.6,2937.0 L1681.7,2938.9 L1684.9,2940.9 L1688.2,2942.9 L1691.6,2945.0 L1695.0,2947.0 L1698.3,2949.0 L1701.7,2951.1 L1705.1,2953.1 L1708.4,2955.1 L1711.6,2957.0 L1714.8,2958.8 L1718.0,2960.6 L1721.2,2962.4 L1724.5,2964.2 L1727.8,2966.0 L1731.0,2967.8 L1734.3,2969.5 L1737.4,2971.1 L1740.3,2972.8 L1743.1,2974.3 L1745.8,2975.8 L1748.1,2977.1 L1750.2,2978.4 L1752.0,2979.6 L1753.6,2980.7 L1754.9,2981.7 L1756.1,2982.7 L1757.1,2983.6 L1758.0,2984.4 L1758.7,2985.2 L1759.3,2985.9 L1759.9,2986.5 L1760.4,2987.1 L1760.8,2987.6 L1761.3,2988.0 L1761.3,2988.0 L1761.6,2969.6 L1761.9,2945.7 L1762.3,2917.2 L1762.7,2885.2 L1763.2,2850.7 L1763.7,2814.6 L1764.2,2777.9 L1764.7,2741.7 L1765.3,2706.9 L1765.8,2674.5 L1766.4,2645.5 L1766.9,2621.0 L1767.4,2600.5 L1768.0,2582.8 L1768.6,2567.4 L1769.2,2553.8 L1769.8,2541.7 L1770.4,2530.5 L1771.0,2519.9 L1771.6,2509.5 L1772.2,2498.7 L1772.8,2487.1 L1773.3,2474.4 L1773.8,2460.0 L1774.3,2444.6 L1774.7,2429.0 L1775.1,2413.2 L1775.5,2397.2 L1775.8,2380.8 L1776.2,2364.1 L1776.5,2346.9 L1776.8,2329.3 L1777.2,2311.0 L1777.6,2292.2 L1778.0,2272.8 L1778.4,2252.6 L1778.9,2230.6 L1779.4,2206.2 L1779.9,2180.0 L1780.5,2152.6 L1781.1,2124.6 L1781.7,2096.8 L1782.3,2069.7 L1782.8,2043.9 L1783.3,2020.1 L1783.7,1998.9 L1784.1,1981.0 L1784.4,1966.9 L1784.4,1966.9 L1785.4,1966.9 L1786.5,1966.9 L1787.8,1966.8 L1789.3,1966.7 L1790.9,1966.6 L1792.7,1966.6 L1794.5,1966.6 L1796.5,1966.7 L1798.5,1966.8 L1800.6,1967.1 L1802.8,1967.6 L1805.0,1968.2 L1807.3,1969.0 L1809.7,1970.0 L1812.3,1971.1 L1815.0,1972.4 L1817.7,1973.8 L1820.6,1975.2 L1823.4,1976.7 L1826.3,1978.2 L1829.2,1979.7 L1832.0,1981.2 L1834.8,1982.6 L1837.6,1983.9 L1840.3,1985.2 L1843.0,1986.4 L1845.7,1987.6 L1848.4,1988.9 L1851.1,1990.1 L1853.9,1991.3 L1856.6,1992.5 L1859.3,1993.7 L1862.0,1994.9 L1864.7,1996.1 L1867.4,1997.3 L1870.1,1998.5 L1872.8,1999.7 L1875.5,2000.9 L1878.2,2002.0 L1880.9,2003.2 L1883.6,2004.3 L1886.3,2005.5 L1889.1,2006.6 L1891.8,2007.8 L1894.5,2008.9 L1897.2,2010.0 L1899.9,2011.1 L1902.6,2012.2 L1905.3,2013.3 L1908.0,2014.3 L1910.7,2015.4 L1913.4,2016.4 L1916.1,2017.4 L1918.8,2018.4 L1921.6,2019.5 L1924.3,2020.5 L1927.0,2021.5 L1929.7,2022.5 L1932.4,2023.5 L1935.1,2024.6 L1937.8,2025.7 L1940.5,2026.8 L1943.2,2027.8 L1945.9,2028.9 L1948.6,2030.1 L1951.3,2031.2 L1954.1,2032.3 L1956.8,2033.4 L1959.5,2034.4 L1962.2,2035.5 L1964.9,2036.6 L1967.6,2037.6 L1970.3,2038.6 L1973.0,2039.6 L1975.7,2040.6 L1978.5,2041.5 L1981.2,2042.5 L1983.9,2043.4 L1986.6,2044.3 L1989.3,2045.3 L1992.1,2046.2 L1994.8,2047.1 L1997.5,2048.1 L2000.2,2049.0 L2002.9,2049.9 L2005.6,2050.9 L2008.3,2051.8 L2011.0,2052.8 L2013.7,2053.7 L2016.5,2054.7 L2019.2,2055.6 L2021.9,2056.5 L2024.6,2057.5 L2027.3,2058.4 L2030.0,2059.4 L2032.7,2060.3 L2035.4,2061.2 L2038.1,2062.2 L2040.8,2063.2 L2043.5,2064.1 L2046.2,2065.1 L2048.9,2066.0 L2051.7,2067.0 L2054.4,2067.9 L2057.1,2068.9 L2059.8,2069.8 L2062.5,2070.8 L2065.2,2071.7 L2067.9,2072.6 L2070.6,2073.5 L2073.3,2074.4 L2076.0,2075.3 L2078.7,2076.2 L2081.4,2077.1 L2084.2,2078.0 L2086.9,2078.9 L2089.6,2079.8 L2092.3,2080.6 L2095.0,2081.5 L2097.7,2082.4 L2100.4,2083.3 L2103.1,2084.2 L2105.8,2085.1 L2108.5,2085.9 L2111.2,2086.8 L2113.9,2087.7 L2116.7,2088.6 L2119.4,2089.5 L2122.1,2090.3 L2124.8,2091.2 L2127.5,2092.1 L2130.2,2092.9 L2132.9,2093.7 L2135.6,2094.6 L2138.3,2095.4 L2141.1,2096.2 L2143.8,2097.0 L2146.5,2097.8 L2149.2,2098.6 L2151.9,2099.4 L2154.7,2100.2 L2157.4,2101.0 L2160.1,2101.8 L2162.8,2102.6 L2165.5,2103.4 L2168.0,2104.2 L2170.5,2105.0 L2173.0,2105.8 L2175.5,2106.6 L2178.0,2107.3 L2180.5,2108.1 L2183.2,2109.0 L2186.0,2109.8 L2188.9,2110.6 L2192.0,2111.5 L2195.3,2112.4 L2199.0,2113.4 L2203.2,2114.4 L2207.7,2115.5 L2212.4,2116.7 L2217.3,2117.9 L2222.2,2119.1 L2226.9,2120.2 L2231.5,2121.3 L2235.7,2122.3 L2239.4,2123.2 L2242.5,2123.9 L2245.0,2124.5" stroke="#ff0000" stroke-dasharray="17.2 2.9 8.9 3.1"/>
<path d="M313.0,2707.0 L313.1,2707.2 L313.2,2707.5 L313.3,2707.8 L313.4,2708.2 L313.6,2708.6 L313.8,2709.0 L313.9,2709.5 L314.1,2710.0 L314.3,2710.6 L314.5,2711.2 L314.8,2711.9 L315.0,2712.6 L315.3,2713.4 L315.5,2714.2 L315.8,2715.0 L316.1,2715.9 L316.4,2716.9 L316.8,2717.9 L317.1,2718.9 L317.5,2720.0 L317.8,2721.2 L318.2,2722.5 L318.5,2723.8 L318.9,2725.2 L319.3,2726.7 L319.6,2728.3 L320.0,2730.0 L320.4,2731.7 L320.8,2733.6 L321.2,2735.5 L321.7,2737.4 L322.1,2739.4 L322.5,2741.3 L322.9,2743.3 L323.3,2745.3 L323.7,2747.3 L324.1,2749.3 L324.5,2751.4 L324.9,2753.5 L325.3,2755.6 L325.7,2757.7 L326.1,2759.9 L326.5,2762.1 L326.9,2764.2 L327.3,2766.3 L327.7,2768.4 L328.0,2770.5 L328.4,2772.5 L328.8,2774.5 L329.1,2776.4 L329.4,2778.2 L329.8,2780.1 L330.1,2781.9 L330.4,2783.7 L330.7,2785.5 L331.0,2787.3 L331.3,2789.1 L331.7,2791.0 L332.0,2792.8 L332.3,2794.6 L332.6,2796.5 L333.0,2798.4 L333.3,2800.3 L333.7,2802.3 L334.0,2804.3 L334.4,2806.2 L334.7,2808.2 L335.0,2810.0 L335.4,2811.8 L335.7,2813.6 L336.0,2815.2 L336.3,2816.7 L336.6,2818.1 L336.9,2819.5 L337.2,2820.8 L337.5,2822.1 L337.8,2823.3 L338.1,2824.4 L338.4,2825.4 L338.6,2826.4 L338.9,2827.3 L339.1,2828.0 L339.3,2828.7 L339.4,2829.3 L339.4,2829.3 L339.5,2828.8 L339.7,2828.3 L339.8,2827.9 L340.0,2827.5 L340.2,2826.9 L340.5,2826.2 L340.7,2825.3 L340.9,2824.1 L341.2,2822.5 L341.4,2820.5 L341.6,2818.0 L341.8,2815.0 L342.0,2811.5 L342.2,2807.5 L342.3,2803.1 L342.5,2798.4 L342.7,2793.3 L342.9,2787.9 L343.0,2782.1 L343.2,2776.1 L343.4,2769.9 L343.6,2763.4 L343.7,2756.8 L343.9,2750.0 L344.1,2742.9 L344.2,2735.4 L344.4,2727.5 L344.6,2719.3 L344.8,2710.8 L344.9,2702.2 L345.1,2693.4 L345.3,2684.6 L345.4,2675.8 L345.6,2667.1 L345.8,2658.4 L346.0,2650.0 L346.2,2641.7 L346.4,2633.3 L346.6,2625.0 L346.8,2616.7 L347.0,2608.3 L347.2,2600.0 L347.4,2591.7 L347.6,2583.3 L347.9,2575.0 L348.1,2566.7 L348.3,2558.3 L348.5,2550.0 L348.7,2541.7 L348.9,2533.3 L349.1,2525.0 L349.3,2516.7 L349.6,2508.3 L349.8,2500.0 L350.0,2491.7 L350.2,2483.3 L350.4,2475.0 L350.6,2466.7 L350.9,2458.3 L351.1,2450.0 L351.3,2441.7 L351.6,2433.3 L351.8,2425.0 L352.1,2416.7 L352.3,2408.3 L352.6,2400.0 L352.8,2391.7 L353.1,2383.3 L353.3,2375.0 L353.5,2366.7 L353.8,2358.3 L354.0,2350.0 L354.2,2341.7 L354.4,2333.3 L354.7,2325.0 L354.9,2316.7 L355.1,2308.3 L355.3,2300.0 L355.5,2291.7 L355.7,2283.3 L355.9,2275.0 L356.1,2266.7 L356.3,2258.3 L356.5,2250.0 L356.7,2241.7 L356.9,2233.3 L357.1,2225.0 L357.2,2216.7 L357.4,2208.3 L357.6,2200.0 L357.8,2191.7 L357.9,2183.3 L358.1,2175.0 L358.3,2166.7 L358.4,2158.3 L358.6,2150.0 L358.8,2141.5 L358.9,2132.9 L359.0,2124.1 L359.2,2115.2 L359.3,2106.3 L359.5,2097.5 L359.6,2088.8 L359.7,2080.4 L359.9,2072.2 L360.0,2064.4 L360.1,2056.9 L360.3,2050.0 L360.5,2043.5 L360.6,2037.3 L360.8,2031.4 L361.0,2025.8 L361.1,2020.4 L361.3,2015.4 L361.5,2010.6 L361.7,2006.0 L361.8,2001.7 L362.0,1997.6 L362.1,1993.7 L362.3,1990.0 L362.4,1986.6 L362.6,1983.4 L362.7,1980.5 L362.9,1977.9 L363.0,1975.4 L363.2,1973.2 L363.3,1971.3 L363.4,1969.5 L363.5,1967.9 L363.6,1966.4 L363.7,1965.1 L363.8,1964.0 L363.8,1964.0 L363.9,1964.3 L364.0,1964.6 L364.1,1965.0 L364.3,1965.4 L364.4,1965.8 L364.6,1966.3 L364.8,1966.8 L365.0,1967.4 L365.2,1968.0 L365.5,1968.6 L365.7,1969.3 L366.0,1970.0 L366.3,1970.7 L366.6,1971.5 L366.9,1972.3 L367.3,1973.1 L367.6,1974.0 L368.0,1974.9 L368.4,1975.8 L368.8,1976.8 L369.2,1977.8 L369.6,1978.8 L370.1,1979.9 L370.5,1981.0 L370.9,1982.1 L371.3,1983.2 L371.8,1984.3 L372.2,1985.4 L372.6,1986.6 L373.0,1987.8 L373.5,1989.0 L374.0,1990.4 L374.5,1991.8 L375.1,1993.4 L375.8,1995.1 L376.5,1997.0 L377.3,1999.0 L378.2,2001.2 L379.1,2003.5 L380.1,2006.0 L381.1,2008.5 L382.1,2011.1 L383.2,2013.8 L384.3,2016.6 L385.4,2019.4 L386.4,2022.3 L387.5,2025.1 L388.5,2028.0 L389.5,2030.9 L390.5,2033.9 L391.5,2036.9 L392.5,2039.9 L393.5,2043.0 L394.5,2046.2 L395.5,2049.4 L396.5,2052.6 L397.5,2055.9 L398.5,2059.2 L399.5,2062.6 L400.5,2066.0 L401.5,2069.4 L402.5,2072.9 L403.5,2076.3 L404.4,2079.9 L405.4,2083.4 L406.4,2087.0 L407.4,2090.7 L408.3,2094.4 L409.3,2098.2 L410.3,2102.0 L411.2,2106.0 L412.2,2110.0 L413.2,2114.1 L414.1,2118.4 L415.0,2122.7 L416.0,2127.1 L416.9,2131.6 L417.8,2136.2 L418.8,2140.7 L419.7,2145.4 L420.6,2150.0 L421.6,2154.7 L422.5,2159.3 L423.5,2164.0 L424.5,2168.7 L425.4,2173.5 L426.4,2178.4 L427.4,2183.3 L428.4,2188.2 L429.4,2193.2 L430.4,2198.1 L431.4,2202.9 L432.3,2207.7 L433.3,2212.5 L434.3,2217.0 L435.3,2221.5 L436.3,2225.8 L437.3,2230.0 L438.2,2234.1 L439.2,2238.1 L440.2,2242.1 L441.1,2246.0 L442.1,2249.8 L443.1,2253.6 L444.1,2257.5 L445.0,2261.3 L446.0,2265.1 L447.0,2269.0 L448.0,2272.9 L449.0,2276.8 L450.0,2280.6 L451.0,2284.4 L452.0,2288.3 L453.0,2292.1 L454.0,2295.9 L455.0,2299.7 L456.0,2303.5 L457.0,2307.4 L458.0,2311.2 L459.0,2315.0 L460.0,2318.8 L460.9,2322.6 L461.9,2326.5 L462.8,2330.3 L463.8,2334.1 L464.7,2337.9 L465.7,2341.7 L466.6,2345.5 L467.6,2349.4 L468.6,2353.2 L469.5,2357.1 L470.5,2361.0 L471.5,2364.9 L472.5,2368.8 L473.5,2372.7 L474.5,2376.6 L475.5,2380.5 L476.5,2384.4 L477.5,2388.4 L478.6,2392.4 L479.6,2396.5 L480.6,2400.6 L481.6,2404.7 L482.6,2409.0 L483.6,2413.3 L484.6,2417.7 L485.6,2422.2 L486.6,2426.7 L487.6,2431.3 L488.5,2435.9 L489.5,2440.5 L490.5,2445.2 L491.5,2449.9 L492.5,2454.6 L493.5,2459.3 L494.5,2464.0 L495.5,2468.7 L496.5,2473.5 L497.6,2478.2 L498.6,2483.0 L499.6,2487.8 L500.7,2492.6 L501.7,2497.5 L502.7,2502.3 L503.8,2507.2 L504.8,2512.1 L505.8,2517.1 L506.8,2522.0 L507.8,2527.0 L508.8,2532.0 L509.8,2537.0 L510.7,2542.1 L511.7,2547.2 L512.7,2552.3 L513.6,2557.4 L514.6,2562.6 L515.6,2567.7 L516.5,2572.8 L517.5,2577.9 L518.5,2583.0 L519.5,2588.1 L520.5,2593.1 L521.5,2598.1 L522.4,2603.1 L523.4,2608.1 L524.4,2613.1 L525.4,2618.2 L526.4,2623.2 L527.4,2628.3 L528.4,2633.5 L529.4,2638.7 L530.4,2644.0 L531.4,2649.4 L532.4,2654.8 L533.4,2660.4 L534.4,2666.0 L535.4,2671.6 L536.4,2677.2 L537.4,2682.9 L538.5,2688.6 L539.5,2694.2 L540.5,2699.9 L541.5,2705.5 L542.5,2711.0 L543.5,2716.5 L544.5,2721.9 L545.6,2727.4 L546.6,2732.8 L547.6,2738.2 L548.7,2743.6 L549.7,2748.9 L550.7,2754.3 L551.7,2759.7 L552.7,2765.1 L553.7,2770.6 L554.6,2776.0 L555.5,2781.5 L556.5,2787.2 L557.4,2793.0 L558.3,2798.9 L559.2,2804.7 L560.1,2810.6 L561.0,2816.3 L561.8,2821.9 L562.7,2827.3 L563.5,2832.5 L564.3,2837.4 L565.0,2842.0 L565.7,2846.3 L566.4,2850.4 L567.1,2854.4 L567.7,2858.1 L568.3,2861.7 L568.9,2865.1 L569.5,2868.4 L570.0,2871.4 L570.5,2874.3 L571.0,2877.0 L571.5,2879.6 L572.0,2882.0 L572.4,2884.2 L572.8,2886.1 L573.2,2887.9 L573.6,2889.4 L573.9,2890.8 L574.2,2892.0 L574.5,2893.1 L574.8,2894.1 L575.1,2895.1 L575.4,2896.1 L575.7,2897.0 L576.0,2898.0 L576.3,2899.0 L576.7,2899.9 L577.0,2900.8 L577.3,2901.6 L577.7,2902.3 L578.0,2903.0 L578.3,2903.6 L578.6,2904.2 L578.9,2904.8 L579.1,2905.2 L579.3,2905.6 L579.5,2906.0 L579.5,2906.0 L579.6,2903.5 L579.7,2900.8 L579.8,2897.7 L579.9,2894.2 L580.0,2890.4 L580.1,2886.1 L580.3,2881.4 L580.4,2876.2 L580.6,2870.5 L580.7,2864.3 L580.9,2857.4 L581.0,2850.0 L581.1,2841.9 L581.3,2833.2 L581.4,2823.9 L581.5,2814.0 L581.7,2803.6 L581.8,2792.8 L581.9,2781.5 L582.1,2769.8 L582.2,2757.8 L582.4,2745.4 L582.5,2732.8 L582.7,2720.0 L582.9,2706.6 L583.0,2692.4 L583.2,2677.4 L583.4,2662.0 L583.6,2646.2 L583.8,2630.2 L583.9,2614.2 L584.1,2598.4 L584.3,2582.9 L584.6,2567.9 L584.8,2553.5 L585.0,2540.0 L585.2,2527.3 L585.5,2515.1 L585.7,2503.4 L586.0,2492.1 L586.2,2481.2 L586.5,2470.5 L586.8,2459.9 L587.0,2449.4 L587.3,2439.0 L587.6,2428.4 L588.0,2417.7 L588.3,2406.7 L588.7,2395.6 L589.1,2384.4 L589.5,2373.3 L589.9,2362.1 L590.3,2351.0 L590.8,2339.8 L591.2,2328.7 L591.7,2317.5 L592.1,2306.4 L592.5,2295.2 L592.9,2284.1 L593.3,2273.0 L593.6,2261.8 L594.0,2250.4 L594.3,2238.9 L594.6,2227.4 L594.9,2215.9 L595.1,2204.4 L595.4,2193.0 L595.7,2181.9 L595.9,2170.9 L596.2,2160.2 L596.4,2149.9 L596.7,2140.0 L597.0,2130.2 L597.2,2120.4 L597.5,2110.6 L597.7,2101.0 L598.0,2091.6 L598.2,2082.5 L598.4,2073.8 L598.6,2065.7 L598.8,2058.1 L599.0,2051.2 L599.2,2045.2 L599.3,2040.0 L599.4,2035.8 L599.5,2032.6 L599.5,2030.3 L599.6,2028.7 L599.6,2027.8 L599.6,2027.2 L599.6,2027.1 L599.5,2027.1 L599.5,2027.3 L599.5,2027.4 L599.5,2027.4 L599.5,2027.0 L599.5,2027.0 L599.6,2027.2 L599.6,2027.3 L599.7,2027.3 L599.8,2027.3 L599.9,2027.4 L600.0,2027.5 L600.1,2027.9 L600.3,2028.4 L600.5,2029.3 L600.8,2030.4 L601.1,2032.0 L601.5,2034.0 L602.0,2036.5 L602.5,2039.4 L603.1,2042.7 L603.7,2046.3 L604.3,2050.1 L605.0,2054.3 L605.8,2058.6 L606.6,2063.0 L607.4,2067.5 L608.3,2072.1 L609.2,2076.7 L610.2,2081.2 L611.3,2085.9 L612.4,2090.9 L613.7,2096.1 L615.0,2101.6 L616.3,2107.1 L617.7,2112.6 L619.1,2118.1 L620.5,2123.4 L621.8,2128.5 L623.1,2133.3 L624.2,2137.7 L625.3,2141.6 L626.3,2145.1 L627.2,2148.2 L628.1,2151.0 L628.9,2153.5 L629.6,2155.8 L630.4,2158.0 L631.1,2159.9 L631.8,2161.8 L632.5,2163.6 L633.1,2165.4 L633.8,2167.2 L634.5,2169.0 L635.2,2170.8 L635.9,2172.6 L636.5,2174.2 L637.2,2175.8 L637.8,2177.3 L638.4,2178.8 L639.0,2180.2 L639.6,2181.6 L640.2,2182.9 L640.8,2184.3 L641.4,2185.6 L642.0,2187.0 L642.6,2188.5 L643.1,2190.0 L643.7,2191.7 L644.2,2193.3 L644.8,2195.0 L645.3,2196.6 L645.8,2198.0 L646.4,2199.3 L646.9,2200.4 L647.4,2201.3 L648.0,2201.8 L648.5,2202.0 L649.0,2201.8 L649.6,2201.3 L650.1,2200.4 L650.7,2199.3 L651.3,2198.0 L651.8,2196.6 L652.4,2195.0 L652.9,2193.3 L653.4,2191.7 L654.0,2190.0 L654.5,2188.5 L655.0,2187.0 L655.5,2185.6 L656.0,2184.2 L656.5,2182.7 L656.9,2181.3 L657.4,2179.8 L657.9,2178.2 L658.3,2176.7 L658.8,2175.2 L659.2,2173.6 L659.7,2172.1 L660.1,2170.5 L660.6,2169.0 L661.1,2167.5 L661.5,2165.9 L661.9,2164.4 L662.4,2162.9 L662.8,2161.3 L663.2,2159.8 L663.7,2158.2 L664.1,2156.6 L664.6,2155.0 L665.1,2153.4 L665.7,2151.7 L666.3,2150.0 L666.9,2148.4 L667.5,2146.8 L668.1,2145.3 L668.7,2143.8 L669.4,2142.3 L670.0,2140.7 L670.8,2139.1 L671.6,2137.3 L672.4,2135.3 L673.4,2133.1 L674.4,2130.7 L675.6,2128.0 L676.9,2125.0 L678.3,2121.7 L679.9,2118.2 L681.5,2114.6 L683.2,2110.7 L685.0,2106.7 L686.8,2102.6 L688.6,2098.4 L690.4,2094.1 L692.2,2089.8 L694.0,2085.5 L695.7,2081.2 L697.4,2076.8 L699.0,2072.3 L700.7,2067.6 L702.4,2062.8 L704.1,2058.0 L705.7,2053.1 L707.4,2048.2 L709.1,2043.5 L710.8,2038.8 L712.4,2034.3 L714.1,2029.9 L715.8,2025.8 L717.5,2021.8 L719.3,2017.9 L721.2,2013.9 L723.1,2010.1 L725.0,2006.4 L726.8,2002.8 L728.6,1999.3 L730.4,1996.1 L732.0,1993.1 L733.5,1990.3 L734.8,1987.8 L736.0,1985.6 L737.0,1983.7 L737.8,1982.2 L738.5,1981.0 L739.1,1980.1 L739.5,1979.3 L739.9,1978.8 L740.2,1978.4 L740.5,1978.1 L740.7,1977.8 L740.9,1977.6 L741.1,1977.3 L741.3,1977.0 L741.3,1977.0 L741.6,1980.8 L741.9,1985.1 L742.3,1989.9 L742.8,1995.3 L743.3,2001.3 L743.8,2007.9 L744.3,2015.2 L744.8,2023.2 L745.4,2032.0 L745.9,2041.6 L746.4,2052.0 L746.8,2063.3 L747.2,2075.7 L747.6,2089.3 L748.0,2103.9 L748.4,2119.4 L748.7,2135.7 L749.1,2152.6 L749.5,2170.0 L749.8,2187.7 L750.2,2205.7 L750.6,2223.8 L750.9,2241.8 L751.3,2259.6 L751.7,2277.5 L752.1,2295.8 L752.4,2314.4 L752.8,2333.4 L753.2,2352.5 L753.6,2371.8 L754.0,2391.2 L754.4,2410.7 L754.7,2430.2 L755.1,2449.6 L755.5,2468.9 L755.9,2488.0 L756.3,2507.2 L756.7,2526.6 L757.1,2546.2 L757.4,2565.8 L757.8,2585.4 L758.2,2605.0 L758.6,2624.4 L759.0,2643.6 L759.4,2662.4 L759.7,2680.9 L760.1,2698.9 L760.5,2716.3 L760.9,2733.4 L761.3,2750.4 L761.7,2767.3 L762.1,2783.9 L762.5,2800.2 L762.9,2816.1 L763.3,2831.5 L763.7,2846.4 L764.0,2860.7 L764.4,2874.2 L764.7,2887.0 L765.0,2898.9 L765.3,2910.0 L765.5,2920.6 L765.8,2930.5 L766.0,2939.8 L766.3,2948.4 L766.5,2956.5 L766.7,2963.9 L766.9,2970.6 L767.0,2976.7 L767.2,2982.2 L767.3,2987.0 L767.4,2991.2 L767.4,2991.2 L767.9,2990.8 L768.6,2990.2 L769.3,2989.6 L770.2,2988.9 L771.1,2988.2 L772.1,2987.4 L773.1,2986.5 L774.1,2985.7 L775.2,2984.8 L776.2,2983.9 L777.2,2983.0 L778.2,2982.1 L779.1,2981.2 L780.1,2980.3 L781.0,2979.3 L781.9,2978.3 L782.9,2977.2 L783.8,2976.2 L784.7,2975.2 L785.7,2974.2 L786.7,2973.2 L787.7,2972.2 L788.7,2971.3 L789.8,2970.5 L790.9,2969.7 L792.0,2969.0 L793.2,2968.3 L794.4,2967.6 L795.6,2966.9 L796.8,2966.3 L798.0,2965.7 L799.2,2965.1 L800.4,2964.6 L801.6,2964.0 L802.8,2963.5 L803.9,2963.0 L805.0,2962.5 L806.1,2962.0 L807.1,2961.6 L808.2,2961.1 L809.2,2960.7 L810.2,2960.3 L811.2,2959.9 L812.2,2959.6 L813.2,2959.2 L814.2,2959.0 L815.3,2958.7 L816.3,2958.5 L817.3,2958.3 L818.4,2958.2 L819.4,2958.1 L820.5,2958.1 L821.6,2958.1 L822.6,2958.1 L823.7,2958.1 L824.7,2958.1 L825.8,2958.2 L826.8,2958.3 L827.8,2958.4 L828.8,2958.5 L829.8,2958.6 L830.8,2958.7 L831.7,2958.8 L832.7,2959.0 L833.6,2959.1 L834.6,2959.3 L835.5,2959.5 L836.4,2959.7 L837.3,2959.9 L838.2,2960.2 L839.1,2960.6 L840.0,2961.0 L840.8,2961.5 L841.7,2962.0 L842.5,2962.6 L843.3,2963.2 L844.1,2963.8 L844.8,2964.5 L845.6,2965.2 L846.4,2966.0 L847.1,2966.7 L847.9,2967.4 L848.7,2968.1 L849.5,2968.8 L850.3,2969.5 L851.3,2970.3 L852.2,2971.0 L853.2,2971.8 L854.1,2972.6 L855.1,2973.4 L856.0,2974.2 L856.9,2974.9 L857.7,2975.6 L858.4,2976.2 L859.0,2976.7 L859.5,2977.1 L859.5,2977.1 L859.6,2975.9 L859.8,2974.4 L860.1,2972.8 L860.3,2970.9 L860.6,2968.9 L860.9,2966.7 L861.2,2964.3 L861.5,2961.7 L861.8,2959.0 L862.1,2956.2 L862.3,2953.1 L862.5,2950.0 L862.7,2946.6 L862.8,2943.0 L863.0,2939.1 L863.1,2935.0 L863.2,2930.8 L863.3,2926.4 L863.4,2922.0 L863.5,2917.5 L863.6,2913.0 L863.7,2908.6 L863.8,2904.2 L864.0,2900.0 L864.2,2895.9 L864.4,2892.0 L864.6,2888.2 L864.8,2884.4 L865.0,2880.7 L865.3,2876.9 L865.5,2873.0 L865.7,2868.9 L865.9,2864.6 L866.1,2860.1 L866.3,2855.2 L866.5,2850.0 L866.7,2844.4 L866.8,2838.3 L866.9,2831.9 L867.0,2825.2 L867.2,2818.3 L867.3,2811.2 L867.4,2804.1 L867.4,2797.0 L867.5,2790.0 L867.6,2783.1 L867.7,2776.4 L867.8,2770.0 L867.9,2763.9 L867.9,2758.1 L868.0,2752.5 L868.1,2747.0 L868.1,2741.6 L868.2,2736.2 L868.2,2730.8 L868.3,2725.2 L868.3,2719.4 L868.4,2713.3 L868.5,2706.9 L868.6,2700.0 L868.7,2692.7 L868.8,2685.1 L869.0,2677.1 L869.1,2668.9 L869.3,2660.5 L869.4,2651.9 L869.6,2643.2 L869.8,2634.4 L870.0,2625.7 L870.1,2617.0 L870.3,2608.4 L870.5,2600.0 L870.7,2591.7 L870.9,2583.3 L871.1,2575.0 L871.3,2566.7 L871.5,2558.3 L871.7,2550.0 L871.9,2541.7 L872.1,2533.3 L872.3,2525.0 L872.6,2516.7 L872.8,2508.3 L873.0,2500.0 L873.2,2491.7 L873.5,2483.3 L873.7,2475.0 L873.9,2466.7 L874.2,2458.3 L874.4,2450.0 L874.6,2441.7 L874.9,2433.3 L875.1,2425.0 L875.3,2416.7 L875.6,2408.3 L875.8,2400.0 L876.0,2391.7 L876.2,2383.3 L876.5,2375.0 L876.7,2366.7 L876.9,2358.3 L877.1,2350.0 L877.3,2341.7 L877.5,2333.3 L877.7,2325.0 L877.9,2316.7 L878.1,2308.3 L878.3,2300.0 L878.5,2291.7 L878.7,2283.3 L878.8,2275.0 L879.0,2266.7 L879.2,2258.3 L879.3,2250.0 L879.5,2241.7 L879.7,2233.3 L879.8,2225.0 L880.0,2216.7 L880.1,2208.3 L880.3,2200.0 L880.5,2191.6 L880.6,2183.0 L880.8,2174.3 L880.9,2165.6 L881.0,2156.8 L881.2,2148.1 L881.3,2139.5 L881.5,2131.1 L881.6,2122.9 L881.7,2114.9 L881.9,2107.3 L882.0,2100.0 L882.1,2093.0 L882.2,2086.2 L882.4,2079.6 L882.5,2073.3 L882.6,2067.1 L882.7,2061.1 L882.8,2055.4 L882.9,2049.9 L883.0,2044.5 L883.1,2039.5 L883.2,2034.6 L883.3,2030.0 L883.4,2025.6 L883.5,2021.6 L883.6,2017.7 L883.7,2014.1 L883.8,2010.8 L883.8,2007.6 L883.9,2004.7 L884.0,2001.9 L884.1,1999.2 L884.2,1996.7 L884.3,1994.3 L884.4,1992.0 L884.5,1989.8 L884.6,1987.9 L884.8,1986.1 L884.9,1984.4 L885.0,1983.0 L885.2,1981.6 L885.3,1980.4 L885.4,1979.3 L885.5,1978.4 L885.6,1977.5 L885.7,1976.7 L885.8,1976.0 L885.8,1976.0 L886.0,1976.4 L886.1,1976.9 L886.3,1977.4 L886.6,1978.0 L886.9,1978.7 L887.1,1979.4 L887.4,1980.2 L887.7,1980.9 L888.0,1981.7 L888.4,1982.5 L888.7,1983.3 L889.0,1984.0 L889.3,1984.7 L889.6,1985.3 L889.9,1986.0 L890.2,1986.6 L890.5,1987.2 L890.8,1987.9 L891.2,1988.6 L891.5,1989.3 L891.9,1990.1 L892.3,1991.0 L892.8,1992.1 L893.3,1993.2 L893.8,1994.5 L894.4,1995.8 L895.0,1997.2 L895.6,1998.8 L896.3,2000.4 L897.0,2002.0 L897.7,2003.7 L898.4,2005.5 L899.2,2007.3 L900.0,2009.2 L900.8,2011.1 L901.6,2013.0 L902.4,2015.0 L903.3,2017.0 L904.2,2019.1 L905.0,2021.3 L905.9,2023.5 L906.9,2025.8 L907.8,2028.1 L908.8,2030.4 L909.9,2032.7 L910.9,2035.0 L912.0,2037.3 L913.2,2039.6 L914.4,2041.9 L915.6,2044.3 L916.9,2046.7 L918.2,2049.1 L919.6,2051.5 L921.0,2053.9 L922.4,2056.3 L923.8,2058.7 L925.3,2061.1 L926.8,2063.4 L928.3,2065.6 L929.8,2067.8 L931.3,2069.9 L932.9,2072.0 L934.5,2074.0 L936.1,2075.9 L937.7,2077.8 L939.3,2079.7 L941.0,2081.6 L942.7,2083.5 L944.4,2085.3 L946.2,2087.2 L947.9,2089.1 L949.7,2091.0 L951.5,2092.9 L953.4,2094.9 L955.3,2096.8 L957.2,2098.8 L959.1,2100.7 L961.1,2102.7 L963.1,2104.6 L965.0,2106.6 L967.0,2108.5 L969.0,2110.4 L971.0,2112.3 L972.9,2114.2 L974.8,2116.1 L976.7,2117.9 L978.7,2119.7 L980.6,2121.5 L982.5,2123.2 L984.4,2125.0 L986.3,2126.8 L988.2,2128.5 L990.2,2130.3 L992.1,2132.1 L994.1,2133.9 L996.1,2135.8 L998.1,2137.7 L1000.2,2139.6 L1002.2,2141.4 L1004.3,2143.4 L1006.4,2145.3 L1008.5,2147.2 L1010.5,2149.1 L1012.6,2151.1 L1014.7,2153.0 L1016.8,2155.0 L1018.9,2157.0 L1021.0,2159.0 L1023.1,2161.0 L1025.2,2163.1 L1027.2,2165.2 L1029.3,2167.3 L1031.4,2169.4 L1033.5,2171.5 L1035.6,2173.6 L1037.6,2175.7 L1039.7,2177.8 L1041.8,2179.9 L1043.8,2181.9 L1045.8,2183.9 L1047.8,2185.9 L1049.8,2187.9 L1051.8,2189.9 L1053.9,2191.9 L1055.9,2193.9 L1057.9,2195.9 L1059.8,2197.8 L1061.8,2199.6 L1063.7,2201.4 L1065.5,2203.0 L1067.3,2204.6 L1069.1,2206.0 L1070.8,2207.3 L1072.4,2208.5 L1074.0,2209.5 L1075.6,2210.5 L1077.1,2211.4 L1078.6,2212.3 L1080.1,2213.0 L1081.5,2213.8 L1083.0,2214.4 L1084.4,2215.0 L1085.9,2215.6 L1087.3,2216.2 L1088.7,2216.7 L1090.2,2217.2 L1091.6,2217.6 L1093.0,2218.0 L1094.3,2218.3 L1095.7,2218.6 L1097.1,2218.8 L1098.4,2219.0 L1099.8,2219.2 L1101.2,2219.3 L1102.5,2219.4 L1103.9,2219.5 L1105.3,2219.6 L1106.6,2219.6 L1108.0,2219.7 L1109.4,2219.7 L1110.7,2219.7 L1112.1,2219.6 L1113.5,2219.5 L1114.8,2219.4 L1116.2,2219.2 L1117.6,2218.9 L1119.1,2218.6 L1120.5,2218.2 L1121.9,2217.7 L1123.3,2217.2 L1124.7,2216.7 L1126.1,2216.0 L1127.5,2215.4 L1129.0,2214.6 L1130.4,2213.8 L1132.0,2213.0 L1133.5,2212.0 L1135.2,2211.0 L1136.9,2210.0 L1138.7,2208.8 L1140.6,2207.5 L1142.7,2206.1 L1144.8,2204.5 L1147.0,2202.8 L1149.2,2201.0 L1151.5,2199.2 L1153.8,2197.4 L1156.2,2195.7 L1158.5,2193.9 L1160.8,2192.3 L1163.0,2190.8 L1165.2,2189.4 L1167.4,2188.1 L1169.6,2186.8 L1171.8,2185.5 L1174.0,2184.3 L1176.3,2183.1 L1178.5,2182.0 L1180.6,2181.0 L1182.7,2180.0 L1184.8,2179.2 L1186.7,2178.6 L1188.6,2178.1 L1190.3,2177.8 L1191.9,2177.7 L1193.4,2177.7 L1194.8,2177.9 L1196.1,2178.2 L1197.3,2178.7 L1198.5,2179.2 L1199.6,2179.9 L1200.7,2180.6 L1201.9,2181.5 L1203.0,2182.4 L1204.2,2183.3 L1205.4,2184.3 L1206.7,2185.3 L1207.9,2186.5 L1209.2,2187.6 L1210.4,2188.9 L1211.7,2190.3 L1213.0,2191.7 L1214.2,2193.2 L1215.5,2194.8 L1216.7,2196.4 L1218.0,2198.2 L1219.2,2200.1 L1220.5,2202.0 L1221.8,2204.0 L1223.0,2206.2 L1224.3,2208.4 L1225.5,2210.7 L1226.8,2213.1 L1228.0,2215.6 L1229.3,2218.2 L1230.6,2220.9 L1231.8,2223.6 L1233.1,2226.3 L1234.3,2229.2 L1235.6,2232.1 L1236.8,2235.1 L1238.1,2238.1 L1239.3,2241.1 L1240.4,2244.2 L1241.6,2247.4 L1242.8,2250.7 L1244.1,2254.0 L1245.3,2257.5 L1246.6,2261.0 L1247.9,2264.7 L1249.3,2268.5 L1250.7,2272.4 L1252.2,2276.5 L1253.7,2280.7 L1255.3,2285.1 L1256.8,2289.6 L1258.5,2294.2 L1260.1,2298.9 L1261.8,2303.7 L1263.5,2308.5 L1265.3,2313.3 L1267.1,2318.1 L1268.9,2322.9 L1270.8,2327.7 L1272.8,2332.5 L1274.8,2337.5 L1277.0,2342.5 L1279.2,2347.6 L1281.4,2352.7 L1283.7,2357.8 L1286.0,2362.8 L1288.2,2367.8 L1290.3,2372.6 L1292.3,2377.3 L1294.2,2381.8 L1296.0,2386.0 L1297.6,2389.9 L1299.0,2393.6 L1300.4,2397.0 L1301.6,2400.2 L1302.8,2403.3 L1303.9,2406.4 L1305.0,2409.4 L1306.1,2412.5 L1307.2,2415.7 L1308.4,2419.0 L1309.7,2422.6 L1311.1,2426.4 L1312.6,2430.5 L1314.2,2434.8 L1315.8,2439.3 L1317.4,2443.9 L1319.1,2448.6 L1320.8,2453.4 L1322.6,2458.3 L1324.3,2463.1 L1326.1,2467.9 L1327.8,2472.6 L1329.5,2477.2 L1331.2,2481.7 L1332.9,2486.1 L1334.5,2490.3 L1336.1,2494.5 L1337.7,2498.6 L1339.3,2502.8 L1340.9,2506.8 L1342.6,2510.9 L1344.2,2515.0 L1345.9,2519.2 L1347.7,2523.4 L1349.4,2527.6 L1351.3,2532.0 L1353.2,2536.5 L1355.2,2541.1 L1357.2,2545.7 L1359.3,2550.5 L1361.4,2555.2 L1363.6,2560.0 L1365.7,2564.8 L1367.9,2569.5 L1370.1,2574.1 L1372.2,2578.7 L1374.4,2583.1 L1376.5,2587.4 L1378.6,2591.5 L1380.7,2595.6 L1382.8,2599.6 L1384.9,2603.4 L1387.0,2607.2 L1389.1,2611.0 L1391.1,2614.7 L1393.2,2618.4 L1395.3,2622.0 L1397.4,2625.6 L1399.5,2629.1 L1401.6,2632.7 L1403.7,2636.3 L1405.9,2639.9 L1408.2,2643.5 L1410.4,2647.1 L1412.7,2650.7 L1414.9,2654.2 L1417.1,2657.6 L1419.3,2661.0 L1421.3,2664.2 L1423.3,2667.3 L1425.1,2670.2 L1426.8,2672.9 L1428.3,2675.4 L1429.6,2677.6 L1430.8,2679.7 L1431.9,2681.5 L1432.8,2683.3 L1433.8,2685.0 L1434.7,2686.6 L1435.6,2688.3 L1436.5,2689.9 L1437.6,2691.7 L1438.7,2693.6 L1440.0,2695.7 L1441.4,2697.9 L1442.9,2700.2 L1444.4,2702.6 L1446.1,2705.1 L1447.7,2707.6 L1449.4,2710.1 L1451.1,2712.7 L1452.8,2715.2 L1454.5,2717.7 L1456.3,2720.2 L1457.9,2722.7 L1459.6,2725.1 L1461.2,2727.4 L1462.8,2729.7 L1464.4,2732.0 L1466.0,2734.3 L1467.6,2736.5 L1469.2,2738.7 L1470.8,2741.0 L1472.4,2743.2 L1474.1,2745.5 L1475.8,2747.8 L1477.5,2750.2 L1479.3,2752.6 L1481.1,2755.1 L1483.0,2757.6 L1484.8,2760.2 L1486.7,2762.8 L1488.6,2765.4 L1490.6,2768.0 L1492.5,2770.7 L1494.5,2773.4 L1496.6,2776.1 L1498.6,2778.7 L1500.7,2781.4 L1502.8,2784.0 L1505.0,2786.6 L1507.2,2789.3 L1509.4,2792.0 L1511.7,2794.6 L1514.0,2797.3 L1516.3,2800.0 L1518.6,2802.7 L1521.0,2805.3 L1523.3,2807.9 L1525.7,2810.5 L1528.0,2813.0 L1530.3,2815.5 L1532.6,2817.9 L1534.9,2820.3 L1537.2,2822.7 L1539.5,2825.0 L1541.8,2827.3 L1544.0,2829.6 L1546.3,2831.8 L1548.6,2834.1 L1550.9,2836.3 L1553.2,2838.5 L1555.5,2840.7 L1557.8,2842.9 L1560.1,2845.1 L1562.4,2847.3 L1564.7,2849.5 L1567.0,2851.6 L1569.3,2853.8 L1571.5,2855.9 L1573.8,2858.1 L1576.1,2860.2 L1578.4,2862.3 L1580.7,2864.4 L1583.0,2866.4 L1585.3,2868.5 L1587.6,2870.5 L1589.8,2872.5 L1592.1,2874.5 L1594.3,2876.5 L1596.6,2878.4 L1598.8,2880.4 L1601.1,2882.3 L1603.3,2884.2 L1605.7,2886.2 L1608.0,2888.1 L1610.4,2890.0 L1612.8,2892.0 L1615.3,2894.0 L1617.8,2896.0 L1620.4,2898.0 L1623.0,2900.0 L1625.6,2902.0 L1628.3,2904.0 L1630.9,2906.0 L1633.6,2908.0 L1636.3,2910.0 L1638.9,2911.9 L1641.6,2913.8 L1644.2,2915.6 L1646.8,2917.4 L1649.3,2919.1 L1651.9,2920.7 L1654.4,2922.3 L1656.9,2923.8 L1659.4,2925.4 L1662.0,2927.0 L1664.6,2928.5 L1667.2,2930.1 L1669.9,2931.7 L1672.7,2933.4 L1675.6,2935.2 L1678.6,2937.0 L1681.7,2938.9 L1684.9,2940.9 L1688.2,2942.9 L1691.6,2945.0 L1695.0,2947.0 L1698.3,2949.0 L1701.7,2951.1 L1705.1,2953.1 L1708.4,2955.1 L1711.6,2957.0 L1714.8,2958.8 L1718.0,2960.6 L1721.2,2962.4 L1724.5,2964.2 L1727.8,2966.0 L1731.0,2967.8 L1734.3,2969.5 L1737.4,2971.1 L1740.3,2972.8 L1743.1,2974.3 L1745.8,2975.8 L1748.1,2977.1 L1750.2,2978.4 L1752.0,2979.6 L1753.6,2980.7 L1754.9,2981.7 L1756.1,2982.7 L1757.1,2983.6 L1758.0,2984.4 L1758.7,2985.2 L1759.3,2985.9 L1759.9,2986.5 L1760.4,2987.1 L1760.8,2987.6 L1761.3,2988.0 L1761.3,2988.0 L1761.6,2969.6 L1761.9,2945.7 L1762.3,2917.2 L1762.7,2885.2 L1763.2,2850.7 L1763.7,2814.6 L1764.2,2777.9 L1764.7,2741.7 L1765.3,2706.9 L1765.8,2674.5 L1766.4,2645.5 L1766.9,2621.0 L1767.4,2600.5 L1768.0,2582.8 L1768.6,2567.4 L1769.2,2553.8 L1769.8,2541.7 L1770.4,2530.5 L1771.0,2519.9 L1771.6,2509.5 L1772.2,2498.7 L1772.8,2487.1 L1773.3,2474.4 L1773.8,2460.0 L1774.3,2444.6 L1774.7,2429.0 L1775.1,2413.2 L1775.5,2397.2 L1775.8,2380.8 L1776.2,2364.1 L1776.5,2346.9 L1776.8,2329.3 L1777.2,2311.0 L1777.6,2292.2 L1778.0,2272.8 L1778.4,2252.6 L1778.9,2230.6 L1779.4,2206.2 L1779.9,2180.0 L1780.5,2152.6 L1781.1,2124.6 L1781.7,2096.8 L1782.3,2069.7 L1782.8,2043.9 L1783.3,2020.1 L1783.7,1998.9 L1784.1,1981.0 L1784.4,1966.9 L1784.4,1966.9 L1785.4,1966.9 L1786.5,1966.9 L1787.8,1966.8 L1789.3,1966.7 L1790.9,1966.6 L1792.7,1966.6 L1794.5,1966.6 L1796.5,1966.7 L1798.5,1966.8 L1800.6,1967.1 L1802.8,1967.6 L1805.0,1968.2 L1807.3,1969.0 L1809.7,1970.0 L1812.3,1971.1 L1815.0,1972.4 L1817.7,1973.8 L1820.6,1975.2 L1823.4,1976.7 L1826.3,1978.2 L1829.2,1979.7 L1832.0,1981.2 L1834.8,1982.6 L1837.6,1983.9 L1840.3,1985.2 L1843.0,1986.4 L1845.7,1987.6 L1848.4,1988.9 L1851.1,1990.1 L1853.9,1991.3 L1856.6,1992.5 L1859.3,1993.7 L1862.0,1994.9 L1864.7,1996.1 L1867.4,1997.3 L1870.1,1998.5 L1872.8,1999.7 L1875.5,2000.9 L1878.2,2002.0 L1880.9,2003.2 L1883.6,2004.3 L1886.3,2005.5 L1889.1,2006.6 L1891.8,2007.8 L1894.5,2008.9 L1897.2,2010.0 L1899.9,2011.1 L1902.6,2012.2 L1905.3,2013.3 L1908.0,2014.3 L1910.7,2015.4 L1913.4,2016.4 L1916.1,2017.4 L1918.8,2018.4 L1921.6,2019.5 L1924.3,2020.5 L1927.0,2021.5 L1929.7,2022.5 L1932.4,2023.5 L1935.1,2024.6 L1937.8,2025.7 L1940.5,2026.8 L1943.2,2027.8 L1945.9,2028.9 L1948.6,2030.1 L1951.3,2031.2 L1954.1,2032.3 L1956.8,2033.4 L1959.5,2034.4 L1962.2,2035.5 L1964.9,2036.6 L1967.6,2037.6 L1970.3,2038.6 L1973.0,2039.6 L1975.7,2040.6 L1978.5,2041.5 L1981.2,2042.5 L1983.9,2043.4 L1986.6,2044.3 L1989.3,2045.3 L1992.1,2046.2 L1994.8,2047.1 L1997.5,2048.1 L2000.2,2049.0 L2002.9,2049.9 L2005.6,2050.9 L2008.3,2051.8 L2011.0,2052.8 L2013.7,2053.7 L2016.5,2054.7 L2019.2,2055.6 L2021.9,2056.5 L2024.6,2057.5 L2027.3,2058.4 L2030.0,2059.4 L2032.7,2060.3 L2035.4,2061.2 L2038.1,2062.2 L2040.8,2063.2 L2043.5,2064.1 L2046.2,2065.1 L2048.9,2066.0 L2051.7,2067.0 L2054.4,2067.9 L2057.1,2068.9 L2059.8,2069.8 L2062.5,2070.8 L2065.2,2071.7 L2067.9,2072.6 L2070.6,2073.5 L2073.3,2074.4 L2076.0,2075.3 L2078.7,2076.2 L2081.4,2077.1 L2084.2,2078.0 L2086.9,2078.9 L2089.6,2079.8 L2092.3,2080.6 L2095.0,2081.5 L2097.7,2082.4 L2100.4,2083.3 L2103.1,2084.2 L2105.8,2085.1 L2108.5,2085.9 L2111.2,2086.8 L2113.9,2087.7 L2116.7,2088.6 L2119.4,2089.5 L2122.1,2090.3 L2124.8,2091.2 L2127.5,2092.1 L2130.2,2092.9 L2132.9,2093.7 L2135.6,2094.6 L2138.3,2095.4 L2141.1,2096.2 L2143.8,2097.0 L2146.5,2097.8 L2149.2,2098.6 L2151.9,2099.4 L2154.7,2100.2 L2157.4,2101.0 L2160.1,2101.8 L2162.8,2102.6 L2165.5,2103.4 L2168.0,2104.2 L2170.5,2105.0 L2173.0,2105.8 L2175.5,2106.6 L2178.0,2107.3 L2180.5,2108.1 L2183.2,2109.0 L2186.0,2109.8 L2188.9,2110.6 L2192.0,2111.5 L2195.3,2112.4 L2199.0,2113.4 L2203.2,2114.4 L2207.7,2115.5 L2212.4,2116.7 L2217.3,2117.9 L2222.2,2119.1 L2226.9,2120.2 L2231.5,2121.3 L2235.7,2122.3 L2239.4,2123.2 L2242.5,2123.9 L2245.0,2124.5" stroke="#0000ff" stroke-dasharray="17.2 14.9"/>
<circle cx="315.1" cy="2712.6" r="7.2" fill="#ff00ff" stroke="none"/>
<circle cx="340.5" cy="2841.0" r="7.2" fill="#ff00ff" stroke="none"/>
<circle cx="364.4" cy="1965.5" r="7.2" fill="#ff00ff" stroke="none"/>
<circle cx="388.0" cy="2026.9" r="7.2" fill="#ff00ff" stroke="none"/>
<circle cx="411.7" cy="2108.9" r="7.2" fill="#ff00ff" stroke="none"/>
<circle cx="434.8" cy="2220.6" r="7.2" fill="#ff00ff" stroke="none"/>
<circle cx="458.5" cy="2314.2" r="7.2" fill="#ff00ff" stroke="none"/>
<circle cx="482.1" cy="2408.2" r="7.2" fill="#ff00ff" stroke="none"/>
<circle cx="506.3" cy="2521.4" r="7.2" fill="#ff00ff" stroke="none"/>
<circle cx="529.9" cy="2643.2" r="7.2" fill="#ff00ff" stroke="none"/>
<circle cx="554.1" cy="2775.5" r="7.2" fill="#ff00ff" stroke="none"/>
<circle cx="576.7" cy="2918.9" r="7.2" fill="#ff00ff" stroke="none"/>
<circle cx="599.1" cy="2029.4" r="7.2" fill="#ff00ff" stroke="none"/>
<circle cx="624.3" cy="2174.3" r="7.2" fill="#ff00ff" stroke="none"/>
<circle cx="647.9" cy="2288.5" r="7.2" fill="#ff00ff" stroke="none"/>
<circle cx="671.4" cy="2366.9" r="7.2" fill="#ff00ff" stroke="none"/>
<circle cx="696.5" cy="2382.9" r="7.2" fill="#ff00ff" stroke="none"/>
<circle cx="718.4" cy="2380.6" r="7.2" fill="#ff00ff" stroke="none"/>
<circle cx="742.2" cy="2377.4" r="7.2" fill="#ff00ff" stroke="none"/>
<circle cx="766.4" cy="2374.7" r="7.2" fill="#ff00ff" stroke="none"/>
<circle cx="791.0" cy="2371.5" r="7.2" fill="#ff00ff" stroke="none"/>
<circle cx="815.3" cy="2366.9" r="7.2" fill="#ff00ff" stroke="none"/>
<circle cx="838.1" cy="2362.4" r="7.2" fill="#ff00ff" stroke="none"/>
<circle cx="862.7" cy="2365.4" r="7.2" fill="#ff00ff" stroke="none"/>
<circle cx="885.4" cy="2386.5" r="7.2" fill="#ff00ff" stroke="none"/>
<circle cx="908.9" cy="2424.2" r="7.2" fill="#ff00ff" stroke="none"/>
<circle cx="932.6" cy="2447.8" r="7.2" fill="#ff00ff" stroke="none"/>
<circle cx="956.4" cy="2437.6" r="7.2" fill="#ff00ff" stroke="none"/>
<circle cx="979.2" cy="2404.8" r="7.2" fill="#ff00ff" stroke="none"/>
<circle cx="1003.3" cy="2359.7" r="7.2" fill="#ff00ff" stroke="none"/>
<circle cx="1027.0" cy="2311.1" r="7.2" fill="#ff00ff" stroke="none"/>
<circle cx="1050.2" cy="2263.8" r="7.2" fill="#ff00ff" stroke="none"/>
<circle cx="1073.8" cy="2219.6" r="7.2" fill="#ff00ff" stroke="none"/>
<circle cx="1097.5" cy="2183.3" r="7.2" fill="#ff00ff" stroke="none"/>
<circle cx="1120.6" cy="2152.6" r="7.2" fill="#ff00ff" stroke="none"/>
<circle cx="1145.3" cy="2130.5" r="7.2" fill="#ff00ff" stroke="none"/>
<circle cx="1169.2" cy="2119.9" r="7.2" fill="#ff00ff" stroke="none"/>
<circle cx="1192.8" cy="2125.5" r="7.2" fill="#ff00ff" stroke="none"/>
<circle cx="1218.0" cy="2156.7" r="7.2" fill="#ff00ff" stroke="none"/>
<circle cx="1242.1" cy="2217.0" r="7.2" fill="#ff00ff" stroke="none"/>
<circle cx="1265.8" cy="2291.0" r="7.2" fill="#ff00ff" stroke="none"/>
<circle cx="1289.4" cy="2363.0" r="7.2" fill="#ff00ff" stroke="none"/>
<circle cx="1312.6" cy="2431.9" r="7.2" fill="#ff00ff" stroke="none"/>
<circle cx="1336.2" cy="2495.3" r="7.2" fill="#ff00ff" stroke="none"/>
<circle cx="1359.9" cy="2548.1" r="7.2" fill="#ff00ff" stroke="none"/>
<circle cx="1383.0" cy="2594.4" r="7.2" fill="#ff00ff" stroke="none"/>
<circle cx="1407.7" cy="2637.2" r="7.2" fill="#ff00ff" stroke="none"/>
<circle cx="1430.8" cy="2677.4" r="7.2" fill="#ff00ff" stroke="none"/>
<circle cx="1454.5" cy="2714.5" r="7.2" fill="#ff00ff" stroke="none"/>
<circle cx="1477.3" cy="2746.8" r="7.2" fill="#ff00ff" stroke="none"/>
<circle cx="1500.9" cy="2774.3" r="7.2" fill="#ff00ff" stroke="none"/>
<circle cx="1524.4" cy="2799.8" r="7.2" fill="#ff00ff" stroke="none"/>
<circle cx="1548.0" cy="2825.3" r="7.2" fill="#ff00ff" stroke="none"/>
<circle cx="1572.3" cy="2848.9" r="7.2" fill="#ff00ff" stroke="none"/>
<circle cx="1596.3" cy="2871.6" r="7.2" fill="#ff00ff" stroke="none"/>
<circle cx="1619.8" cy="2892.0" r="7.2" fill="#ff00ff" stroke="none"/>
<circle cx="1643.4" cy="2911.7" r="7.2" fill="#ff00ff" stroke="none"/>
<circle cx="1666.9" cy="2929.3" r="7.2" fill="#ff00ff" stroke="none"/>
<circle cx="1690.5" cy="2945.0" r="7.2" fill="#ff00ff" stroke="none"/>
<circle cx="1714.8" cy="2958.8" r="7.2" fill="#ff00ff" stroke="none"/>
<circle cx="1738.4" cy="2974.5" r="7.2" fill="#ff00ff" stroke="none"/>
<circle cx="1762.7" cy="2988.2" r="7.2" fill="#ff00ff" stroke="none"/>
<circle cx="1785.5" cy="1956.7" r="7.2" fill="#ff00ff" stroke="none"/>
<circle cx="1809.3" cy="1969.7" r="7.2" fill="#ff00ff" stroke="none"/>
<circle cx="1833.3" cy="1981.4" r="7.2" fill="#ff00ff" stroke="none"/>
<circle cx="1856.4" cy="1992.4" r="7.2" fill="#ff00ff" stroke="none"/>
<circle cx="1880.5" cy="2003.2" r="7.2" fill="#ff00ff" stroke="none"/>
<circle cx="1904.2" cy="2012.9" r="7.2" fill="#ff00ff" stroke="none"/>
<circle cx="1927.6" cy="2023.7" r="7.2" fill="#ff00ff" stroke="none"/>
<circle cx="1951.4" cy="2032.4" r="7.2" fill="#ff00ff" stroke="none"/>
<circle cx="1974.8" cy="2043.2" r="7.2" fill="#ff00ff" stroke="none"/>
<circle cx="1998.5" cy="2052.0" r="7.2" fill="#ff00ff" stroke="none"/>
<circle cx="2022.3" cy="2060.1" r="7.2" fill="#ff00ff" stroke="none"/>
<circle cx="2045.7" cy="2068.2" r="7.2" fill="#ff00ff" stroke="none"/>
<circle cx="2070.1" cy="2076.3" r="7.2" fill="#ff00ff" stroke="none"/>
<circle cx="2092.8" cy="2082.8" r="7.2" fill="#ff00ff" stroke="none"/>
<circle cx="2116.6" cy="2089.3" r="7.2" fill="#ff00ff" stroke="none"/>
<circle cx="2140.7" cy="2095.9" r="7.2" fill="#ff00ff" stroke="none"/>
<circle cx="2164.4" cy="2104.0" r="7.2" fill="#ff00ff" stroke="none"/>
<circle cx="2188.1" cy="2109.8" r="7.2" fill="#ff00ff" stroke="none"/>
<circle cx="2211.5" cy="2116.0" r="7.2" fill="#ff00ff" stroke="none"/>
<circle cx="2235.3" cy="2121.9" r="7.2" fill="#ff00ff" stroke="none"/>
<path d="M305.0,2687.3 L305.4,2687.5 L305.8,2687.8 L306.4,2688.1 L307.0,2688.4 L307.7,2688.8 L308.4,2689.2 L309.1,2689.6 L309.9,2690.1 L310.6,2690.6 L311.3,2691.1 L312.0,2691.6 L312.6,2692.1 L313.2,2692.6 L313.7,2693.2 L314.3,2693.8 L314.9,2694.4 L315.4,2695.0 L315.9,2695.7 L316.4,2696.3 L317.0,2697.0 L317.5,2697.7 L318.0,2698.5 L318.4,2699.2 L318.9,2700.0 L319.4,2700.8 L319.8,2701.6 L320.2,2702.4 L320.6,2703.3 L321.1,2704.1 L321.4,2705.0 L321.8,2705.9 L322.2,2706.9 L322.6,2707.8 L323.0,2708.9 L323.3,2709.9 L323.7,2711.0 L324.1,2712.1 L324.4,2713.3 L324.7,2714.5 L325.1,2715.7 L325.4,2717.0 L325.7,2718.3 L326.0,2719.6 L326.3,2721.0 L326.6,2722.4 L327.0,2723.8 L327.3,2725.3 L327.6,2726.8 L327.9,2728.3 L328.3,2729.9 L328.6,2731.4 L328.9,2733.1 L329.3,2734.7 L329.6,2736.4 L329.9,2738.1 L330.3,2739.8 L330.6,2741.6 L330.9,2743.5 L331.3,2745.4 L331.6,2747.3 L331.9,2749.3 L332.3,2751.3 L332.6,2753.4 L332.9,2755.6 L333.2,2757.8 L333.6,2760.0 L333.9,2762.3 L334.2,2764.6 L334.5,2766.9 L334.9,2769.3 L335.2,2771.7 L335.5,2774.1 L335.8,2776.6 L336.2,2779.1 L336.5,2781.7 L336.8,2784.3 L337.2,2786.9 L337.5,2789.6 L337.8,2792.3 L338.2,2795.0 L338.5,2797.7 L338.8,2800.4 L339.1,2803.1 L339.4,2805.7 L339.7,2808.3 L340.0,2811.0 L340.2,2813.6 L340.5,2816.2 L340.8,2818.8 L341.0,2821.4 L341.3,2824.1 L341.6,2826.7 L341.8,2829.3 L342.1,2831.9 L342.3,2834.6 L342.6,2837.2 L342.9,2839.8 L343.1,2842.5 L343.4,2845.1 L343.7,2847.7 L343.9,2850.4 L344.2,2853.0 L344.5,2855.6 L344.7,2858.3 L345.0,2860.9 L345.3,2863.5 L345.5,2866.2 L345.8,2868.8 L346.1,2871.4 L346.3,2874.1 L346.6,2876.7 L346.8,2879.3 L347.1,2882.0 L347.3,2884.6 L347.5,2887.2 L347.8,2889.9 L348.1,2892.5 L348.3,2895.1 L348.6,2897.8 L348.9,2900.4 L349.2,2903.0 L349.5,2905.7 L349.8,2908.3 L350.2,2910.9 L350.5,2913.5 L350.8,2916.2 L351.2,2918.8 L351.5,2921.4 L351.9,2924.0 L352.2,2926.6 L352.6,2929.3 L352.9,2931.9 L353.2,2934.5 L353.6,2937.2 L353.9,2939.9 L354.2,2942.5 L354.5,2945.2 L354.9,2947.9 L355.2,2950.5 L355.5,2953.2 L355.8,2955.8 L356.2,2958.4 L356.5,2961.0 L356.8,2963.5 L357.1,2966.0 L357.5,2968.6 L357.8,2971.3 L358.1,2973.9 L358.5,2976.5 L358.8,2979.1 L359.1,2981.6 L359.4,2984.0 L359.7,2986.3 L360.0,2988.4 L360.3,2990.3 L360.5,2992.0 L360.7,2993.5 L360.9,2994.8 L361.1,2996.0 L361.2,2997.0 L361.4,2997.9 L361.5,2998.7 L361.6,2999.4 L361.7,3000.0 L361.8,3000.5 L361.9,3001.0 L361.9,3001.4 L362.0,3001.8 L362.2,1955.2 L362.3,1955.4 L362.4,1955.8 L362.5,1956.1 L362.6,1956.6 L362.7,1957.0 L362.8,1957.5 L363.0,1958.1 L363.2,1958.7 L363.4,1959.4 L363.7,1960.2 L364.0,1961.1 L364.4,1962.0 L364.8,1963.1 L365.3,1964.3 L365.9,1965.6 L366.5,1967.0 L367.2,1968.4 L367.9,1969.9 L368.6,1971.5 L369.2,1973.0 L369.9,1974.6 L370.6,1976.1 L371.2,1977.6 L371.8,1979.0 L372.3,1980.3 L372.8,1981.5 L373.3,1982.7 L373.7,1983.8 L374.1,1984.9 L374.5,1986.1 L374.9,1987.3 L375.4,1988.5 L375.9,1989.9 L376.5,1991.4 L377.1,1993.1 L377.8,1995.0 L378.6,1997.1 L379.5,1999.3 L380.4,2001.7 L381.4,2004.2 L382.4,2006.9 L383.4,2009.6 L384.5,2012.4 L385.6,2015.2 L386.7,2018.1 L387.7,2021.0 L388.8,2024.0 L389.8,2026.9 L390.8,2029.8 L391.8,2032.8 L392.8,2035.9 L393.8,2038.9 L394.8,2042.0 L395.8,2045.2 L396.8,2048.4 L397.8,2051.6 L398.8,2054.9 L399.8,2058.2 L400.8,2061.6 L401.8,2065.0 L402.8,2068.4 L403.8,2071.9 L404.8,2075.3 L405.7,2078.8 L406.7,2082.4 L407.7,2086.0 L408.7,2089.6 L409.6,2093.3 L410.6,2097.1 L411.6,2100.9 L412.5,2104.9 L413.5,2108.9 L414.5,2113.0 L415.4,2117.3 L416.3,2121.6 L417.3,2126.0 L418.2,2130.5 L419.1,2135.1 L420.1,2139.7 L421.0,2144.3 L421.9,2149.0 L422.9,2153.7 L423.8,2158.3 L424.8,2163.0 L425.8,2167.7 L426.7,2172.5 L427.7,2177.4 L428.7,2182.3 L429.7,2187.3 L430.7,2192.2 L431.7,2197.1 L432.7,2202.0 L433.6,2206.8 L434.6,2211.5 L435.6,2216.1 L436.6,2220.6 L437.6,2224.9 L438.6,2229.1 L439.5,2233.2 L440.5,2237.2 L441.5,2241.1 L442.4,2245.0 L443.4,2248.9 L444.4,2252.7 L445.4,2256.5 L446.3,2260.3 L447.3,2264.1 L448.3,2268.0 L449.3,2271.9 L450.3,2275.8 L451.3,2279.6 L452.3,2283.5 L453.3,2287.4 L454.3,2291.2 L455.3,2295.0 L456.3,2298.9 L457.3,2302.7 L458.3,2306.5 L459.3,2310.4 L460.3,2314.2 L461.3,2318.0 L462.2,2321.8 L463.2,2325.6 L464.1,2329.4 L465.1,2333.2 L466.0,2337.0 L467.0,2340.8 L467.9,2344.6 L468.9,2348.4 L469.9,2352.2 L470.8,2356.1 L471.8,2360.0 L472.8,2363.9 L473.8,2367.8 L474.8,2371.7 L475.8,2375.6 L476.8,2379.6 L477.8,2383.5 L478.8,2387.5 L479.9,2391.6 L480.9,2395.6 L481.9,2399.8 L482.9,2403.9 L483.9,2408.2 L484.9,2412.5 L485.9,2416.9 L486.9,2421.4 L487.9,2425.8 L488.9,2430.4 L489.8,2435.0 L490.8,2439.6 L491.8,2444.2 L492.8,2448.9 L493.8,2453.6 L494.8,2458.3 L495.8,2463.0 L496.8,2467.7 L497.8,2472.5 L498.9,2477.3 L499.9,2482.1 L500.9,2487.0 L502.0,2491.8 L503.0,2496.7 L504.0,2501.6 L505.1,2506.6 L506.1,2511.5 L507.1,2516.4 L508.1,2521.4 L509.1,2526.4 L510.1,2531.4 L511.1,2536.4 L512.0,2541.4 L513.0,2546.5 L514.0,2551.5 L514.9,2556.6 L515.9,2561.7 L516.9,2566.8 L517.8,2571.8 L518.8,2576.9 L519.8,2582.0 L520.8,2587.1 L521.8,2592.1 L522.8,2597.1 L523.7,2602.1 L524.7,2607.2 L525.7,2612.2 L526.7,2617.3 L527.7,2622.4 L528.7,2627.5 L529.7,2632.7 L530.7,2637.9 L531.7,2643.2 L532.7,2648.6 L533.7,2654.0 L534.7,2659.5 L535.7,2665.1 L536.7,2670.7 L537.7,2676.3 L538.7,2682.0 L539.8,2687.6 L540.8,2693.3 L541.8,2698.9 L542.8,2704.5 L543.8,2710.0 L544.8,2715.5 L545.8,2720.9 L546.8,2726.3 L547.9,2731.7 L548.9,2737.1 L549.9,2742.5 L550.9,2747.9 L551.9,2753.3 L552.9,2758.8 L553.9,2764.3 L554.9,2769.9 L555.9,2775.5 L556.9,2781.2 L557.8,2786.9 L558.8,2792.7 L559.8,2798.5 L560.7,2804.4 L561.7,2810.3 L562.6,2816.2 L563.5,2822.1 L564.5,2828.1 L565.4,2834.1 L566.4,2840.0 L567.3,2846.0 L568.3,2852.1 L569.2,2858.3 L570.2,2864.7 L571.2,2871.2 L572.2,2877.7 L573.2,2884.1 L574.1,2890.4 L575.1,2896.6 L576.0,2902.6 L576.9,2908.4 L577.7,2913.8 L578.5,2918.9 L579.3,2923.6 L580.0,2928.0 L580.6,2932.1 L581.3,2935.9 L581.9,2939.6 L582.5,2943.1 L583.1,2946.5 L583.7,2949.8 L584.2,2953.0 L584.7,2956.3 L585.3,2959.6 L585.8,2963.0 L586.3,2966.5 L586.9,2970.2 L587.4,2974.0 L587.9,2977.8 L588.5,2981.5 L589.0,2985.2 L589.4,2988.7 L589.9,2992.0 L590.3,2995.0 L590.6,2997.7 L590.9,3000.0 L591.2,3001.8 L591.2,1955.2 L591.3,1956.0 L591.5,1957.0 L591.6,1958.2 L591.8,1959.5 L592.0,1960.9 L592.2,1962.4 L592.5,1964.1 L592.7,1966.0 L593.0,1968.0 L593.3,1970.1 L593.7,1972.5 L594.0,1975.0 L594.4,1977.8 L594.8,1980.9 L595.2,1984.3 L595.7,1987.9 L596.2,1991.7 L596.7,1995.5 L597.2,1999.4 L597.7,2003.3 L598.2,2007.1 L598.7,2010.8 L599.2,2014.3 L599.7,2017.6 L600.2,2020.7 L600.6,2023.6 L601.0,2026.4 L601.5,2029.2 L601.9,2031.9 L602.3,2034.5 L602.7,2037.1 L603.2,2039.7 L603.6,2042.2 L604.1,2044.8 L604.5,2047.4 L605.0,2050.0 L605.5,2052.6 L606.0,2055.3 L606.5,2057.9 L607.0,2060.5 L607.6,2063.1 L608.1,2065.7 L608.6,2068.3 L609.2,2070.9 L609.7,2073.5 L610.2,2076.1 L610.7,2078.7 L611.2,2081.3 L611.7,2083.9 L612.1,2086.6 L612.6,2089.2 L613.0,2091.8 L613.5,2094.5 L613.9,2097.1 L614.3,2099.7 L614.8,2102.4 L615.2,2105.0 L615.6,2107.7 L616.1,2110.3 L616.5,2113.0 L616.9,2115.7 L617.4,2118.4 L617.8,2121.1 L618.2,2123.8 L618.7,2126.6 L619.1,2129.3 L619.6,2132.0 L620.0,2134.7 L620.5,2137.4 L620.9,2140.0 L621.4,2142.6 L621.9,2145.1 L622.4,2147.6 L622.9,2150.0 L623.4,2152.5 L624.0,2154.9 L624.5,2157.2 L625.1,2159.6 L625.6,2161.9 L626.2,2164.1 L626.7,2166.4 L627.3,2168.6 L627.9,2170.8 L628.5,2173.0 L629.1,2175.2 L629.7,2177.3 L630.4,2179.5 L631.1,2181.6 L631.7,2183.7 L632.4,2185.7 L633.1,2187.8 L633.7,2189.7 L634.4,2191.7 L635.0,2193.5 L635.6,2195.3 L636.2,2197.0 L636.8,2198.6 L637.3,2200.2 L637.8,2201.8 L638.3,2203.2 L638.8,2204.7 L639.3,2206.0 L639.8,2207.3 L640.3,2208.6 L640.7,2209.8 L641.2,2210.9 L641.6,2212.0 L642.0,2213.0 L642.4,2213.9 L642.8,2214.8 L643.1,2215.6 L643.5,2216.3 L643.8,2217.0 L644.1,2217.6 L644.4,2218.1 L644.7,2218.6 L645.0,2219.1 L645.4,2219.6 L645.7,2220.1 L646.0,2220.5 L646.3,2220.9 L646.7,2221.3 L647.0,2221.7 L647.3,2222.1 L647.7,2222.4 L648.0,2222.7 L648.3,2222.9 L648.7,2223.1 L649.0,2223.3 L649.3,2223.4 L649.7,2223.5 L650.0,2223.5 L650.3,2223.5 L650.7,2223.4 L651.0,2223.3 L651.3,2223.1 L651.7,2222.9 L652.0,2222.7 L652.3,2222.4 L652.7,2222.1 L653.0,2221.7 L653.3,2221.3 L653.7,2220.9 L654.0,2220.5 L654.3,2220.1 L654.7,2219.6 L655.0,2219.1 L655.3,2218.6 L655.7,2218.1 L656.0,2217.6 L656.3,2217.0 L656.7,2216.3 L657.0,2215.6 L657.3,2214.8 L657.7,2213.9 L658.0,2213.0 L658.3,2212.0 L658.7,2210.9 L659.0,2209.8 L659.3,2208.6 L659.7,2207.4 L660.0,2206.1 L660.4,2204.7 L660.7,2203.3 L661.1,2201.8 L661.4,2200.3 L661.8,2198.7 L662.2,2197.0 L662.6,2195.2 L663.0,2193.4 L663.5,2191.4 L663.9,2189.4 L664.4,2187.3 L664.8,2185.2 L665.3,2183.0 L665.7,2180.8 L666.2,2178.6 L666.6,2176.4 L667.1,2174.2 L667.5,2172.0 L667.9,2169.8 L668.3,2167.7 L668.8,2165.5 L669.2,2163.3 L669.6,2161.1 L670.0,2158.9 L670.4,2156.7 L670.8,2154.4 L671.2,2152.2 L671.6,2149.8 L672.0,2147.5 L672.4,2145.1 L672.8,2142.7 L673.1,2140.2 L673.5,2137.7 L673.8,2135.1 L674.2,2132.5 L674.5,2129.9 L674.9,2127.3 L675.2,2124.6 L675.5,2122.0 L675.9,2119.3 L676.2,2116.7 L676.5,2114.0 L676.8,2111.3 L677.1,2108.6 L677.5,2105.9 L677.8,2103.2 L678.1,2100.4 L678.4,2097.7 L678.7,2094.9 L679.0,2092.2 L679.3,2089.4 L679.5,2086.7 L679.8,2084.0 L680.1,2081.3 L680.4,2078.6 L680.6,2076.0 L680.9,2073.4 L681.1,2070.8 L681.4,2068.2 L681.6,2065.6 L681.9,2063.0 L682.1,2060.5 L682.3,2057.9 L682.6,2055.3 L682.8,2052.6 L683.0,2050.0 L683.2,2047.3 L683.4,2044.7 L683.6,2042.0 L683.8,2039.3 L684.0,2036.6 L684.1,2033.9 L684.3,2031.2 L684.5,2028.5 L684.7,2025.7 L684.8,2023.0 L685.0,2020.3 L685.2,2017.6 L685.4,2014.9 L685.6,2012.1 L685.7,2009.4 L685.9,2006.6 L686.1,2003.9 L686.3,2001.1 L686.5,1998.4 L686.6,1995.7 L686.8,1993.0 L687.0,1990.3 L687.1,1987.6 L687.3,1985.0 L687.5,1982.3 L687.6,1979.5 L687.8,1976.6 L688.0,1973.7 L688.1,1970.9 L688.3,1968.0 L688.4,1965.3 L688.6,1962.8 L688.7,1960.4 L688.8,1958.4 L688.9,1956.6 L689.0,1955.2 L690.0,3001.8 L691.2,3001.8 L691.2,3001.8 L691.7,2992.4 L692.3,2981.0 L692.9,2967.9 L693.7,2953.2 L694.5,2937.0 L695.4,2919.7 L696.3,2901.3 L697.3,2882.0 L698.3,2862.1 L699.4,2841.7 L700.4,2820.9 L701.5,2800.0 L702.6,2778.4 L703.8,2755.7 L705.0,2731.9 L706.2,2707.3 L707.5,2682.0 L708.9,2656.1 L710.2,2630.0 L711.6,2603.6 L712.9,2577.3 L714.2,2551.1 L715.5,2525.3 L716.8,2500.0 L718.1,2474.3 L719.4,2447.6 L720.8,2420.1 L722.1,2392.2 L723.5,2364.4 L724.9,2336.9 L726.2,2310.1 L727.4,2284.4 L728.6,2260.2 L729.7,2237.8 L730.7,2217.6 L731.6,2200.0 L732.3,2185.4 L732.9,2173.6 L733.4,2164.3 L733.8,2156.8 L734.2,2150.9 L734.5,2145.9 L734.7,2141.5 L735.0,2137.0 L735.3,2132.1 L735.6,2126.3 L735.9,2119.1 L736.4,2110.0 L736.9,2098.9 L737.6,2086.2 L738.2,2072.2 L738.9,2057.5 L739.7,2042.2 L740.4,2027.0 L741.1,2012.0 L741.8,1997.7 L742.4,1984.5 L743.0,1972.7 L743.4,1962.8 L743.8,1955.2 L744.5,1955.2 L744.5,3001.8 L744.5,3001.8 L744.8,2997.2 L745.1,2991.4 L745.5,2984.6 L745.9,2977.0 L746.4,2968.8 L746.8,2960.0 L747.4,2950.8 L747.9,2941.5 L748.4,2932.1 L749.0,2922.7 L749.5,2913.7 L750.0,2905.0 L750.5,2896.7 L751.0,2888.5 L751.5,2880.4 L751.9,2872.3 L752.4,2864.1 L752.9,2855.8 L753.5,2847.4 L754.0,2838.6 L754.6,2829.6 L755.2,2820.2 L755.8,2810.4 L756.5,2800.0 L757.2,2789.1 L758.0,2777.6 L758.8,2765.7 L759.7,2753.3 L760.6,2740.7 L761.4,2727.8 L762.4,2714.8 L763.3,2701.7 L764.2,2688.6 L765.2,2675.5 L766.1,2662.6 L767.0,2650.0 L767.9,2637.5 L768.8,2625.0 L769.7,2612.5 L770.6,2600.0 L771.6,2587.5 L772.5,2575.0 L773.4,2562.5 L774.4,2550.0 L775.3,2537.5 L776.3,2525.0 L777.3,2512.5 L778.3,2500.0 L779.3,2487.5 L780.4,2475.0 L781.4,2462.5 L782.5,2450.0 L783.6,2437.5 L784.7,2425.0 L785.8,2412.5 L786.9,2400.0 L788.0,2387.5 L789.2,2375.0 L790.3,2362.5 L791.5,2350.0 L792.7,2337.3 L793.9,2324.3 L795.2,2311.1 L796.5,2297.8 L797.8,2284.5 L799.0,2271.2 L800.3,2258.2 L801.6,2245.6 L802.8,2233.3 L804.0,2221.5 L805.1,2210.4 L806.2,2200.0 L807.2,2190.4 L808.1,2181.6 L808.9,2173.5 L809.7,2165.9 L810.5,2158.8 L811.3,2151.9 L812.0,2145.2 L812.8,2138.5 L813.5,2131.8 L814.4,2124.9 L815.2,2117.7 L816.2,2110.0 L817.2,2101.9 L818.3,2093.4 L819.5,2084.6 L820.7,2075.7 L822.0,2066.8 L823.2,2057.8 L824.5,2049.0 L825.7,2040.4 L826.9,2032.1 L828.0,2024.2 L829.0,2016.8 L830.0,2010.0 L830.9,2003.7 L831.8,1997.6 L832.6,1991.8 L833.4,1986.3 L834.2,1981.2 L834.9,1976.3 L835.6,1971.8 L836.2,1967.7 L836.8,1963.9 L837.3,1960.6 L837.7,1957.7 L838.1,1955.2 L838.1,3001.8 L837.9,3001.8 L838.5,2997.9 L839.0,2994.1 L839.6,2990.2 L840.2,2986.4 L840.7,2982.6 L841.3,2978.9 L841.9,2975.2 L842.4,2971.5 L843.0,2967.9 L843.6,2964.2 L844.1,2960.6 L844.7,2957.1 L845.3,2953.5 L845.8,2950.0 L846.4,2946.4 L847.0,2942.9 L847.5,2939.4 L848.1,2936.0 L848.7,2932.5 L849.2,2929.1 L849.8,2925.7 L850.4,2922.3 L850.9,2918.9 L851.5,2915.5 L852.1,2912.2 L852.6,2908.8 L853.2,2905.5 L853.8,2902.2 L854.3,2899.0 L854.9,2895.7 L855.5,2892.5 L856.0,2889.2 L856.6,2886.0 L857.2,2882.8 L857.7,2879.7 L858.3,2876.5 L858.9,2873.4 L859.4,2870.3 L860.0,2867.2 L860.5,2864.5 L862.3,2854.6 L864.2,2845.0 L866.0,2835.6 L867.8,2826.3 L869.6,2817.2 L871.5,2808.3 L873.3,2799.5 L875.1,2790.9 L877.0,2782.5 L878.8,2774.1 L880.6,2765.9 L882.4,2757.8 L884.3,2749.8 L886.1,2741.9 L887.9,2734.1 L889.8,2726.4 L891.6,2718.7 L893.4,2711.2 L895.2,2703.7 L897.1,2696.2 L898.9,2688.8 L900.7,2681.4 L902.6,2674.2 L904.4,2666.9 L906.2,2659.7 L908.0,2652.6 L909.9,2645.5 L911.7,2638.5 L913.5,2631.6 L915.4,2624.7 L917.2,2617.9 L919.0,2611.1 L920.8,2604.5 L922.7,2597.9 L924.5,2591.3 L926.3,2584.9 L928.2,2578.5 L930.0,2572.2 L931.8,2565.9 L933.6,2559.8 L935.5,2553.7 L937.3,2547.7 L939.1,2541.8 L941.0,2536.0 L942.8,2530.3 L944.6,2524.6 L946.4,2519.0 L948.3,2513.5 L950.1,2508.1 L951.9,2502.7 L953.8,2497.4 L955.6,2492.1 L957.4,2487.0 L959.2,2481.8 L961.1,2476.8 L962.9,2471.8 L964.7,2466.8 L966.6,2461.9 L968.4,2457.0 L970.2,2452.2 L972.0,2447.4 L973.9,2442.7 L975.7,2438.0 L977.5,2433.4 L979.3,2428.8 L981.2,2424.2 L983.0,2419.6 L984.8,2415.1 L986.7,2410.6 L988.5,2406.2 L990.3,2401.7 L992.1,2397.3 L994.0,2392.9 L995.8,2388.5 L997.6,2384.1 L999.5,2379.8 L1001.3,2375.5 L1003.1,2371.2 L1004.9,2366.9 L1006.8,2362.6 L1008.6,2358.4 L1010.4,2354.2 L1012.3,2350.0 L1014.1,2345.9 L1015.9,2341.7 L1017.7,2337.6 L1019.6,2333.6 L1021.4,2329.5 L1023.2,2325.5 L1025.1,2321.5 L1026.9,2317.5 L1028.7,2313.6 L1030.5,2309.7 L1032.4,2305.8 L1034.2,2301.9 L1036.0,2298.1 L1037.9,2294.3 L1039.7,2290.6 L1041.5,2286.8 L1043.3,2283.1 L1045.2,2279.5 L1047.0,2275.8 L1048.8,2272.2 L1050.7,2268.7 L1052.5,2265.1 L1054.3,2261.6 L1056.1,2258.2 L1058.0,2254.7 L1059.8,2251.3 L1061.6,2248.0 L1063.5,2244.7 L1065.3,2241.4 L1067.1,2238.1 L1068.9,2234.9 L1070.8,2231.7 L1072.6,2228.6 L1074.4,2225.5 L1076.3,2222.5 L1078.1,2219.5 L1079.9,2216.5 L1081.7,2213.5 L1083.6,2210.7 L1085.4,2207.8 L1087.2,2205.0 L1089.1,2202.2 L1090.9,2199.5 L1092.7,2196.8 L1094.5,2194.2 L1096.4,2191.6 L1098.2,2189.0 L1100.0,2186.5 L1101.9,2184.1 L1103.7,2181.7 L1105.5,2179.3 L1107.3,2177.0 L1109.2,2174.7 L1111.0,2172.5 L1112.8,2170.3 L1114.7,2168.2 L1116.5,2166.1 L1118.3,2164.1 L1120.1,2162.1 L1122.0,2160.2 L1123.8,2158.3 L1125.6,2156.5 L1127.5,2154.7 L1129.3,2153.0 L1131.1,2151.3 L1132.9,2149.7 L1134.8,2148.1 L1136.6,2146.6 L1138.4,2145.1 L1140.3,2143.7 L1142.1,2142.4 L1143.9,2141.1 L1145.7,2139.8 L1147.6,2138.7 L1149.4,2137.5 L1151.2,2136.5 L1153.1,2135.4 L1154.9,2134.5 L1156.7,2133.6 L1158.5,2132.8 L1160.4,2132.1 L1162.2,2131.4 L1164.0,2130.8 L1165.9,2130.3 L1167.7,2129.8 L1169.5,2129.5 L1171.3,2129.2 L1173.2,2129.1 L1175.0,2129.0 L1176.8,2129.0 L1178.7,2129.2 L1180.5,2129.4 L1182.3,2129.7 L1184.1,2130.2 L1186.0,2130.7 L1187.8,2131.4 L1189.6,2132.2 L1191.5,2133.1 L1193.3,2134.1 L1195.1,2135.3 L1196.9,2136.6 L1198.8,2138.0 L1200.6,2139.6 L1202.4,2141.3 L1204.2,2143.1 L1206.1,2145.1 L1207.9,2147.3 L1209.7,2149.6 L1211.6,2152.0 L1213.4,2154.6 L1215.2,2157.4 L1217.0,2160.3 L1218.9,2163.4 L1220.7,2166.6 L1222.5,2170.1 L1224.4,2173.7 L1226.2,2177.6 L1228.0,2181.7 L1229.8,2186.1 L1231.7,2190.7 L1233.5,2195.8 L1235.3,2201.1 L1237.2,2206.9 L1239.0,2212.9 L1240.8,2219.2 L1242.6,2225.7 L1244.5,2232.2 L1246.3,2238.8 L1248.1,2245.3 L1250.0,2251.7 L1251.8,2258.0 L1253.6,2264.1 L1255.4,2270.0 L1257.3,2275.9 L1259.1,2281.6 L1260.9,2287.2 L1262.8,2292.8 L1264.6,2298.2 L1266.4,2303.6 L1268.2,2308.9 L1270.1,2314.2 L1271.9,2319.4 L1273.7,2324.6 L1275.6,2329.8 L1277.4,2335.0 L1279.2,2340.2 L1281.0,2345.4 L1282.9,2350.7 L1284.7,2356.0 L1286.5,2361.3 L1288.4,2366.6 L1290.2,2372.0 L1292.0,2377.3 L1293.8,2382.7 L1295.7,2388.1 L1297.5,2393.5 L1299.3,2398.9 L1301.2,2404.3 L1303.0,2409.7 L1304.8,2415.1 L1306.6,2420.5 L1308.5,2425.8 L1310.3,2431.2 L1312.1,2436.5 L1314.0,2441.8 L1315.8,2447.0 L1317.6,2452.3 L1319.4,2457.5 L1321.3,2462.6 L1323.1,2467.7 L1324.9,2472.8 L1326.8,2477.8 L1328.6,2482.7 L1330.4,2487.6 L1332.2,2492.4 L1334.1,2497.2 L1335.9,2501.9 L1337.7,2506.5 L1339.6,2511.0 L1341.4,2515.5 L1343.2,2519.9 L1345.0,2524.3 L1346.9,2528.6 L1348.7,2532.8 L1350.5,2537.0 L1352.4,2541.1 L1354.2,2545.2 L1356.0,2549.2 L1357.8,2553.1 L1359.7,2557.0 L1361.5,2560.9 L1363.3,2564.7 L1365.2,2568.4 L1367.0,2572.1 L1368.8,2575.8 L1370.6,2579.4 L1372.5,2583.0 L1374.3,2586.5 L1376.1,2590.0 L1378.0,2593.4 L1379.8,2596.9 L1381.6,2600.2 L1383.4,2603.6 L1385.3,2606.9 L1387.1,2610.2 L1388.9,2613.5 L1390.8,2616.7 L1392.6,2619.9 L1394.4,2623.1 L1396.2,2626.3 L1398.1,2629.4 L1399.9,2632.6 L1401.7,2635.7 L1403.6,2638.8 L1405.4,2641.9 L1407.2,2644.9 L1409.0,2648.0 L1410.9,2651.0 L1412.7,2654.1 L1414.5,2657.1 L1416.4,2660.1 L1418.2,2663.1 L1420.0,2666.1 L1421.8,2669.1 L1423.7,2672.0 L1425.5,2675.0 L1427.3,2677.9 L1429.2,2680.9 L1431.0,2683.8 L1432.8,2686.7 L1434.6,2689.6 L1436.5,2692.5 L1438.3,2695.3 L1440.1,2698.2 L1441.9,2701.0 L1443.8,2703.8 L1445.6,2706.6 L1447.4,2709.4 L1449.3,2712.2 L1451.1,2714.9 L1452.9,2717.6 L1454.7,2720.3 L1456.6,2723.0 L1458.4,2725.7 L1460.2,2728.4 L1462.1,2731.0 L1463.9,2733.6 L1465.7,2736.2 L1467.5,2738.8 L1469.4,2741.3 L1471.2,2743.9 L1473.0,2746.4 L1474.9,2748.9 L1476.7,2751.4 L1478.5,2753.8 L1480.3,2756.3 L1482.2,2758.7 L1484.0,2761.1 L1485.8,2763.5 L1487.7,2765.9 L1489.5,2768.2 L1491.3,2770.6 L1493.1,2772.9 L1495.0,2775.2 L1496.8,2777.5 L1498.6,2779.7 L1500.5,2782.0 L1502.3,2784.2 L1504.1,2786.5 L1505.9,2788.7 L1507.8,2790.8 L1509.6,2793.0 L1511.4,2795.2 L1513.3,2797.3 L1515.1,2799.4 L1516.9,2801.5 L1518.7,2803.6 L1520.6,2805.7 L1522.4,2807.7 L1524.2,2809.8 L1526.1,2811.8 L1527.9,2813.8 L1529.7,2815.8 L1531.5,2817.8 L1533.4,2819.8 L1535.2,2821.7 L1537.0,2823.7 L1538.9,2825.6 L1540.7,2827.5 L1542.5,2829.4 L1544.3,2831.3 L1546.2,2833.1 L1548.0,2835.0 L1549.8,2836.8 L1551.7,2838.7 L1553.5,2840.5 L1555.3,2842.3 L1557.1,2844.1 L1559.0,2845.8 L1560.8,2847.6 L1562.6,2849.3 L1564.5,2851.1 L1566.3,2852.8 L1568.1,2854.5 L1569.9,2856.2 L1571.8,2857.9 L1573.6,2859.6 L1575.4,2861.2 L1577.3,2862.9 L1579.1,2864.5 L1580.9,2866.1 L1582.7,2867.8 L1584.6,2869.4 L1586.4,2870.9 L1588.2,2872.5 L1590.1,2874.1 L1591.9,2875.7 L1593.7,2877.2 L1595.5,2878.7 L1597.4,2880.3 L1599.2,2881.8 L1601.0,2883.3 L1602.9,2884.8 L1604.7,2886.3 L1606.5,2887.7 L1608.3,2889.2 L1610.2,2890.7 L1612.0,2892.1 L1613.8,2893.5 L1615.7,2895.0 L1617.5,2896.4 L1619.3,2897.8 L1621.1,2899.2 L1623.0,2900.6 L1624.8,2902.0 L1626.6,2903.3 L1628.5,2904.7 L1630.3,2906.1 L1632.1,2907.4 L1633.9,2908.8 L1635.8,2910.1 L1637.6,2911.4 L1639.4,2912.7 L1641.3,2914.0 L1643.1,2915.3 L1644.9,2916.6 L1646.7,2917.9 L1648.6,2919.2 L1650.4,2920.5 L1652.2,2921.7 L1654.1,2923.0 L1655.9,2924.2 L1657.7,2925.5 L1659.5,2926.7 L1661.4,2928.0 L1663.2,2929.2 L1665.0,2930.4 L1666.8,2931.6 L1668.7,2932.8 L1670.5,2934.0 L1672.3,2935.2 L1674.2,2936.4 L1676.0,2937.6 L1677.8,2938.8 L1679.6,2940.0 L1681.5,2941.1 L1683.3,2942.3 L1685.1,2943.5 L1687.0,2944.6 L1688.8,2945.8 L1690.6,2946.9 L1692.4,2948.1 L1694.3,2949.2 L1696.1,2950.3 L1697.9,2951.5 L1699.8,2952.6 L1701.6,2953.7 L1703.4,2954.8 L1705.2,2956.0 L1707.1,2957.1 L1708.9,2958.2 L1710.7,2959.3 L1712.6,2960.4 L1714.4,2961.5 L1716.2,2962.6 L1718.0,2963.7 L1719.9,2964.8 L1721.7,2965.9 L1723.5,2967.0 L1725.4,2968.1 L1727.2,2969.1 L1729.0,2970.2 L1730.8,2971.3 L1732.7,2972.4 L1734.5,2973.5 L1736.3,2974.5 L1738.2,2975.6 L1740.0,2976.7 L1741.8,2977.8 L1743.6,2978.8 L1745.5,2979.9 L1747.3,2981.0 L1749.1,2982.1 L1751.0,2983.1 L1752.8,2984.2 L1754.6,2985.3 L1756.4,2986.3 L1758.3,2987.4 L1760.1,2988.5 L1761.9,2989.5 L1763.8,2990.6 L1765.6,2991.7 L1767.4,2992.8 L1769.2,2993.8 L1771.1,2994.9 L1772.9,2996.0 L1772.9,1955.2 L1774.4,1955.9 L1776.4,1956.8 L1778.7,1957.9 L1781.2,1959.2 L1784.0,1960.5 L1786.9,1961.9 L1790.0,1963.4 L1793.1,1964.9 L1796.2,1966.4 L1799.2,1967.9 L1802.2,1969.3 L1805.0,1970.7 L1807.7,1972.0 L1810.4,1973.4 L1813.1,1974.7 L1815.8,1976.1 L1818.6,1977.5 L1821.3,1978.9 L1824.0,1980.2 L1826.7,1981.6 L1829.4,1982.9 L1832.2,1984.3 L1834.9,1985.6 L1837.6,1986.9 L1840.3,1988.2 L1843.0,1989.4 L1845.7,1990.7 L1848.4,1991.9 L1851.1,1993.1 L1853.9,1994.4 L1856.6,1995.6 L1859.3,1996.8 L1862.0,1998.0 L1864.7,1999.1 L1867.4,2000.3 L1870.1,2001.5 L1872.8,2002.7 L1875.5,2003.9 L1878.2,2005.0 L1880.9,2006.2 L1883.6,2007.3 L1886.3,2008.5 L1889.1,2009.6 L1891.8,2010.8 L1894.5,2011.9 L1897.2,2013.0 L1899.9,2014.1 L1902.6,2015.2 L1905.3,2016.3 L1908.0,2017.3 L1910.7,2018.4 L1913.4,2019.4 L1916.1,2020.4 L1918.8,2021.4 L1921.6,2022.5 L1924.3,2023.5 L1927.0,2024.5 L1929.7,2025.5 L1932.4,2026.5 L1935.1,2027.6 L1937.8,2028.7 L1940.5,2029.8 L1943.2,2030.8 L1945.9,2031.9 L1948.6,2033.1 L1951.3,2034.2 L1954.1,2035.3 L1956.8,2036.4 L1959.5,2037.4 L1962.2,2038.5 L1964.9,2039.6 L1967.6,2040.6 L1970.3,2041.6 L1973.0,2042.6 L1975.7,2043.6 L1978.5,2044.5 L1981.2,2045.5 L1983.9,2046.4 L1986.6,2047.3 L1989.3,2048.3 L1992.1,2049.2 L1994.8,2050.1 L1997.5,2051.1 L2000.2,2052.0 L2002.9,2052.9 L2005.6,2053.9 L2008.3,2054.8 L2011.0,2055.8 L2013.7,2056.7 L2016.5,2057.7 L2019.2,2058.6 L2021.9,2059.5 L2024.6,2060.5 L2027.3,2061.4 L2030.0,2062.4 L2032.7,2063.3 L2035.4,2064.2 L2038.1,2065.2 L2040.8,2066.2 L2043.5,2067.1 L2046.2,2068.1 L2048.9,2069.0 L2051.7,2070.0 L2054.4,2070.9 L2057.1,2071.9 L2059.8,2072.8 L2062.5,2073.8 L2065.2,2074.7 L2067.9,2075.6 L2070.6,2076.5 L2073.3,2077.4 L2076.0,2078.3 L2078.7,2079.2 L2081.4,2080.1 L2084.2,2081.0 L2086.9,2081.9 L2089.6,2082.8 L2092.3,2083.6 L2095.0,2084.5 L2097.7,2085.4 L2100.4,2086.3 L2103.1,2087.2 L2105.8,2088.1 L2108.5,2088.9 L2111.2,2089.8 L2113.9,2090.7 L2116.7,2091.6 L2119.4,2092.5 L2122.1,2093.3 L2124.8,2094.2 L2127.5,2095.1 L2130.2,2095.9 L2132.9,2096.7 L2135.6,2097.6 L2138.3,2098.4 L2141.1,2099.2 L2143.8,2100.0 L2146.5,2100.8 L2149.2,2101.6 L2151.9,2102.4 L2154.7,2103.2 L2157.4,2104.0 L2160.1,2104.8 L2162.8,2105.6 L2165.5,2106.4 L2168.0,2107.2 L2170.5,2108.0 L2173.0,2108.8 L2175.5,2109.6 L2178.0,2110.3 L2180.5,2111.1 L2183.2,2112.0 L2186.0,2112.8 L2188.9,2113.6 L2192.0,2114.5 L2195.3,2115.4 L2199.0,2116.4 L2203.2,2117.4 L2207.7,2118.5 L2212.4,2119.7 L2217.3,2120.9 L2222.2,2122.1 L2226.9,2123.2 L2231.5,2124.3 L2235.7,2125.3 L2239.4,2126.2 L2242.5,2126.9 L2245.0,2127.5" stroke="#000"/>
</g>
<rect x="305" y="1897" width="1940" height="1163" fill="none" stroke="#000" stroke-width="2"/>
<g stroke="#000" stroke-width="2"><line x1="305.0" y1="3060" x2="305.0" y2="3040"/><line x1="305.0" y1="1897" x2="305.0" y2="1917"/><line x1="547.5" y1="3060" x2="547.5" y2="3040"/><line x1="547.5" y1="1897" x2="547.5" y2="1917"/><line x1="790.0" y1="3060" x2="790.0" y2="3040"/><line x1="790.0" y1="1897" x2="790.0" y2="1917"/><line x1="1032.5" y1="3060" x2="1032.5" y2="3040"/><line x1="1032.5" y1="1897" x2="1032.5" y2="1917"/><line x1="1275.0" y1="3060" x2="1275.0" y2="3040"/><line x1="1275.0" y1="1897" x2="1275.0" y2="1917"/><line x1="1517.5" y1="3060" x2="1517.5" y2="3040"/><line x1="1517.5" y1="1897" x2="1517.5" y2="1917"/><line x1="1760.0" y1="3060" x2="1760.0" y2="3040"/><line x1="1760.0" y1="1897" x2="1760.0" y2="1917"/><line x1="2002.5" y1="3060" x2="2002.5" y2="3040"/><line x1="2002.5" y1="1897" x2="2002.5" y2="1917"/><line x1="2245.0" y1="3060" x2="2245.0" y2="3040"/><line x1="2245.0" y1="1897" x2="2245.0" y2="1917"/><line x1="305" y1="1897.0" x2="325" y2="1897.0"/><line x1="2245" y1="1897.0" x2="2225" y2="1897.0"/><line x1="305" y1="2187.75" x2="325" y2="2187.75"/><line x1="2245" y1="2187.75" x2="2225" y2="2187.75"/><line x1="305" y1="2478.5" x2="325" y2="2478.5"/><line x1="2245" y1="2478.5" x2="2225" y2="2478.5"/><line x1="305" y1="2769.25" x2="325" y2="2769.25"/><line x1="2245" y1="2769.25" x2="2225" y2="2769.25"/><line x1="305" y1="3060.0" x2="325" y2="3060.0"/><line x1="2245" y1="3060.0" x2="2225" y2="3060.0"/></g>
<g fill="#404040" font-size="76"><text x="305.0" y="3149.5" text-anchor="middle">0</text><text x="547.5" y="3149.5" text-anchor="middle">10</text><text x="790.0" y="3149.5" text-anchor="middle">20</text><text x="1032.5" y="3149.5" text-anchor="middle">30</text><text x="1275.0" y="3149.5" text-anchor="middle">40</text><text x="1517.5" y="3149.5" text-anchor="middle">50</text><text x="1760.0" y="3149.5" text-anchor="middle">60</text><text x="2002.5" y="3149.5" text-anchor="middle">70</text><text x="2245.0" y="3149.5" text-anchor="middle">80</text><text x="285.5" y="1923.0" text-anchor="end">200</text><text x="285.5" y="2213.8" text-anchor="end">100</text><text x="285.5" y="2504.5" text-anchor="end">0</text><text x="285.5" y="2795.2" text-anchor="end">-100</text><text x="285.5" y="3086.0" text-anchor="end">-200</text></g>
<text x="1274" y="3244.9" font-size="82.2" fill="#404040" text-anchor="middle">Frequency / GHz</text>
<text transform="translate(127,2481) rotate(-90)" font-size="81.9" fill="#222" text-anchor="middle">Transmission Coefficient Phase / (°)</text>
<rect x="1235" y="1921.2" width="504.4000000000001" height="225.29999999999995" fill="#fff" stroke="#111" stroke-width="2.2"/>
<line x1="1242.9" y1="1951.4" x2="1324" y2="1951.4" stroke="#ff0000" stroke-width="7" stroke-dasharray="17.2 2.9 8.9 3.1"/>
<line x1="1242.9" y1="2006.5" x2="1324" y2="2006.5" stroke="#0000ff" stroke-width="7" stroke-dasharray="17.1 14.9"/>
<circle cx="1283" cy="2061" r="7.2" fill="#ff00ff"/>
<line x1="1242.9" y1="2116.4" x2="1324" y2="2116.4" stroke="#000" stroke-width="7"/>
<g font-size="47.9" fill="#000"><text x="1329.3" y="1968.9">JEC-FDTD Method</text><text x="1330.4" y="2022.6">ADE-FDTD Method</text><text x="1329.8" y="2078.1">Proposed Method</text><text x="1329.8" y="2132.7">Exact</text></g>
<g font-size="86" fill="#000"><text x="1052" y="3485">(</text><text x="1079" y="3485" font-weight="bold">b</text><text x="1128" y="3485">)</text></g>
</svg></body></html>
